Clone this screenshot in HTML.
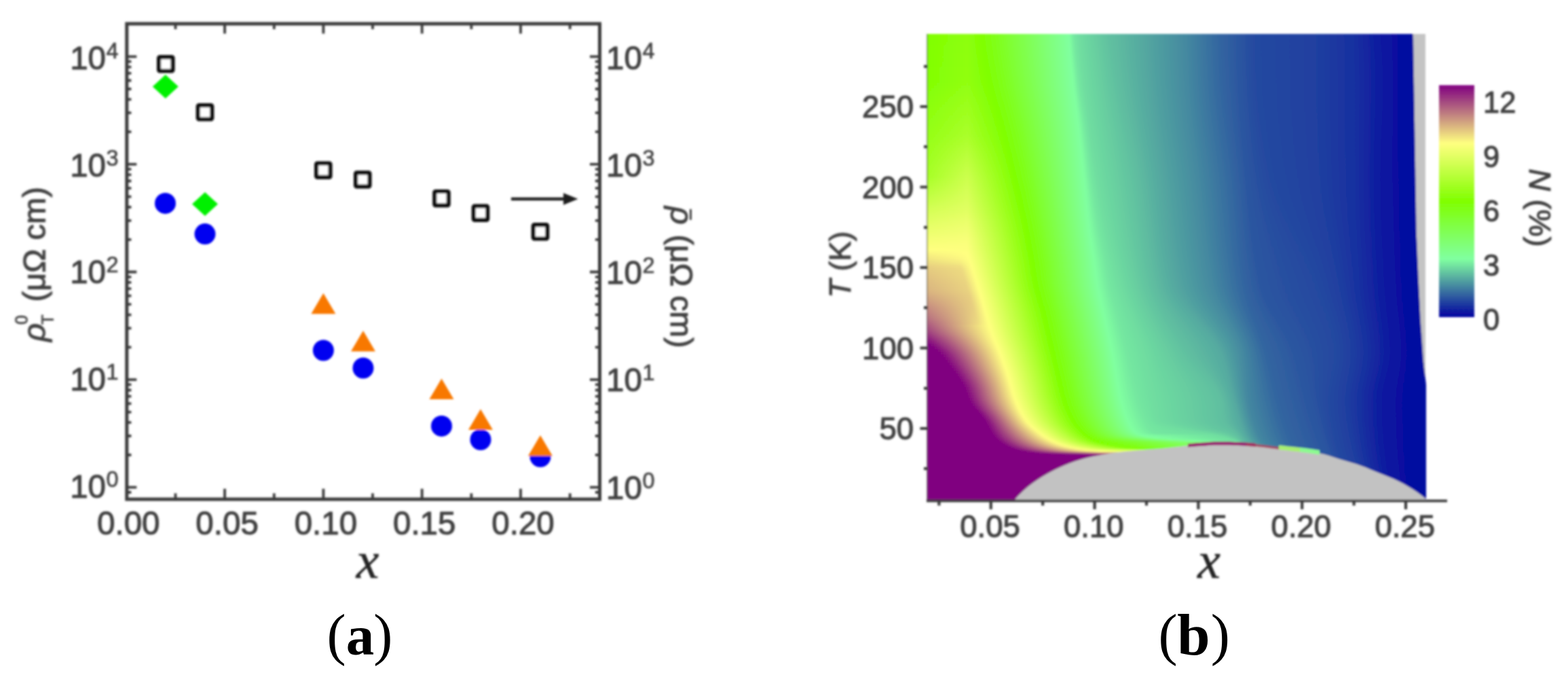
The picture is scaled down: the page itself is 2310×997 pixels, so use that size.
<!DOCTYPE html>
<html lang="en"><head><meta charset="utf-8"><title>Figure</title>
<style>html,body{margin:0;padding:0;background:#fff}svg{display:block}</style></head><body>
<svg width="2310" height="997" viewBox="0 0 2310 997">
<defs><filter id="soft" x="-2%" y="-2%" width="104%" height="104%"><feGaussianBlur stdDeviation="1.4"/></filter>
<linearGradient id="cb" x1="0" y1="1" x2="0" y2="0"><stop offset="0.000" stop-color="#0000a0"/><stop offset="0.250" stop-color="#80ffa0"/><stop offset="0.500" stop-color="#80ff00"/><stop offset="0.750" stop-color="#ffff80"/><stop offset="1.000" stop-color="#800080"/></linearGradient></defs>
<rect width="2310" height="997" fill="#fff"/>
<g id="plotA" filter="url(#soft)">
<rect x="186.8" y="35.0" width="696.7" height="700.2" fill="none" stroke="#3a3a3a" stroke-width="5.0"/>
<path d="M258.5 735.2v-8.8M258.5 35.0v8M331.1 735.2v-15.5M331.1 35.0v14.5M403.8 735.2v-8.8M403.8 35.0v8M476.4 735.2v-15.5M476.4 35.0v14.5M549.0 735.2v-8.8M549.0 35.0v8M621.7 735.2v-15.5M621.7 35.0v14.5M694.4 735.2v-8.8M694.4 35.0v8M767.0 735.2v-15.5M767.0 35.0v14.5M839.7 735.2v-8.8M839.7 35.0v8M186.8 717.7h14.5M883.5 717.7h-14.5M186.8 670.0h6.6M883.5 670.0h-6.6M186.8 642.0h6.6M883.5 642.0h-6.6M186.8 622.2h6.6M883.5 622.2h-6.6M186.8 606.8h6.6M883.5 606.8h-6.6M186.8 594.3h6.6M883.5 594.3h-6.6M186.8 583.7h6.6M883.5 583.7h-6.6M186.8 574.5h6.6M883.5 574.5h-6.6M186.8 566.4h6.6M883.5 566.4h-6.6M186.8 559.1h14.5M883.5 559.1h-14.5M186.8 511.4h6.6M883.5 511.4h-6.6M186.8 483.4h6.6M883.5 483.4h-6.6M186.8 463.6h6.6M883.5 463.6h-6.6M186.8 448.2h6.6M883.5 448.2h-6.6M186.8 435.7h6.6M883.5 435.7h-6.6M186.8 425.1h6.6M883.5 425.1h-6.6M186.8 415.9h6.6M883.5 415.9h-6.6M186.8 407.8h6.6M883.5 407.8h-6.6M186.8 400.5h14.5M883.5 400.5h-14.5M186.8 352.8h6.6M883.5 352.8h-6.6M186.8 324.8h6.6M883.5 324.8h-6.6M186.8 305.0h6.6M883.5 305.0h-6.6M186.8 289.6h6.6M883.5 289.6h-6.6M186.8 277.1h6.6M883.5 277.1h-6.6M186.8 266.5h6.6M883.5 266.5h-6.6M186.8 257.3h6.6M883.5 257.3h-6.6M186.8 249.2h6.6M883.5 249.2h-6.6M186.8 241.9h14.5M883.5 241.9h-14.5M186.8 194.2h6.6M883.5 194.2h-6.6M186.8 166.2h6.6M883.5 166.2h-6.6M186.8 146.4h6.6M883.5 146.4h-6.6M186.8 131.0h6.6M883.5 131.0h-6.6M186.8 118.5h6.6M883.5 118.5h-6.6M186.8 107.9h6.6M883.5 107.9h-6.6M186.8 98.7h6.6M883.5 98.7h-6.6M186.8 90.6h6.6M883.5 90.6h-6.6M186.8 83.3h14.5M883.5 83.3h-14.5M186.8 725.0h6.6M883.5 725.0h-6.6" stroke="#3a3a3a" stroke-width="3.8" fill="none"/>
<g font-family="'Liberation Sans', sans-serif" fill="#404040" stroke="#404040" stroke-width="1.1" stroke-linejoin="round" font-size="47.5">
<text x="156" y="732.6" text-anchor="end">10<tspan x="156.5" y="716.6" text-anchor="start" font-size="32.5" stroke-width="0.7" fill="#444" stroke="#444">0</tspan></text>
<text x="893" y="734.6">10<tspan x="946.5" y="718.6" font-size="32.5" stroke-width="0.7" fill="#444" stroke="#444">0</tspan></text>
<text x="156" y="574.9" text-anchor="end">10<tspan x="156.5" y="558.9" text-anchor="start" font-size="32.5" stroke-width="0.7" fill="#444" stroke="#444">1</tspan></text>
<text x="893" y="576.4">10<tspan x="946.5" y="560.4" font-size="32.5" stroke-width="0.7" fill="#444" stroke="#444">1</tspan></text>
<text x="156" y="417.2" text-anchor="end">10<tspan x="156.5" y="401.2" text-anchor="start" font-size="32.5" stroke-width="0.7" fill="#444" stroke="#444">2</tspan></text>
<text x="893" y="418.2">10<tspan x="946.5" y="402.2" font-size="32.5" stroke-width="0.7" fill="#444" stroke="#444">2</tspan></text>
<text x="156" y="259.5" text-anchor="end">10<tspan x="156.5" y="243.5" text-anchor="start" font-size="32.5" stroke-width="0.7" fill="#444" stroke="#444">3</tspan></text>
<text x="893" y="260.0">10<tspan x="946.5" y="244.0" font-size="32.5" stroke-width="0.7" fill="#444" stroke="#444">3</tspan></text>
<text x="156" y="101.8" text-anchor="end">10<tspan x="156.5" y="85.8" text-anchor="start" font-size="32.5" stroke-width="0.7" fill="#444" stroke="#444">4</tspan></text>
<text x="893" y="101.8">10<tspan x="946.5" y="85.8" font-size="32.5" stroke-width="0.7" fill="#444" stroke="#444">4</tspan></text>
<text x="189.3" y="787" text-anchor="middle" font-size="47.5">0.00</text>
<text x="334.6" y="787" text-anchor="middle" font-size="47.5">0.05</text>
<text x="479.9" y="787" text-anchor="middle" font-size="47.5">0.10</text>
<text x="625.2" y="787" text-anchor="middle" font-size="47.5">0.15</text>
<text x="770.5" y="787" text-anchor="middle" font-size="47.5">0.20</text>
</g>
<rect x="234.1" y="84.1" width="20.4" height="20.4" rx="1.5" fill="#fff" stroke="#111" stroke-width="6.2"/>
<rect x="291.8" y="155.1" width="20.4" height="20.4" rx="1.5" fill="#fff" stroke="#111" stroke-width="6.2"/>
<rect x="466.1" y="240.5" width="20.4" height="20.4" rx="1.5" fill="#fff" stroke="#111" stroke-width="6.2"/>
<rect x="524.1" y="254.3" width="20.4" height="20.4" rx="1.5" fill="#fff" stroke="#111" stroke-width="6.2"/>
<rect x="640.3" y="282.0" width="20.4" height="20.4" rx="1.5" fill="#fff" stroke="#111" stroke-width="6.2"/>
<rect x="697.8" y="303.5" width="20.4" height="20.4" rx="1.5" fill="#fff" stroke="#111" stroke-width="6.2"/>
<rect x="785.8" y="331.1" width="20.4" height="20.4" rx="1.5" fill="#fff" stroke="#111" stroke-width="6.2"/>
<path d="M224.8 127.5L243.8 110.0L262.8 127.5L243.8 145.0Z" fill="#00f000"/>
<path d="M283 300.6L302 283.1L321 300.6L302 318.1Z" fill="#00f000"/>
<circle cx="243.5" cy="299.4" r="15.5" fill="#0000f0"/>
<circle cx="302" cy="344.6" r="15.5" fill="#0000f0"/>
<circle cx="476.4" cy="516" r="15.5" fill="#0000f0"/>
<circle cx="535" cy="542" r="15.5" fill="#0000f0"/>
<circle cx="650.5" cy="627.4" r="15.5" fill="#0000f0"/>
<circle cx="708" cy="647.5" r="15.5" fill="#0000f0"/>
<circle cx="796" cy="672.5" r="15.5" fill="#0000f0"/>
<path d="M458.4 462.3L476.4 431.8L494.4 462.3Z" fill="#f87800"/>
<path d="M517 517.5L535 487L553 517.5Z" fill="#f87800"/>
<path d="M632.5 588.0L650.5 557.5L668.5 588.0Z" fill="#f87800"/>
<path d="M690 633.0L708 602.5L726 633.0Z" fill="#f87800"/>
<path d="M778 671.5L796 641L814 671.5Z" fill="#f87800"/>
<path d="M753 293H836" stroke="#1a1a1a" stroke-width="4.3"/><path d="M851.5 293L830 284.3V301.7Z" fill="#1a1a1a"/>
<text x="541.5" y="851" text-anchor="middle" font-family="'Liberation Serif', serif" font-style="italic" font-size="76" fill="#222" stroke="#222" stroke-width="0.5">x</text>
<g transform="translate(66.5 398) rotate(-90)" font-family="'Liberation Sans', sans-serif" fill="#404040" stroke="#404040" stroke-width="1.1" stroke-linejoin="round" font-size="47"><text x="-105" y="0"><tspan font-style="italic">ρ</tspan><tspan x="-80" y="-26" font-size="25" stroke-width="0.8">0</tspan><tspan x="-80" y="12" font-size="24" stroke-width="0.8">T</tspan><tspan x="-59.5" y="0"> (μΩ cm)</tspan></text></g>
<g transform="translate(988 400) rotate(90)" font-family="'Liberation Sans', sans-serif" fill="#404040" stroke="#404040" stroke-width="1.1" stroke-linejoin="round" font-size="46.4"><text x="-96" y="0"><tspan font-style="italic">ρ</tspan><tspan x="-91" y="-10.5" font-size="25" stroke-width="1.8">¯</tspan><tspan x="-67.5" y="0"> (μΩ cm)</tspan></text></g>
</g>
<text font-family="'Liberation Serif', serif" fill="#000" text-anchor="middle"><tspan x="495.50000000000006" y="963.4" font-size="84.5">(</tspan><tspan x="530.6" y="964" font-size="83" font-weight="bold">a</tspan><tspan x="564.3000000000001" y="963.4" font-size="84.5">)</tspan></text>
<text font-family="'Liberation Serif', serif" fill="#000" text-anchor="middle"><tspan x="1720.4999999999998" y="963.4" font-size="84.5">(</tspan><tspan x="1758.5" y="964" font-size="87" font-weight="bold">b</tspan><tspan x="1797.7" y="963.4" font-size="84.5">)</tspan></text>
<defs><linearGradient id="g0" gradientUnits="userSpaceOnUse" x1="1366.0" x2="2102.0" y1="0" y2="0"><stop offset="0.0000" stop-color="#80ff00"/><stop offset="0.0802" stop-color="#8dff0d"/><stop offset="0.1077" stop-color="#80ff00"/><stop offset="0.2841" stop-color="#80ffa0"/><stop offset="0.2937" stop-color="#74e7a0"/><stop offset="0.3046" stop-color="#6fdda0"/><stop offset="0.3658" stop-color="#60bfa0"/><stop offset="0.4268" stop-color="#55aaa0"/><stop offset="0.5190" stop-color="#4488a0"/><stop offset="0.5829" stop-color="#3366a0"/><stop offset="0.6250" stop-color="#2b55a0"/><stop offset="0.6576" stop-color="#2448a0"/><stop offset="0.7731" stop-color="#2040a0"/><stop offset="0.8561" stop-color="#172fa0"/><stop offset="0.9078" stop-color="#0d19a0"/><stop offset="0.9429" stop-color="#060da0"/><stop offset="0.9702" stop-color="#0307a0"/></linearGradient><linearGradient id="g1" gradientUnits="userSpaceOnUse" x1="1366.0" x2="2102.0" y1="0" y2="0"><stop offset="0.0000" stop-color="#80ff00"/><stop offset="0.0802" stop-color="#8dff0d"/><stop offset="0.1083" stop-color="#80ff00"/><stop offset="0.2845" stop-color="#80ffa0"/><stop offset="0.2941" stop-color="#74e7a0"/><stop offset="0.3051" stop-color="#6fdda0"/><stop offset="0.3665" stop-color="#60bfa0"/><stop offset="0.4270" stop-color="#55aaa0"/><stop offset="0.5191" stop-color="#4488a0"/><stop offset="0.5830" stop-color="#3366a0"/><stop offset="0.6251" stop-color="#2b55a0"/><stop offset="0.6576" stop-color="#2448a0"/><stop offset="0.7731" stop-color="#2040a0"/><stop offset="0.8563" stop-color="#172fa0"/><stop offset="0.9083" stop-color="#0d19a0"/><stop offset="0.9429" stop-color="#060da0"/><stop offset="0.9702" stop-color="#0307a0"/></linearGradient><linearGradient id="g2" gradientUnits="userSpaceOnUse" x1="1366.0" x2="2102.0" y1="0" y2="0"><stop offset="0.0000" stop-color="#80ff00"/><stop offset="0.0802" stop-color="#8dff0d"/><stop offset="0.1090" stop-color="#80ff00"/><stop offset="0.2849" stop-color="#80ffa0"/><stop offset="0.2946" stop-color="#74e7a0"/><stop offset="0.3056" stop-color="#6fdda0"/><stop offset="0.3672" stop-color="#60bfa0"/><stop offset="0.4273" stop-color="#55aaa0"/><stop offset="0.5191" stop-color="#4488a0"/><stop offset="0.5832" stop-color="#3366a0"/><stop offset="0.6252" stop-color="#2b55a0"/><stop offset="0.6577" stop-color="#2448a0"/><stop offset="0.7731" stop-color="#2040a0"/><stop offset="0.8565" stop-color="#172fa0"/><stop offset="0.9088" stop-color="#0d19a0"/><stop offset="0.9429" stop-color="#060da0"/><stop offset="0.9703" stop-color="#0307a0"/></linearGradient><linearGradient id="g3" gradientUnits="userSpaceOnUse" x1="1366.0" x2="2102.0" y1="0" y2="0"><stop offset="0.0000" stop-color="#80ff00"/><stop offset="0.0802" stop-color="#8eff0e"/><stop offset="0.1098" stop-color="#80ff00"/><stop offset="0.2853" stop-color="#80ffa0"/><stop offset="0.2951" stop-color="#74e7a0"/><stop offset="0.3061" stop-color="#6fdda0"/><stop offset="0.3679" stop-color="#60bfa0"/><stop offset="0.4276" stop-color="#55aaa0"/><stop offset="0.5192" stop-color="#4488a0"/><stop offset="0.5833" stop-color="#3366a0"/><stop offset="0.6253" stop-color="#2b55a0"/><stop offset="0.6578" stop-color="#2448a0"/><stop offset="0.7731" stop-color="#2040a0"/><stop offset="0.8567" stop-color="#172fa0"/><stop offset="0.9092" stop-color="#0d19a0"/><stop offset="0.9429" stop-color="#060da0"/><stop offset="0.9704" stop-color="#0307a0"/></linearGradient><linearGradient id="g4" gradientUnits="userSpaceOnUse" x1="1366.0" x2="2102.0" y1="0" y2="0"><stop offset="0.0000" stop-color="#81ff01"/><stop offset="0.0802" stop-color="#8eff0e"/><stop offset="0.1106" stop-color="#80ff00"/><stop offset="0.2857" stop-color="#80ffa0"/><stop offset="0.2956" stop-color="#74e7a0"/><stop offset="0.3066" stop-color="#6fdda0"/><stop offset="0.3687" stop-color="#60bfa0"/><stop offset="0.4280" stop-color="#55aaa0"/><stop offset="0.5193" stop-color="#4488a0"/><stop offset="0.5835" stop-color="#3366a0"/><stop offset="0.6255" stop-color="#2b55a0"/><stop offset="0.6578" stop-color="#2448a0"/><stop offset="0.7731" stop-color="#2040a0"/><stop offset="0.8569" stop-color="#172fa0"/><stop offset="0.9097" stop-color="#0d19a0"/><stop offset="0.9430" stop-color="#060da0"/><stop offset="0.9705" stop-color="#0307a0"/></linearGradient><linearGradient id="g5" gradientUnits="userSpaceOnUse" x1="1366.0" x2="2102.0" y1="0" y2="0"><stop offset="0.0000" stop-color="#81ff01"/><stop offset="0.0802" stop-color="#8eff0e"/><stop offset="0.1114" stop-color="#80ff00"/><stop offset="0.2861" stop-color="#80ffa0"/><stop offset="0.2961" stop-color="#74e7a0"/><stop offset="0.3071" stop-color="#6fdda0"/><stop offset="0.3694" stop-color="#60bfa0"/><stop offset="0.4283" stop-color="#55aaa0"/><stop offset="0.5194" stop-color="#4488a0"/><stop offset="0.5837" stop-color="#3366a0"/><stop offset="0.6256" stop-color="#2b55a0"/><stop offset="0.6580" stop-color="#2448a0"/><stop offset="0.7731" stop-color="#2040a0"/><stop offset="0.8572" stop-color="#172fa0"/><stop offset="0.9101" stop-color="#0d19a0"/><stop offset="0.9430" stop-color="#060da0"/><stop offset="0.9706" stop-color="#0307a0"/></linearGradient><linearGradient id="g6" gradientUnits="userSpaceOnUse" x1="1366.0" x2="2102.0" y1="0" y2="0"><stop offset="0.0000" stop-color="#81ff01"/><stop offset="0.0802" stop-color="#8eff0e"/><stop offset="0.1122" stop-color="#80ff00"/><stop offset="0.2866" stop-color="#80ffa0"/><stop offset="0.2966" stop-color="#74e7a0"/><stop offset="0.3076" stop-color="#6fdda0"/><stop offset="0.3701" stop-color="#60bfa0"/><stop offset="0.4287" stop-color="#55aaa0"/><stop offset="0.5195" stop-color="#4488a0"/><stop offset="0.5839" stop-color="#3366a0"/><stop offset="0.6257" stop-color="#2b55a0"/><stop offset="0.6581" stop-color="#2448a0"/><stop offset="0.7731" stop-color="#2040a0"/><stop offset="0.8574" stop-color="#172fa0"/><stop offset="0.9105" stop-color="#0d19a0"/><stop offset="0.9430" stop-color="#060da0"/><stop offset="0.9707" stop-color="#0307a0"/></linearGradient><linearGradient id="g7" gradientUnits="userSpaceOnUse" x1="1366.0" x2="2102.0" y1="0" y2="0"><stop offset="0.0000" stop-color="#81ff01"/><stop offset="0.0802" stop-color="#8fff0f"/><stop offset="0.1131" stop-color="#80ff00"/><stop offset="0.2870" stop-color="#80ffa0"/><stop offset="0.2971" stop-color="#74e7a0"/><stop offset="0.3081" stop-color="#6fdda0"/><stop offset="0.3709" stop-color="#60bfa0"/><stop offset="0.4290" stop-color="#55aaa0"/><stop offset="0.5197" stop-color="#4488a0"/><stop offset="0.5841" stop-color="#3366a0"/><stop offset="0.6259" stop-color="#2b55a0"/><stop offset="0.6582" stop-color="#2448a0"/><stop offset="0.7731" stop-color="#2040a0"/><stop offset="0.8576" stop-color="#172fa0"/><stop offset="0.9109" stop-color="#0d19a0"/><stop offset="0.9430" stop-color="#060da0"/><stop offset="0.9708" stop-color="#0307a0"/></linearGradient><linearGradient id="g8" gradientUnits="userSpaceOnUse" x1="1366.0" x2="2102.0" y1="0" y2="0"><stop offset="0.0000" stop-color="#81ff01"/><stop offset="0.0802" stop-color="#8fff0f"/><stop offset="0.1141" stop-color="#80ff00"/><stop offset="0.2875" stop-color="#80ffa0"/><stop offset="0.2977" stop-color="#74e7a0"/><stop offset="0.3087" stop-color="#6fdda0"/><stop offset="0.3717" stop-color="#60bfa0"/><stop offset="0.4294" stop-color="#55aaa0"/><stop offset="0.5198" stop-color="#4488a0"/><stop offset="0.5843" stop-color="#3366a0"/><stop offset="0.6260" stop-color="#2b55a0"/><stop offset="0.6584" stop-color="#2448a0"/><stop offset="0.7731" stop-color="#2040a0"/><stop offset="0.8577" stop-color="#172fa0"/><stop offset="0.9113" stop-color="#0d19a0"/><stop offset="0.9430" stop-color="#060da0"/><stop offset="0.9709" stop-color="#0307a0"/></linearGradient><linearGradient id="g9" gradientUnits="userSpaceOnUse" x1="1366.0" x2="2102.0" y1="0" y2="0"><stop offset="0.0000" stop-color="#81ff01"/><stop offset="0.0802" stop-color="#8fff0f"/><stop offset="0.1150" stop-color="#80ff00"/><stop offset="0.2880" stop-color="#80ffa0"/><stop offset="0.2982" stop-color="#74e7a0"/><stop offset="0.3092" stop-color="#6fdda0"/><stop offset="0.3724" stop-color="#60bfa0"/><stop offset="0.4298" stop-color="#55aaa0"/><stop offset="0.5200" stop-color="#4488a0"/><stop offset="0.5846" stop-color="#3366a0"/><stop offset="0.6262" stop-color="#2b55a0"/><stop offset="0.6586" stop-color="#2448a0"/><stop offset="0.7731" stop-color="#2040a0"/><stop offset="0.8579" stop-color="#172fa0"/><stop offset="0.9116" stop-color="#0d19a0"/><stop offset="0.9430" stop-color="#060da0"/><stop offset="0.9709" stop-color="#0307a0"/></linearGradient><linearGradient id="g10" gradientUnits="userSpaceOnUse" x1="1366.0" x2="2102.0" y1="0" y2="0"><stop offset="0.0000" stop-color="#81ff01"/><stop offset="0.0802" stop-color="#8fff0f"/><stop offset="0.1160" stop-color="#80ff00"/><stop offset="0.2884" stop-color="#80ffa0"/><stop offset="0.2988" stop-color="#74e7a0"/><stop offset="0.3098" stop-color="#6fdda0"/><stop offset="0.3732" stop-color="#60bfa0"/><stop offset="0.4302" stop-color="#55aaa0"/><stop offset="0.5202" stop-color="#4488a0"/><stop offset="0.5849" stop-color="#3366a0"/><stop offset="0.6264" stop-color="#2b55a0"/><stop offset="0.6588" stop-color="#2448a0"/><stop offset="0.7731" stop-color="#2040a0"/><stop offset="0.8581" stop-color="#172fa0"/><stop offset="0.9119" stop-color="#0d19a0"/><stop offset="0.9430" stop-color="#060da0"/><stop offset="0.9710" stop-color="#0307a0"/></linearGradient><linearGradient id="g11" gradientUnits="userSpaceOnUse" x1="1366.0" x2="2102.0" y1="0" y2="0"><stop offset="0.0000" stop-color="#81ff01"/><stop offset="0.0802" stop-color="#8fff10"/><stop offset="0.1170" stop-color="#80ff00"/><stop offset="0.2889" stop-color="#80ffa0"/><stop offset="0.2993" stop-color="#74e7a0"/><stop offset="0.3103" stop-color="#6fdda0"/><stop offset="0.3740" stop-color="#60bfa0"/><stop offset="0.4306" stop-color="#55aaa0"/><stop offset="0.5204" stop-color="#4488a0"/><stop offset="0.5851" stop-color="#3366a0"/><stop offset="0.6265" stop-color="#2b55a0"/><stop offset="0.6590" stop-color="#2448a0"/><stop offset="0.7731" stop-color="#2040a0"/><stop offset="0.8582" stop-color="#172fa0"/><stop offset="0.9122" stop-color="#0d19a0"/><stop offset="0.9431" stop-color="#060da0"/><stop offset="0.9711" stop-color="#0307a0"/></linearGradient><linearGradient id="g12" gradientUnits="userSpaceOnUse" x1="1366.0" x2="2102.0" y1="0" y2="0"><stop offset="0.0000" stop-color="#82ff02"/><stop offset="0.0802" stop-color="#90ff10"/><stop offset="0.1181" stop-color="#80ff00"/><stop offset="0.2895" stop-color="#80ffa0"/><stop offset="0.2999" stop-color="#74e7a0"/><stop offset="0.3109" stop-color="#6fdda0"/><stop offset="0.3748" stop-color="#60bfa0"/><stop offset="0.4311" stop-color="#55aaa0"/><stop offset="0.5206" stop-color="#4488a0"/><stop offset="0.5854" stop-color="#3366a0"/><stop offset="0.6267" stop-color="#2b55a0"/><stop offset="0.6592" stop-color="#2448a0"/><stop offset="0.7731" stop-color="#2040a0"/><stop offset="0.8584" stop-color="#172fa0"/><stop offset="0.9124" stop-color="#0d19a0"/><stop offset="0.9431" stop-color="#060da0"/><stop offset="0.9712" stop-color="#0307a0"/></linearGradient><linearGradient id="g13" gradientUnits="userSpaceOnUse" x1="1366.0" x2="2102.0" y1="0" y2="0"><stop offset="0.0000" stop-color="#82ff02"/><stop offset="0.0802" stop-color="#90ff10"/><stop offset="0.1191" stop-color="#80ff00"/><stop offset="0.2900" stop-color="#80ffa0"/><stop offset="0.3005" stop-color="#74e7a0"/><stop offset="0.3115" stop-color="#6fdda0"/><stop offset="0.3757" stop-color="#60bfa0"/><stop offset="0.4315" stop-color="#55aaa0"/><stop offset="0.5208" stop-color="#4488a0"/><stop offset="0.5857" stop-color="#3366a0"/><stop offset="0.6269" stop-color="#2b55a0"/><stop offset="0.6594" stop-color="#2448a0"/><stop offset="0.7731" stop-color="#2040a0"/><stop offset="0.8585" stop-color="#172fa0"/><stop offset="0.9127" stop-color="#0d19a0"/><stop offset="0.9431" stop-color="#060da0"/><stop offset="0.9713" stop-color="#0307a0"/></linearGradient><linearGradient id="g14" gradientUnits="userSpaceOnUse" x1="1366.0" x2="2102.0" y1="0" y2="0"><stop offset="0.0000" stop-color="#82ff02"/><stop offset="0.0802" stop-color="#90ff10"/><stop offset="0.1202" stop-color="#80ff00"/><stop offset="0.2905" stop-color="#80ffa0"/><stop offset="0.3011" stop-color="#74e7a0"/><stop offset="0.3121" stop-color="#6fdda0"/><stop offset="0.3765" stop-color="#60bfa0"/><stop offset="0.4320" stop-color="#55aaa0"/><stop offset="0.5210" stop-color="#4488a0"/><stop offset="0.5860" stop-color="#3366a0"/><stop offset="0.6271" stop-color="#2b55a0"/><stop offset="0.6596" stop-color="#2448a0"/><stop offset="0.7731" stop-color="#2040a0"/><stop offset="0.8586" stop-color="#172fa0"/><stop offset="0.9128" stop-color="#0d19a0"/><stop offset="0.9432" stop-color="#060da0"/><stop offset="0.9714" stop-color="#0307a0"/></linearGradient><linearGradient id="g15" gradientUnits="userSpaceOnUse" x1="1366.0" x2="2102.0" y1="0" y2="0"><stop offset="0.0000" stop-color="#82ff02"/><stop offset="0.0802" stop-color="#90ff11"/><stop offset="0.1214" stop-color="#80ff00"/><stop offset="0.2910" stop-color="#80ffa0"/><stop offset="0.3017" stop-color="#74e7a0"/><stop offset="0.3126" stop-color="#6fdda0"/><stop offset="0.3773" stop-color="#60bfa0"/><stop offset="0.4324" stop-color="#55aaa0"/><stop offset="0.5213" stop-color="#4488a0"/><stop offset="0.5863" stop-color="#3366a0"/><stop offset="0.6273" stop-color="#2b55a0"/><stop offset="0.6598" stop-color="#2448a0"/><stop offset="0.7731" stop-color="#2040a0"/><stop offset="0.8586" stop-color="#172fa0"/><stop offset="0.9129" stop-color="#0d19a0"/><stop offset="0.9432" stop-color="#060da0"/><stop offset="0.9715" stop-color="#0307a0"/></linearGradient><linearGradient id="g16" gradientUnits="userSpaceOnUse" x1="1366.0" x2="2102.0" y1="0" y2="0"><stop offset="0.0000" stop-color="#82ff02"/><stop offset="0.0802" stop-color="#91ff11"/><stop offset="0.1225" stop-color="#80ff00"/><stop offset="0.2916" stop-color="#80ffa0"/><stop offset="0.3024" stop-color="#74e7a0"/><stop offset="0.3132" stop-color="#6fdda0"/><stop offset="0.3782" stop-color="#60bfa0"/><stop offset="0.4329" stop-color="#55aaa0"/><stop offset="0.5215" stop-color="#4488a0"/><stop offset="0.5866" stop-color="#3366a0"/><stop offset="0.6275" stop-color="#2b55a0"/><stop offset="0.6601" stop-color="#2448a0"/><stop offset="0.7731" stop-color="#2040a0"/><stop offset="0.8587" stop-color="#172fa0"/><stop offset="0.9130" stop-color="#0d19a0"/><stop offset="0.9432" stop-color="#060da0"/><stop offset="0.9716" stop-color="#0307a0"/></linearGradient><linearGradient id="g17" gradientUnits="userSpaceOnUse" x1="1366.0" x2="2102.0" y1="0" y2="0"><stop offset="0.0000" stop-color="#82ff02"/><stop offset="0.0802" stop-color="#91ff11"/><stop offset="0.1236" stop-color="#80ff00"/><stop offset="0.2921" stop-color="#80ffa0"/><stop offset="0.3030" stop-color="#74e7a0"/><stop offset="0.3139" stop-color="#6fdda0"/><stop offset="0.3791" stop-color="#60bfa0"/><stop offset="0.4334" stop-color="#55aaa0"/><stop offset="0.5217" stop-color="#4488a0"/><stop offset="0.5870" stop-color="#3366a0"/><stop offset="0.6277" stop-color="#2b55a0"/><stop offset="0.6603" stop-color="#2448a0"/><stop offset="0.7731" stop-color="#2040a0"/><stop offset="0.8587" stop-color="#172fa0"/><stop offset="0.9130" stop-color="#0d19a0"/><stop offset="0.9432" stop-color="#060da0"/><stop offset="0.9717" stop-color="#0307a0"/></linearGradient><linearGradient id="g18" gradientUnits="userSpaceOnUse" x1="1366.0" x2="2102.0" y1="0" y2="0"><stop offset="0.0000" stop-color="#83ff03"/><stop offset="0.0802" stop-color="#92ff12"/><stop offset="0.1249" stop-color="#80ff00"/><stop offset="0.2927" stop-color="#80ffa0"/><stop offset="0.3036" stop-color="#74e7a0"/><stop offset="0.3145" stop-color="#6fdda0"/><stop offset="0.3800" stop-color="#60bfa0"/><stop offset="0.4339" stop-color="#55aaa0"/><stop offset="0.5220" stop-color="#4488a0"/><stop offset="0.5873" stop-color="#3366a0"/><stop offset="0.6279" stop-color="#2b55a0"/><stop offset="0.6606" stop-color="#2448a0"/><stop offset="0.7731" stop-color="#2040a0"/><stop offset="0.8587" stop-color="#172fa0"/><stop offset="0.9130" stop-color="#0d19a0"/><stop offset="0.9433" stop-color="#060da0"/><stop offset="0.9717" stop-color="#0307a0"/></linearGradient><linearGradient id="g19" gradientUnits="userSpaceOnUse" x1="1366.0" x2="2102.0" y1="0" y2="0"><stop offset="0.0000" stop-color="#84ff04"/><stop offset="0.0802" stop-color="#93ff14"/><stop offset="0.1262" stop-color="#80ff00"/><stop offset="0.2933" stop-color="#80ffa0"/><stop offset="0.3043" stop-color="#74e7a0"/><stop offset="0.3151" stop-color="#6fdda0"/><stop offset="0.3809" stop-color="#60bfa0"/><stop offset="0.4345" stop-color="#55aaa0"/><stop offset="0.5223" stop-color="#4488a0"/><stop offset="0.5877" stop-color="#3366a0"/><stop offset="0.6282" stop-color="#2b55a0"/><stop offset="0.6609" stop-color="#2448a0"/><stop offset="0.7731" stop-color="#2040a0"/><stop offset="0.8587" stop-color="#172fa0"/><stop offset="0.9130" stop-color="#0d19a0"/><stop offset="0.9433" stop-color="#060da0"/><stop offset="0.9718" stop-color="#0307a0"/></linearGradient><linearGradient id="g20" gradientUnits="userSpaceOnUse" x1="1366.0" x2="2102.0" y1="0" y2="0"><stop offset="0.0000" stop-color="#85ff05"/><stop offset="0.0802" stop-color="#95ff15"/><stop offset="0.1275" stop-color="#80ff00"/><stop offset="0.2939" stop-color="#80ffa0"/><stop offset="0.3050" stop-color="#74e7a0"/><stop offset="0.3157" stop-color="#6fdda0"/><stop offset="0.3818" stop-color="#60bfa0"/><stop offset="0.4351" stop-color="#55aaa0"/><stop offset="0.5226" stop-color="#4488a0"/><stop offset="0.5881" stop-color="#3366a0"/><stop offset="0.6284" stop-color="#2b55a0"/><stop offset="0.6612" stop-color="#2448a0"/><stop offset="0.7732" stop-color="#2040a0"/><stop offset="0.8587" stop-color="#172fa0"/><stop offset="0.9129" stop-color="#0d19a0"/><stop offset="0.9434" stop-color="#060da0"/><stop offset="0.9719" stop-color="#0307a0"/></linearGradient><linearGradient id="g21" gradientUnits="userSpaceOnUse" x1="1366.0" x2="2102.0" y1="0" y2="0"><stop offset="0.0000" stop-color="#86ff06"/><stop offset="0.0802" stop-color="#96ff16"/><stop offset="0.1290" stop-color="#80ff00"/><stop offset="0.2946" stop-color="#80ffa0"/><stop offset="0.3058" stop-color="#74e7a0"/><stop offset="0.3164" stop-color="#6fdda0"/><stop offset="0.3828" stop-color="#60bfa0"/><stop offset="0.4357" stop-color="#55aaa0"/><stop offset="0.5230" stop-color="#4488a0"/><stop offset="0.5886" stop-color="#3366a0"/><stop offset="0.6287" stop-color="#2b55a0"/><stop offset="0.6616" stop-color="#2448a0"/><stop offset="0.7732" stop-color="#2040a0"/><stop offset="0.8587" stop-color="#172fa0"/><stop offset="0.9128" stop-color="#0d19a0"/><stop offset="0.9434" stop-color="#060da0"/><stop offset="0.9720" stop-color="#0307a0"/></linearGradient><linearGradient id="g22" gradientUnits="userSpaceOnUse" x1="1366.0" x2="2102.0" y1="0" y2="0"><stop offset="0.0000" stop-color="#87ff07"/><stop offset="0.0802" stop-color="#97ff17"/><stop offset="0.1305" stop-color="#80ff00"/><stop offset="0.2953" stop-color="#80ffa0"/><stop offset="0.3065" stop-color="#74e7a0"/><stop offset="0.3170" stop-color="#6fdda0"/><stop offset="0.3838" stop-color="#60bfa0"/><stop offset="0.4363" stop-color="#55aaa0"/><stop offset="0.5234" stop-color="#4488a0"/><stop offset="0.5891" stop-color="#3366a0"/><stop offset="0.6289" stop-color="#2b55a0"/><stop offset="0.6620" stop-color="#2448a0"/><stop offset="0.7733" stop-color="#2040a0"/><stop offset="0.8587" stop-color="#172fa0"/><stop offset="0.9127" stop-color="#0d19a0"/><stop offset="0.9435" stop-color="#060da0"/><stop offset="0.9721" stop-color="#0307a0"/></linearGradient><linearGradient id="g23" gradientUnits="userSpaceOnUse" x1="1366.0" x2="2102.0" y1="0" y2="0"><stop offset="0.0000" stop-color="#88ff08"/><stop offset="0.0802" stop-color="#99ff19"/><stop offset="0.1321" stop-color="#80ff00"/><stop offset="0.2960" stop-color="#80ffa0"/><stop offset="0.3073" stop-color="#74e7a0"/><stop offset="0.3176" stop-color="#6fdda0"/><stop offset="0.3848" stop-color="#60bfa0"/><stop offset="0.4369" stop-color="#55aaa0"/><stop offset="0.5238" stop-color="#4488a0"/><stop offset="0.5896" stop-color="#3366a0"/><stop offset="0.6292" stop-color="#2b55a0"/><stop offset="0.6625" stop-color="#2448a0"/><stop offset="0.7734" stop-color="#2040a0"/><stop offset="0.8587" stop-color="#172fa0"/><stop offset="0.9126" stop-color="#0d19a0"/><stop offset="0.9435" stop-color="#060da0"/><stop offset="0.9722" stop-color="#0307a0"/></linearGradient><linearGradient id="g24" gradientUnits="userSpaceOnUse" x1="1366.0" x2="2102.0" y1="0" y2="0"><stop offset="0.0000" stop-color="#89ff09"/><stop offset="0.0802" stop-color="#9aff1a"/><stop offset="0.1337" stop-color="#80ff00"/><stop offset="0.2967" stop-color="#80ffa0"/><stop offset="0.3081" stop-color="#74e7a0"/><stop offset="0.3183" stop-color="#6fdda0"/><stop offset="0.3858" stop-color="#60bfa0"/><stop offset="0.4376" stop-color="#55aaa0"/><stop offset="0.5243" stop-color="#4488a0"/><stop offset="0.5902" stop-color="#3366a0"/><stop offset="0.6295" stop-color="#2b55a0"/><stop offset="0.6629" stop-color="#2448a0"/><stop offset="0.7734" stop-color="#2040a0"/><stop offset="0.8587" stop-color="#172fa0"/><stop offset="0.9125" stop-color="#0d19a0"/><stop offset="0.9435" stop-color="#060da0"/><stop offset="0.9723" stop-color="#0307a0"/></linearGradient><linearGradient id="g25" gradientUnits="userSpaceOnUse" x1="1366.0" x2="2102.0" y1="0" y2="0"><stop offset="0.0000" stop-color="#8aff0a"/><stop offset="0.0802" stop-color="#9bff1b"/><stop offset="0.1353" stop-color="#80ff00"/><stop offset="0.2974" stop-color="#80ffa0"/><stop offset="0.3089" stop-color="#74e7a0"/><stop offset="0.3190" stop-color="#6fdda0"/><stop offset="0.3868" stop-color="#60bfa0"/><stop offset="0.4383" stop-color="#55aaa0"/><stop offset="0.5248" stop-color="#4488a0"/><stop offset="0.5907" stop-color="#3366a0"/><stop offset="0.6298" stop-color="#2b55a0"/><stop offset="0.6635" stop-color="#2448a0"/><stop offset="0.7735" stop-color="#2040a0"/><stop offset="0.8587" stop-color="#172fa0"/><stop offset="0.9123" stop-color="#0d19a0"/><stop offset="0.9436" stop-color="#060da0"/><stop offset="0.9724" stop-color="#0307a0"/></linearGradient><linearGradient id="g26" gradientUnits="userSpaceOnUse" x1="1366.0" x2="2102.0" y1="0" y2="0"><stop offset="0.0000" stop-color="#8bff0b"/><stop offset="0.0802" stop-color="#9cff1d"/><stop offset="0.1370" stop-color="#80ff00"/><stop offset="0.2981" stop-color="#80ffa0"/><stop offset="0.3097" stop-color="#74e7a0"/><stop offset="0.3196" stop-color="#6fdda0"/><stop offset="0.3878" stop-color="#60bfa0"/><stop offset="0.4390" stop-color="#55aaa0"/><stop offset="0.5253" stop-color="#4488a0"/><stop offset="0.5913" stop-color="#3366a0"/><stop offset="0.6301" stop-color="#2b55a0"/><stop offset="0.6640" stop-color="#2448a0"/><stop offset="0.7737" stop-color="#2040a0"/><stop offset="0.8587" stop-color="#172fa0"/><stop offset="0.9122" stop-color="#0d19a0"/><stop offset="0.9436" stop-color="#060da0"/><stop offset="0.9724" stop-color="#0307a0"/></linearGradient><linearGradient id="g27" gradientUnits="userSpaceOnUse" x1="1366.0" x2="2102.0" y1="0" y2="0"><stop offset="0.0000" stop-color="#8cff0c"/><stop offset="0.0802" stop-color="#9eff1e"/><stop offset="0.1386" stop-color="#80ff00"/><stop offset="0.2989" stop-color="#80ffa0"/><stop offset="0.3105" stop-color="#74e7a0"/><stop offset="0.3203" stop-color="#6fdda0"/><stop offset="0.3889" stop-color="#60bfa0"/><stop offset="0.4398" stop-color="#55aaa0"/><stop offset="0.5259" stop-color="#4488a0"/><stop offset="0.5920" stop-color="#3366a0"/><stop offset="0.6305" stop-color="#2b55a0"/><stop offset="0.6646" stop-color="#2448a0"/><stop offset="0.7738" stop-color="#2040a0"/><stop offset="0.8587" stop-color="#172fa0"/><stop offset="0.9120" stop-color="#0d19a0"/><stop offset="0.9437" stop-color="#060da0"/><stop offset="0.9725" stop-color="#0307a0"/></linearGradient><linearGradient id="g28" gradientUnits="userSpaceOnUse" x1="1366.0" x2="2102.0" y1="0" y2="0"><stop offset="0.0000" stop-color="#8dff0d"/><stop offset="0.0802" stop-color="#9fff1f"/><stop offset="0.1403" stop-color="#80ff00"/><stop offset="0.2996" stop-color="#80ffa0"/><stop offset="0.3113" stop-color="#74e7a0"/><stop offset="0.3210" stop-color="#6fdda0"/><stop offset="0.3900" stop-color="#60bfa0"/><stop offset="0.4405" stop-color="#55aaa0"/><stop offset="0.5265" stop-color="#4488a0"/><stop offset="0.5926" stop-color="#3366a0"/><stop offset="0.6308" stop-color="#2b55a0"/><stop offset="0.6652" stop-color="#2448a0"/><stop offset="0.7739" stop-color="#2040a0"/><stop offset="0.8587" stop-color="#172fa0"/><stop offset="0.9118" stop-color="#0d19a0"/><stop offset="0.9438" stop-color="#060da0"/><stop offset="0.9726" stop-color="#0307a0"/></linearGradient><linearGradient id="g29" gradientUnits="userSpaceOnUse" x1="1366.0" x2="2102.0" y1="0" y2="0"><stop offset="0.0000" stop-color="#8eff0e"/><stop offset="0.0802" stop-color="#a0ff20"/><stop offset="0.1419" stop-color="#80ff00"/><stop offset="0.3003" stop-color="#80ffa0"/><stop offset="0.3121" stop-color="#74e7a0"/><stop offset="0.3216" stop-color="#6fdda0"/><stop offset="0.3911" stop-color="#60bfa0"/><stop offset="0.4413" stop-color="#55aaa0"/><stop offset="0.5271" stop-color="#4488a0"/><stop offset="0.5933" stop-color="#3366a0"/><stop offset="0.6311" stop-color="#2b55a0"/><stop offset="0.6659" stop-color="#2448a0"/><stop offset="0.7741" stop-color="#2040a0"/><stop offset="0.8587" stop-color="#172fa0"/><stop offset="0.9116" stop-color="#0d19a0"/><stop offset="0.9438" stop-color="#060da0"/><stop offset="0.9727" stop-color="#0307a0"/></linearGradient><linearGradient id="g30" gradientUnits="userSpaceOnUse" x1="1366.0" x2="2102.0" y1="0" y2="0"><stop offset="0.0000" stop-color="#8eff0f"/><stop offset="0.0802" stop-color="#a1ff22"/><stop offset="0.1435" stop-color="#80ff00"/><stop offset="0.3010" stop-color="#80ffa0"/><stop offset="0.3129" stop-color="#74e7a0"/><stop offset="0.3223" stop-color="#6fdda0"/><stop offset="0.3922" stop-color="#60bfa0"/><stop offset="0.4421" stop-color="#55aaa0"/><stop offset="0.5277" stop-color="#4488a0"/><stop offset="0.5940" stop-color="#3366a0"/><stop offset="0.6315" stop-color="#2b55a0"/><stop offset="0.6665" stop-color="#2448a0"/><stop offset="0.7742" stop-color="#2040a0"/><stop offset="0.8587" stop-color="#172fa0"/><stop offset="0.9114" stop-color="#0d19a0"/><stop offset="0.9439" stop-color="#060da0"/><stop offset="0.9728" stop-color="#0307a0"/></linearGradient><linearGradient id="g31" gradientUnits="userSpaceOnUse" x1="1366.0" x2="2102.0" y1="0" y2="0"><stop offset="0.0000" stop-color="#8fff10"/><stop offset="0.0802" stop-color="#a3ff23"/><stop offset="0.1451" stop-color="#80ff00"/><stop offset="0.3017" stop-color="#80ffa0"/><stop offset="0.3136" stop-color="#74e7a0"/><stop offset="0.3230" stop-color="#6fdda0"/><stop offset="0.3933" stop-color="#60bfa0"/><stop offset="0.4429" stop-color="#55aaa0"/><stop offset="0.5283" stop-color="#4488a0"/><stop offset="0.5947" stop-color="#3366a0"/><stop offset="0.6319" stop-color="#2b55a0"/><stop offset="0.6672" stop-color="#2448a0"/><stop offset="0.7744" stop-color="#2040a0"/><stop offset="0.8587" stop-color="#172fa0"/><stop offset="0.9111" stop-color="#0d19a0"/><stop offset="0.9439" stop-color="#060da0"/><stop offset="0.9729" stop-color="#0307a0"/></linearGradient><linearGradient id="g32" gradientUnits="userSpaceOnUse" x1="1366.0" x2="2102.0" y1="0" y2="0"><stop offset="0.0000" stop-color="#90ff11"/><stop offset="0.0802" stop-color="#a4ff24"/><stop offset="0.1466" stop-color="#80ff00"/><stop offset="0.3024" stop-color="#80ffa0"/><stop offset="0.3144" stop-color="#74e7a0"/><stop offset="0.3237" stop-color="#6fdda0"/><stop offset="0.3944" stop-color="#60bfa0"/><stop offset="0.4437" stop-color="#55aaa0"/><stop offset="0.5290" stop-color="#4488a0"/><stop offset="0.5955" stop-color="#3366a0"/><stop offset="0.6322" stop-color="#2b55a0"/><stop offset="0.6680" stop-color="#2448a0"/><stop offset="0.7746" stop-color="#2040a0"/><stop offset="0.8587" stop-color="#172fa0"/><stop offset="0.9109" stop-color="#0d19a0"/><stop offset="0.9440" stop-color="#060da0"/><stop offset="0.9730" stop-color="#0307a0"/></linearGradient><linearGradient id="g33" gradientUnits="userSpaceOnUse" x1="1366.0" x2="2102.0" y1="0" y2="0"><stop offset="0.0000" stop-color="#91ff11"/><stop offset="0.0802" stop-color="#a5ff26"/><stop offset="0.1481" stop-color="#80ff00"/><stop offset="0.3030" stop-color="#80ffa0"/><stop offset="0.3151" stop-color="#74e7a0"/><stop offset="0.3245" stop-color="#6fdda0"/><stop offset="0.3955" stop-color="#60bfa0"/><stop offset="0.4445" stop-color="#55aaa0"/><stop offset="0.5297" stop-color="#4488a0"/><stop offset="0.5962" stop-color="#3366a0"/><stop offset="0.6326" stop-color="#2b55a0"/><stop offset="0.6687" stop-color="#2448a0"/><stop offset="0.7748" stop-color="#2040a0"/><stop offset="0.8587" stop-color="#172fa0"/><stop offset="0.9107" stop-color="#0d19a0"/><stop offset="0.9441" stop-color="#060da0"/><stop offset="0.9731" stop-color="#0307a0"/></linearGradient><linearGradient id="g34" gradientUnits="userSpaceOnUse" x1="1366.0" x2="2102.0" y1="0" y2="0"><stop offset="0.0000" stop-color="#92ff12"/><stop offset="0.0802" stop-color="#a7ff27"/><stop offset="0.1495" stop-color="#80ff00"/><stop offset="0.3036" stop-color="#80ffa0"/><stop offset="0.3158" stop-color="#74e7a0"/><stop offset="0.3252" stop-color="#6fdda0"/><stop offset="0.3966" stop-color="#60bfa0"/><stop offset="0.4454" stop-color="#55aaa0"/><stop offset="0.5304" stop-color="#4488a0"/><stop offset="0.5969" stop-color="#3366a0"/><stop offset="0.6330" stop-color="#2b55a0"/><stop offset="0.6695" stop-color="#2448a0"/><stop offset="0.7750" stop-color="#2040a0"/><stop offset="0.8587" stop-color="#172fa0"/><stop offset="0.9104" stop-color="#0d19a0"/><stop offset="0.9441" stop-color="#060da0"/><stop offset="0.9731" stop-color="#0307a0"/></linearGradient><linearGradient id="g35" gradientUnits="userSpaceOnUse" x1="1366.0" x2="2102.0" y1="0" y2="0"><stop offset="0.0000" stop-color="#93ff13"/><stop offset="0.0802" stop-color="#a8ff28"/><stop offset="0.1510" stop-color="#80ff00"/><stop offset="0.3042" stop-color="#80ffa0"/><stop offset="0.3165" stop-color="#74e7a0"/><stop offset="0.3259" stop-color="#6fdda0"/><stop offset="0.3977" stop-color="#60bfa0"/><stop offset="0.4462" stop-color="#55aaa0"/><stop offset="0.5311" stop-color="#4488a0"/><stop offset="0.5977" stop-color="#3366a0"/><stop offset="0.6334" stop-color="#2b55a0"/><stop offset="0.6704" stop-color="#2448a0"/><stop offset="0.7752" stop-color="#2040a0"/><stop offset="0.8587" stop-color="#172fa0"/><stop offset="0.9102" stop-color="#0d19a0"/><stop offset="0.9442" stop-color="#060da0"/><stop offset="0.9732" stop-color="#0307a0"/></linearGradient><linearGradient id="g36" gradientUnits="userSpaceOnUse" x1="1366.0" x2="2102.0" y1="0" y2="0"><stop offset="0.0000" stop-color="#94ff14"/><stop offset="0.0802" stop-color="#a9ff29"/><stop offset="0.1524" stop-color="#80ff00"/><stop offset="0.3048" stop-color="#80ffa0"/><stop offset="0.3172" stop-color="#74e7a0"/><stop offset="0.3266" stop-color="#6fdda0"/><stop offset="0.3988" stop-color="#60bfa0"/><stop offset="0.4471" stop-color="#55aaa0"/><stop offset="0.5318" stop-color="#4488a0"/><stop offset="0.5985" stop-color="#3366a0"/><stop offset="0.6338" stop-color="#2b55a0"/><stop offset="0.6712" stop-color="#2448a0"/><stop offset="0.7754" stop-color="#2040a0"/><stop offset="0.8587" stop-color="#172fa0"/><stop offset="0.9100" stop-color="#0d19a0"/><stop offset="0.9443" stop-color="#060da0"/><stop offset="0.9733" stop-color="#0307a0"/></linearGradient><linearGradient id="g37" gradientUnits="userSpaceOnUse" x1="1366.0" x2="2102.0" y1="0" y2="0"><stop offset="0.0000" stop-color="#95ff15"/><stop offset="0.0802" stop-color="#aaff2b"/><stop offset="0.1538" stop-color="#80ff00"/><stop offset="0.3054" stop-color="#80ffa0"/><stop offset="0.3178" stop-color="#74e7a0"/><stop offset="0.3274" stop-color="#6fdda0"/><stop offset="0.3999" stop-color="#60bfa0"/><stop offset="0.4479" stop-color="#55aaa0"/><stop offset="0.5325" stop-color="#4488a0"/><stop offset="0.5992" stop-color="#3366a0"/><stop offset="0.6342" stop-color="#2b55a0"/><stop offset="0.6721" stop-color="#2448a0"/><stop offset="0.7756" stop-color="#2040a0"/><stop offset="0.8587" stop-color="#172fa0"/><stop offset="0.9097" stop-color="#0d19a0"/><stop offset="0.9444" stop-color="#060da0"/><stop offset="0.9734" stop-color="#0307a0"/></linearGradient><linearGradient id="g38" gradientUnits="userSpaceOnUse" x1="1366.0" x2="2102.0" y1="0" y2="0"><stop offset="0.0000" stop-color="#96ff16"/><stop offset="0.0802" stop-color="#adff2d"/><stop offset="0.1552" stop-color="#80ff00"/><stop offset="0.3060" stop-color="#80ffa0"/><stop offset="0.3185" stop-color="#74e7a0"/><stop offset="0.3281" stop-color="#6fdda0"/><stop offset="0.4011" stop-color="#60bfa0"/><stop offset="0.4488" stop-color="#55aaa0"/><stop offset="0.5333" stop-color="#4488a0"/><stop offset="0.6000" stop-color="#3366a0"/><stop offset="0.6347" stop-color="#2b55a0"/><stop offset="0.6730" stop-color="#2448a0"/><stop offset="0.7759" stop-color="#2040a0"/><stop offset="0.8587" stop-color="#172fa0"/><stop offset="0.9095" stop-color="#0d19a0"/><stop offset="0.9444" stop-color="#060da0"/><stop offset="0.9735" stop-color="#0307a0"/></linearGradient><linearGradient id="g39" gradientUnits="userSpaceOnUse" x1="1366.0" x2="2102.0" y1="0" y2="0"><stop offset="0.0000" stop-color="#97ff18"/><stop offset="0.0802" stop-color="#afff2f"/><stop offset="0.1565" stop-color="#80ff00"/><stop offset="0.3066" stop-color="#80ffa0"/><stop offset="0.3192" stop-color="#74e7a0"/><stop offset="0.3289" stop-color="#6fdda0"/><stop offset="0.4022" stop-color="#60bfa0"/><stop offset="0.4497" stop-color="#55aaa0"/><stop offset="0.5340" stop-color="#4488a0"/><stop offset="0.6008" stop-color="#3366a0"/><stop offset="0.6351" stop-color="#2b55a0"/><stop offset="0.6739" stop-color="#2448a0"/><stop offset="0.7761" stop-color="#2040a0"/><stop offset="0.8587" stop-color="#172fa0"/><stop offset="0.9093" stop-color="#0d19a0"/><stop offset="0.9445" stop-color="#060da0"/><stop offset="0.9736" stop-color="#0307a0"/></linearGradient><linearGradient id="g40" gradientUnits="userSpaceOnUse" x1="1366.0" x2="2102.0" y1="0" y2="0"><stop offset="0.0000" stop-color="#99ff19"/><stop offset="0.0802" stop-color="#b1ff31"/><stop offset="0.1579" stop-color="#80ff00"/><stop offset="0.3072" stop-color="#80ffa0"/><stop offset="0.3198" stop-color="#74e7a0"/><stop offset="0.3297" stop-color="#6fdda0"/><stop offset="0.4033" stop-color="#60bfa0"/><stop offset="0.4505" stop-color="#55aaa0"/><stop offset="0.5348" stop-color="#4488a0"/><stop offset="0.6016" stop-color="#3366a0"/><stop offset="0.6356" stop-color="#2b55a0"/><stop offset="0.6748" stop-color="#2448a0"/><stop offset="0.7764" stop-color="#2040a0"/><stop offset="0.8587" stop-color="#172fa0"/><stop offset="0.9091" stop-color="#0d19a0"/><stop offset="0.9446" stop-color="#060da0"/><stop offset="0.9737" stop-color="#0307a0"/></linearGradient><linearGradient id="g41" gradientUnits="userSpaceOnUse" x1="1366.0" x2="2102.0" y1="0" y2="0"><stop offset="0.0000" stop-color="#9aff1a"/><stop offset="0.0802" stop-color="#b3ff34"/><stop offset="0.1593" stop-color="#80ff00"/><stop offset="0.3077" stop-color="#80ffa0"/><stop offset="0.3205" stop-color="#74e7a0"/><stop offset="0.3305" stop-color="#6fdda0"/><stop offset="0.4044" stop-color="#60bfa0"/><stop offset="0.4514" stop-color="#55aaa0"/><stop offset="0.5355" stop-color="#4488a0"/><stop offset="0.6023" stop-color="#3366a0"/><stop offset="0.6360" stop-color="#2b55a0"/><stop offset="0.6758" stop-color="#2448a0"/><stop offset="0.7766" stop-color="#2040a0"/><stop offset="0.8587" stop-color="#172fa0"/><stop offset="0.9089" stop-color="#0d19a0"/><stop offset="0.9447" stop-color="#060da0"/><stop offset="0.9738" stop-color="#0307a0"/></linearGradient><linearGradient id="g42" gradientUnits="userSpaceOnUse" x1="1366.0" x2="2102.0" y1="0" y2="0"><stop offset="0.0000" stop-color="#9bff1b"/><stop offset="0.0802" stop-color="#b6ff36"/><stop offset="0.1606" stop-color="#80ff00"/><stop offset="0.3083" stop-color="#80ffa0"/><stop offset="0.3211" stop-color="#74e7a0"/><stop offset="0.3312" stop-color="#6fdda0"/><stop offset="0.4055" stop-color="#60bfa0"/><stop offset="0.4523" stop-color="#55aaa0"/><stop offset="0.5363" stop-color="#4488a0"/><stop offset="0.6031" stop-color="#3366a0"/><stop offset="0.6365" stop-color="#2b55a0"/><stop offset="0.6767" stop-color="#2448a0"/><stop offset="0.7769" stop-color="#2040a0"/><stop offset="0.8587" stop-color="#172fa0"/><stop offset="0.9087" stop-color="#0d19a0"/><stop offset="0.9447" stop-color="#060da0"/><stop offset="0.9739" stop-color="#0307a0"/></linearGradient><linearGradient id="g43" gradientUnits="userSpaceOnUse" x1="1366.0" x2="2102.0" y1="0" y2="0"><stop offset="0.0000" stop-color="#9cff1c"/><stop offset="0.0802" stop-color="#b8ff38"/><stop offset="0.1620" stop-color="#80ff00"/><stop offset="0.3089" stop-color="#80ffa0"/><stop offset="0.3217" stop-color="#74e7a0"/><stop offset="0.3320" stop-color="#6fdda0"/><stop offset="0.4066" stop-color="#60bfa0"/><stop offset="0.4531" stop-color="#55aaa0"/><stop offset="0.5370" stop-color="#4488a0"/><stop offset="0.6039" stop-color="#3366a0"/><stop offset="0.6369" stop-color="#2b55a0"/><stop offset="0.6777" stop-color="#2448a0"/><stop offset="0.7772" stop-color="#2040a0"/><stop offset="0.8587" stop-color="#172fa0"/><stop offset="0.9085" stop-color="#0d19a0"/><stop offset="0.9448" stop-color="#060da0"/><stop offset="0.9739" stop-color="#0307a0"/></linearGradient><linearGradient id="g44" gradientUnits="userSpaceOnUse" x1="1366.0" x2="2102.0" y1="0" y2="0"><stop offset="0.0000" stop-color="#9dff1d"/><stop offset="0.0802" stop-color="#baff3b"/><stop offset="0.1633" stop-color="#80ff00"/><stop offset="0.3094" stop-color="#80ffa0"/><stop offset="0.3224" stop-color="#74e7a0"/><stop offset="0.3328" stop-color="#6fdda0"/><stop offset="0.4076" stop-color="#60bfa0"/><stop offset="0.4540" stop-color="#55aaa0"/><stop offset="0.5378" stop-color="#4488a0"/><stop offset="0.6046" stop-color="#3366a0"/><stop offset="0.6374" stop-color="#2b55a0"/><stop offset="0.6788" stop-color="#2448a0"/><stop offset="0.7775" stop-color="#2040a0"/><stop offset="0.8587" stop-color="#172fa0"/><stop offset="0.9083" stop-color="#0d19a0"/><stop offset="0.9449" stop-color="#060da0"/><stop offset="0.9740" stop-color="#0307a0"/></linearGradient><linearGradient id="g45" gradientUnits="userSpaceOnUse" x1="1366.0" x2="2102.0" y1="0" y2="0"><stop offset="0.0000" stop-color="#9eff1e"/><stop offset="0.0802" stop-color="#bcff3d"/><stop offset="0.1647" stop-color="#80ff00"/><stop offset="0.3100" stop-color="#80ffa0"/><stop offset="0.3230" stop-color="#74e7a0"/><stop offset="0.3337" stop-color="#6fdda0"/><stop offset="0.4087" stop-color="#60bfa0"/><stop offset="0.4548" stop-color="#55aaa0"/><stop offset="0.5385" stop-color="#4488a0"/><stop offset="0.6053" stop-color="#3366a0"/><stop offset="0.6379" stop-color="#2b55a0"/><stop offset="0.6798" stop-color="#2448a0"/><stop offset="0.7777" stop-color="#2040a0"/><stop offset="0.8587" stop-color="#172fa0"/><stop offset="0.9082" stop-color="#0d19a0"/><stop offset="0.9450" stop-color="#060da0"/><stop offset="0.9741" stop-color="#0307a0"/></linearGradient><linearGradient id="g46" gradientUnits="userSpaceOnUse" x1="1366.0" x2="2102.0" y1="0" y2="0"><stop offset="0.0000" stop-color="#9fff20"/><stop offset="0.0802" stop-color="#bfff3f"/><stop offset="0.1660" stop-color="#80ff00"/><stop offset="0.3105" stop-color="#80ffa0"/><stop offset="0.3236" stop-color="#74e7a0"/><stop offset="0.3345" stop-color="#6fdda0"/><stop offset="0.4098" stop-color="#60bfa0"/><stop offset="0.4557" stop-color="#55aaa0"/><stop offset="0.5392" stop-color="#4488a0"/><stop offset="0.6061" stop-color="#3366a0"/><stop offset="0.6383" stop-color="#2b55a0"/><stop offset="0.6808" stop-color="#2448a0"/><stop offset="0.7780" stop-color="#2040a0"/><stop offset="0.8587" stop-color="#172fa0"/><stop offset="0.9080" stop-color="#0d19a0"/><stop offset="0.9451" stop-color="#060da0"/><stop offset="0.9742" stop-color="#0307a0"/></linearGradient><linearGradient id="g47" gradientUnits="userSpaceOnUse" x1="1366.0" x2="2102.0" y1="0" y2="0"><stop offset="0.0000" stop-color="#a0ff21"/><stop offset="0.0802" stop-color="#c1ff41"/><stop offset="0.1673" stop-color="#80ff00"/><stop offset="0.3111" stop-color="#80ffa0"/><stop offset="0.3243" stop-color="#74e7a0"/><stop offset="0.3353" stop-color="#6fdda0"/><stop offset="0.4108" stop-color="#60bfa0"/><stop offset="0.4565" stop-color="#55aaa0"/><stop offset="0.5400" stop-color="#4488a0"/><stop offset="0.6068" stop-color="#3366a0"/><stop offset="0.6388" stop-color="#2b55a0"/><stop offset="0.6819" stop-color="#2448a0"/><stop offset="0.7783" stop-color="#2040a0"/><stop offset="0.8587" stop-color="#172fa0"/><stop offset="0.9079" stop-color="#0d19a0"/><stop offset="0.9452" stop-color="#060da0"/><stop offset="0.9743" stop-color="#0307a0"/></linearGradient><linearGradient id="g48" gradientUnits="userSpaceOnUse" x1="1366.0" x2="2102.0" y1="0" y2="0"><stop offset="0.0000" stop-color="#a2ff22"/><stop offset="0.0802" stop-color="#c3ff44"/><stop offset="0.1687" stop-color="#80ff00"/><stop offset="0.3116" stop-color="#80ffa0"/><stop offset="0.3249" stop-color="#74e7a0"/><stop offset="0.3362" stop-color="#6fdda0"/><stop offset="0.4118" stop-color="#60bfa0"/><stop offset="0.4574" stop-color="#55aaa0"/><stop offset="0.5407" stop-color="#4488a0"/><stop offset="0.6075" stop-color="#3366a0"/><stop offset="0.6393" stop-color="#2b55a0"/><stop offset="0.6830" stop-color="#2448a0"/><stop offset="0.7786" stop-color="#2040a0"/><stop offset="0.8587" stop-color="#172fa0"/><stop offset="0.9078" stop-color="#0d19a0"/><stop offset="0.9453" stop-color="#060da0"/><stop offset="0.9744" stop-color="#0307a0"/></linearGradient><linearGradient id="g49" gradientUnits="userSpaceOnUse" x1="1366.0" x2="2102.0" y1="0" y2="0"><stop offset="0.0000" stop-color="#a3ff23"/><stop offset="0.0802" stop-color="#c5ff46"/><stop offset="0.1700" stop-color="#80ff00"/><stop offset="0.3122" stop-color="#80ffa0"/><stop offset="0.3255" stop-color="#74e7a0"/><stop offset="0.3370" stop-color="#6fdda0"/><stop offset="0.4128" stop-color="#60bfa0"/><stop offset="0.4582" stop-color="#55aaa0"/><stop offset="0.5414" stop-color="#4488a0"/><stop offset="0.6082" stop-color="#3366a0"/><stop offset="0.6398" stop-color="#2b55a0"/><stop offset="0.6841" stop-color="#2448a0"/><stop offset="0.7789" stop-color="#2040a0"/><stop offset="0.8587" stop-color="#172fa0"/><stop offset="0.9077" stop-color="#0d19a0"/><stop offset="0.9454" stop-color="#060da0"/><stop offset="0.9745" stop-color="#0307a0"/></linearGradient><linearGradient id="g50" gradientUnits="userSpaceOnUse" x1="1366.0" x2="2102.0" y1="0" y2="0"><stop offset="0.0000" stop-color="#a4ff24"/><stop offset="0.0802" stop-color="#c8ff48"/><stop offset="0.1713" stop-color="#80ff00"/><stop offset="0.3127" stop-color="#80ffa0"/><stop offset="0.3262" stop-color="#74e7a0"/><stop offset="0.3379" stop-color="#6fdda0"/><stop offset="0.4138" stop-color="#60bfa0"/><stop offset="0.4590" stop-color="#55aaa0"/><stop offset="0.5421" stop-color="#4488a0"/><stop offset="0.6088" stop-color="#3366a0"/><stop offset="0.6403" stop-color="#2b55a0"/><stop offset="0.6852" stop-color="#2448a0"/><stop offset="0.7793" stop-color="#2040a0"/><stop offset="0.8587" stop-color="#172fa0"/><stop offset="0.9077" stop-color="#0d19a0"/><stop offset="0.9455" stop-color="#060da0"/><stop offset="0.9746" stop-color="#0307a0"/></linearGradient><linearGradient id="g51" gradientUnits="userSpaceOnUse" x1="1366.0" x2="2102.0" y1="0" y2="0"><stop offset="0.0000" stop-color="#a5ff25"/><stop offset="0.0802" stop-color="#caff4b"/><stop offset="0.1726" stop-color="#80ff00"/><stop offset="0.3133" stop-color="#80ffa0"/><stop offset="0.3268" stop-color="#74e7a0"/><stop offset="0.3388" stop-color="#6fdda0"/><stop offset="0.4148" stop-color="#60bfa0"/><stop offset="0.4598" stop-color="#55aaa0"/><stop offset="0.5428" stop-color="#4488a0"/><stop offset="0.6094" stop-color="#3366a0"/><stop offset="0.6408" stop-color="#2b55a0"/><stop offset="0.6864" stop-color="#2448a0"/><stop offset="0.7796" stop-color="#2040a0"/><stop offset="0.8587" stop-color="#172fa0"/><stop offset="0.9076" stop-color="#0d19a0"/><stop offset="0.9456" stop-color="#060da0"/><stop offset="0.9746" stop-color="#0307a0"/></linearGradient><linearGradient id="g52" gradientUnits="userSpaceOnUse" x1="1366.0" x2="2102.0" y1="0" y2="0"><stop offset="0.0000" stop-color="#a6ff26"/><stop offset="0.0802" stop-color="#ccff4d"/><stop offset="0.1739" stop-color="#80ff00"/><stop offset="0.3139" stop-color="#80ffa0"/><stop offset="0.3274" stop-color="#74e7a0"/><stop offset="0.3397" stop-color="#6fdda0"/><stop offset="0.4158" stop-color="#60bfa0"/><stop offset="0.4606" stop-color="#55aaa0"/><stop offset="0.5435" stop-color="#4488a0"/><stop offset="0.6101" stop-color="#3366a0"/><stop offset="0.6413" stop-color="#2b55a0"/><stop offset="0.6875" stop-color="#2448a0"/><stop offset="0.7799" stop-color="#2040a0"/><stop offset="0.8587" stop-color="#172fa0"/><stop offset="0.9076" stop-color="#0d19a0"/><stop offset="0.9457" stop-color="#060da0"/><stop offset="0.9747" stop-color="#0307a0"/></linearGradient><linearGradient id="g53" gradientUnits="userSpaceOnUse" x1="1366.0" x2="2102.0" y1="0" y2="0"><stop offset="0.0000" stop-color="#aaff2a"/><stop offset="0.0802" stop-color="#ceff4f"/><stop offset="0.1752" stop-color="#80ff00"/><stop offset="0.3144" stop-color="#80ffa0"/><stop offset="0.3282" stop-color="#74e7a0"/><stop offset="0.3406" stop-color="#6fdda0"/><stop offset="0.4167" stop-color="#60bfa0"/><stop offset="0.4614" stop-color="#55aaa0"/><stop offset="0.5441" stop-color="#4488a0"/><stop offset="0.6106" stop-color="#3366a0"/><stop offset="0.6418" stop-color="#2b55a0"/><stop offset="0.6887" stop-color="#2448a0"/><stop offset="0.7802" stop-color="#2040a0"/><stop offset="0.8587" stop-color="#172fa0"/><stop offset="0.9076" stop-color="#0d19a0"/><stop offset="0.9458" stop-color="#060da0"/><stop offset="0.9748" stop-color="#0307a0"/></linearGradient><linearGradient id="g54" gradientUnits="userSpaceOnUse" x1="1366.0" x2="2102.0" y1="0" y2="0"><stop offset="0.0000" stop-color="#aeff2e"/><stop offset="0.0802" stop-color="#d0ff50"/><stop offset="0.1765" stop-color="#80ff00"/><stop offset="0.3150" stop-color="#80ffa0"/><stop offset="0.3290" stop-color="#74e7a0"/><stop offset="0.3415" stop-color="#6fdda0"/><stop offset="0.4176" stop-color="#60bfa0"/><stop offset="0.4621" stop-color="#55aaa0"/><stop offset="0.5448" stop-color="#4488a0"/><stop offset="0.6112" stop-color="#3366a0"/><stop offset="0.6423" stop-color="#2b55a0"/><stop offset="0.6901" stop-color="#2448a0"/><stop offset="0.7807" stop-color="#2040a0"/><stop offset="0.8587" stop-color="#172fa0"/><stop offset="0.9076" stop-color="#0d19a0"/><stop offset="0.9459" stop-color="#060da0"/><stop offset="0.9749" stop-color="#0307a0"/></linearGradient><linearGradient id="g55" gradientUnits="userSpaceOnUse" x1="1366.0" x2="2102.0" y1="0" y2="0"><stop offset="0.0000" stop-color="#b1ff32"/><stop offset="0.0802" stop-color="#d1ff52"/><stop offset="0.1779" stop-color="#80ff00"/><stop offset="0.3155" stop-color="#80ffa0"/><stop offset="0.3298" stop-color="#74e7a0"/><stop offset="0.3424" stop-color="#6fdda0"/><stop offset="0.4184" stop-color="#60bfa0"/><stop offset="0.4628" stop-color="#55aaa0"/><stop offset="0.5454" stop-color="#4488a0"/><stop offset="0.6118" stop-color="#3366a0"/><stop offset="0.6428" stop-color="#2b55a0"/><stop offset="0.6916" stop-color="#2448a0"/><stop offset="0.7812" stop-color="#2040a0"/><stop offset="0.8588" stop-color="#172fa0"/><stop offset="0.9077" stop-color="#0d19a0"/><stop offset="0.9460" stop-color="#060da0"/><stop offset="0.9750" stop-color="#0307a0"/></linearGradient><linearGradient id="g56" gradientUnits="userSpaceOnUse" x1="1366.0" x2="2102.0" y1="0" y2="0"><stop offset="0.0000" stop-color="#b5ff35"/><stop offset="0.0802" stop-color="#d3ff54"/><stop offset="0.1792" stop-color="#80ff00"/><stop offset="0.3160" stop-color="#80ffa0"/><stop offset="0.3305" stop-color="#74e7a0"/><stop offset="0.3433" stop-color="#6fdda0"/><stop offset="0.4193" stop-color="#60bfa0"/><stop offset="0.4635" stop-color="#55aaa0"/><stop offset="0.5460" stop-color="#4488a0"/><stop offset="0.6123" stop-color="#3366a0"/><stop offset="0.6433" stop-color="#2b55a0"/><stop offset="0.6932" stop-color="#2448a0"/><stop offset="0.7817" stop-color="#2040a0"/><stop offset="0.8588" stop-color="#172fa0"/><stop offset="0.9077" stop-color="#0d19a0"/><stop offset="0.9461" stop-color="#060da0"/><stop offset="0.9751" stop-color="#0307a0"/></linearGradient><linearGradient id="g57" gradientUnits="userSpaceOnUse" x1="1366.0" x2="2102.0" y1="0" y2="0"><stop offset="0.0000" stop-color="#b9ff39"/><stop offset="0.0802" stop-color="#d5ff55"/><stop offset="0.1805" stop-color="#80ff00"/><stop offset="0.3165" stop-color="#80ffa0"/><stop offset="0.3313" stop-color="#74e7a0"/><stop offset="0.3443" stop-color="#6fdda0"/><stop offset="0.4201" stop-color="#60bfa0"/><stop offset="0.4642" stop-color="#55aaa0"/><stop offset="0.5466" stop-color="#4488a0"/><stop offset="0.6128" stop-color="#3366a0"/><stop offset="0.6439" stop-color="#2b55a0"/><stop offset="0.6949" stop-color="#2448a0"/><stop offset="0.7823" stop-color="#2040a0"/><stop offset="0.8589" stop-color="#172fa0"/><stop offset="0.9078" stop-color="#0d19a0"/><stop offset="0.9462" stop-color="#060da0"/><stop offset="0.9752" stop-color="#0307a0"/></linearGradient><linearGradient id="g58" gradientUnits="userSpaceOnUse" x1="1366.0" x2="2102.0" y1="0" y2="0"><stop offset="0.0000" stop-color="#bcff3d"/><stop offset="0.0802" stop-color="#d6ff57"/><stop offset="0.1818" stop-color="#80ff00"/><stop offset="0.3170" stop-color="#80ffa0"/><stop offset="0.3321" stop-color="#74e7a0"/><stop offset="0.3452" stop-color="#6fdda0"/><stop offset="0.4209" stop-color="#60bfa0"/><stop offset="0.4648" stop-color="#55aaa0"/><stop offset="0.5472" stop-color="#4488a0"/><stop offset="0.6133" stop-color="#3366a0"/><stop offset="0.6444" stop-color="#2b55a0"/><stop offset="0.6967" stop-color="#2448a0"/><stop offset="0.7830" stop-color="#2040a0"/><stop offset="0.8589" stop-color="#172fa0"/><stop offset="0.9079" stop-color="#0d19a0"/><stop offset="0.9463" stop-color="#060da0"/><stop offset="0.9753" stop-color="#0307a0"/></linearGradient><linearGradient id="g59" gradientUnits="userSpaceOnUse" x1="1366.0" x2="2102.0" y1="0" y2="0"><stop offset="0.0000" stop-color="#c0ff41"/><stop offset="0.0802" stop-color="#d8ff59"/><stop offset="0.1831" stop-color="#80ff00"/><stop offset="0.3176" stop-color="#80ffa0"/><stop offset="0.3328" stop-color="#74e7a0"/><stop offset="0.3462" stop-color="#6fdda0"/><stop offset="0.4216" stop-color="#60bfa0"/><stop offset="0.4655" stop-color="#55aaa0"/><stop offset="0.5478" stop-color="#4488a0"/><stop offset="0.6138" stop-color="#3366a0"/><stop offset="0.6449" stop-color="#2b55a0"/><stop offset="0.6986" stop-color="#2448a0"/><stop offset="0.7837" stop-color="#2040a0"/><stop offset="0.8590" stop-color="#172fa0"/><stop offset="0.9080" stop-color="#0d19a0"/><stop offset="0.9464" stop-color="#060da0"/><stop offset="0.9753" stop-color="#0307a0"/></linearGradient><linearGradient id="g60" gradientUnits="userSpaceOnUse" x1="1366.0" x2="2102.0" y1="0" y2="0"><stop offset="0.0000" stop-color="#c4ff44"/><stop offset="0.0802" stop-color="#daff5a"/><stop offset="0.1844" stop-color="#80ff00"/><stop offset="0.3181" stop-color="#80ffa0"/><stop offset="0.3336" stop-color="#74e7a0"/><stop offset="0.3472" stop-color="#6fdda0"/><stop offset="0.4224" stop-color="#60bfa0"/><stop offset="0.4661" stop-color="#55aaa0"/><stop offset="0.5484" stop-color="#4488a0"/><stop offset="0.6143" stop-color="#3366a0"/><stop offset="0.6454" stop-color="#2b55a0"/><stop offset="0.7007" stop-color="#2448a0"/><stop offset="0.7845" stop-color="#2040a0"/><stop offset="0.8591" stop-color="#172fa0"/><stop offset="0.9081" stop-color="#0d19a0"/><stop offset="0.9465" stop-color="#060da0"/><stop offset="0.9754" stop-color="#0307a0"/></linearGradient><linearGradient id="g61" gradientUnits="userSpaceOnUse" x1="1366.0" x2="2102.0" y1="0" y2="0"><stop offset="0.0000" stop-color="#c8ff48"/><stop offset="0.0802" stop-color="#dbff5c"/><stop offset="0.1857" stop-color="#80ff00"/><stop offset="0.3186" stop-color="#80ffa0"/><stop offset="0.3343" stop-color="#74e7a0"/><stop offset="0.3482" stop-color="#6fdda0"/><stop offset="0.4231" stop-color="#60bfa0"/><stop offset="0.4667" stop-color="#55aaa0"/><stop offset="0.5489" stop-color="#4488a0"/><stop offset="0.6147" stop-color="#3366a0"/><stop offset="0.6460" stop-color="#2b55a0"/><stop offset="0.7028" stop-color="#2448a0"/><stop offset="0.7853" stop-color="#2040a0"/><stop offset="0.8592" stop-color="#172fa0"/><stop offset="0.9082" stop-color="#0d19a0"/><stop offset="0.9467" stop-color="#060da0"/><stop offset="0.9755" stop-color="#0307a0"/></linearGradient><linearGradient id="g62" gradientUnits="userSpaceOnUse" x1="1366.0" x2="2102.0" y1="0" y2="0"><stop offset="0.0000" stop-color="#cbff4c"/><stop offset="0.0802" stop-color="#ddff5e"/><stop offset="0.1870" stop-color="#80ff00"/><stop offset="0.3191" stop-color="#80ffa0"/><stop offset="0.3351" stop-color="#74e7a0"/><stop offset="0.3492" stop-color="#6fdda0"/><stop offset="0.4238" stop-color="#60bfa0"/><stop offset="0.4673" stop-color="#55aaa0"/><stop offset="0.5495" stop-color="#4488a0"/><stop offset="0.6152" stop-color="#3366a0"/><stop offset="0.6465" stop-color="#2b55a0"/><stop offset="0.7050" stop-color="#2448a0"/><stop offset="0.7862" stop-color="#2040a0"/><stop offset="0.8594" stop-color="#172fa0"/><stop offset="0.9083" stop-color="#0d19a0"/><stop offset="0.9468" stop-color="#060da0"/><stop offset="0.9756" stop-color="#0307a0"/></linearGradient><linearGradient id="g63" gradientUnits="userSpaceOnUse" x1="1366.0" x2="2102.0" y1="0" y2="0"><stop offset="0.0000" stop-color="#cfff50"/><stop offset="0.0802" stop-color="#dfff60"/><stop offset="0.1882" stop-color="#80ff00"/><stop offset="0.3197" stop-color="#80ffa0"/><stop offset="0.3359" stop-color="#74e7a0"/><stop offset="0.3502" stop-color="#6fdda0"/><stop offset="0.4245" stop-color="#60bfa0"/><stop offset="0.4679" stop-color="#55aaa0"/><stop offset="0.5501" stop-color="#4488a0"/><stop offset="0.6156" stop-color="#3366a0"/><stop offset="0.6471" stop-color="#2b55a0"/><stop offset="0.7073" stop-color="#2448a0"/><stop offset="0.7871" stop-color="#2040a0"/><stop offset="0.8595" stop-color="#172fa0"/><stop offset="0.9085" stop-color="#0d19a0"/><stop offset="0.9469" stop-color="#060da0"/><stop offset="0.9757" stop-color="#0307a0"/></linearGradient><linearGradient id="g64" gradientUnits="userSpaceOnUse" x1="1366.0" x2="2102.0" y1="0" y2="0"><stop offset="0.0000" stop-color="#d3ff53"/><stop offset="0.0802" stop-color="#e1ff61"/><stop offset="0.1895" stop-color="#80ff00"/><stop offset="0.3202" stop-color="#80ffa0"/><stop offset="0.3367" stop-color="#74e7a0"/><stop offset="0.3512" stop-color="#6fdda0"/><stop offset="0.4252" stop-color="#60bfa0"/><stop offset="0.4685" stop-color="#55aaa0"/><stop offset="0.5507" stop-color="#4488a0"/><stop offset="0.6161" stop-color="#3366a0"/><stop offset="0.6476" stop-color="#2b55a0"/><stop offset="0.7097" stop-color="#2448a0"/><stop offset="0.7881" stop-color="#2040a0"/><stop offset="0.8596" stop-color="#172fa0"/><stop offset="0.9087" stop-color="#0d19a0"/><stop offset="0.9470" stop-color="#060da0"/><stop offset="0.9758" stop-color="#0307a0"/></linearGradient><linearGradient id="g65" gradientUnits="userSpaceOnUse" x1="1366.0" x2="2102.0" y1="0" y2="0"><stop offset="0.0000" stop-color="#d6ff57"/><stop offset="0.0802" stop-color="#e2ff63"/><stop offset="0.1907" stop-color="#80ff00"/><stop offset="0.3208" stop-color="#80ffa0"/><stop offset="0.3375" stop-color="#74e7a0"/><stop offset="0.3523" stop-color="#6fdda0"/><stop offset="0.4259" stop-color="#60bfa0"/><stop offset="0.4691" stop-color="#55aaa0"/><stop offset="0.5512" stop-color="#4488a0"/><stop offset="0.6165" stop-color="#3366a0"/><stop offset="0.6482" stop-color="#2b55a0"/><stop offset="0.7121" stop-color="#2448a0"/><stop offset="0.7891" stop-color="#2040a0"/><stop offset="0.8598" stop-color="#172fa0"/><stop offset="0.9088" stop-color="#0d19a0"/><stop offset="0.9471" stop-color="#060da0"/><stop offset="0.9759" stop-color="#0307a0"/></linearGradient><linearGradient id="g66" gradientUnits="userSpaceOnUse" x1="1366.0" x2="2102.0" y1="0" y2="0"><stop offset="0.0000" stop-color="#d9ff5a"/><stop offset="0.0802" stop-color="#e5ff65"/><stop offset="0.1919" stop-color="#80ff00"/><stop offset="0.3214" stop-color="#80ffa0"/><stop offset="0.3383" stop-color="#74e7a0"/><stop offset="0.3533" stop-color="#6fdda0"/><stop offset="0.4265" stop-color="#60bfa0"/><stop offset="0.4697" stop-color="#55aaa0"/><stop offset="0.5518" stop-color="#4488a0"/><stop offset="0.6170" stop-color="#3366a0"/><stop offset="0.6488" stop-color="#2b55a0"/><stop offset="0.7146" stop-color="#2448a0"/><stop offset="0.7901" stop-color="#2040a0"/><stop offset="0.8600" stop-color="#172fa0"/><stop offset="0.9090" stop-color="#0d19a0"/><stop offset="0.9473" stop-color="#060da0"/><stop offset="0.9760" stop-color="#0307a0"/></linearGradient><linearGradient id="g67" gradientUnits="userSpaceOnUse" x1="1366.0" x2="2102.0" y1="0" y2="0"><stop offset="0.0000" stop-color="#dcff5d"/><stop offset="0.0802" stop-color="#e7ff67"/><stop offset="0.1931" stop-color="#80ff00"/><stop offset="0.3219" stop-color="#80ffa0"/><stop offset="0.3391" stop-color="#74e7a0"/><stop offset="0.3544" stop-color="#6fdda0"/><stop offset="0.4272" stop-color="#60bfa0"/><stop offset="0.4702" stop-color="#55aaa0"/><stop offset="0.5524" stop-color="#4488a0"/><stop offset="0.6174" stop-color="#3366a0"/><stop offset="0.6494" stop-color="#2b55a0"/><stop offset="0.7171" stop-color="#2448a0"/><stop offset="0.7912" stop-color="#2040a0"/><stop offset="0.8601" stop-color="#172fa0"/><stop offset="0.9092" stop-color="#0d19a0"/><stop offset="0.9474" stop-color="#060da0"/><stop offset="0.9761" stop-color="#0307a0"/></linearGradient><linearGradient id="g68" gradientUnits="userSpaceOnUse" x1="1366.0" x2="2102.0" y1="0" y2="0"><stop offset="0.0000" stop-color="#dfff60"/><stop offset="0.0802" stop-color="#e9ff6a"/><stop offset="0.1942" stop-color="#80ff00"/><stop offset="0.3226" stop-color="#80ffa0"/><stop offset="0.3400" stop-color="#74e7a0"/><stop offset="0.3555" stop-color="#6fdda0"/><stop offset="0.4279" stop-color="#60bfa0"/><stop offset="0.4708" stop-color="#55aaa0"/><stop offset="0.5529" stop-color="#4488a0"/><stop offset="0.6178" stop-color="#3366a0"/><stop offset="0.6500" stop-color="#2b55a0"/><stop offset="0.7197" stop-color="#2448a0"/><stop offset="0.7923" stop-color="#2040a0"/><stop offset="0.8603" stop-color="#172fa0"/><stop offset="0.9094" stop-color="#0d19a0"/><stop offset="0.9475" stop-color="#060da0"/><stop offset="0.9761" stop-color="#0307a0"/></linearGradient><linearGradient id="g69" gradientUnits="userSpaceOnUse" x1="1366.0" x2="2102.0" y1="0" y2="0"><stop offset="0.0000" stop-color="#e2ff63"/><stop offset="0.0802" stop-color="#ebff6c"/><stop offset="0.1954" stop-color="#80ff00"/><stop offset="0.3232" stop-color="#80ffa0"/><stop offset="0.3408" stop-color="#74e7a0"/><stop offset="0.3566" stop-color="#6fdda0"/><stop offset="0.4286" stop-color="#60bfa0"/><stop offset="0.4714" stop-color="#55aaa0"/><stop offset="0.5535" stop-color="#4488a0"/><stop offset="0.6183" stop-color="#3366a0"/><stop offset="0.6506" stop-color="#2b55a0"/><stop offset="0.7223" stop-color="#2448a0"/><stop offset="0.7934" stop-color="#2040a0"/><stop offset="0.8605" stop-color="#172fa0"/><stop offset="0.9096" stop-color="#0d19a0"/><stop offset="0.9476" stop-color="#060da0"/><stop offset="0.9762" stop-color="#0307a0"/></linearGradient><linearGradient id="g70" gradientUnits="userSpaceOnUse" x1="1366.0" x2="2102.0" y1="0" y2="0"><stop offset="0.0000" stop-color="#e5ff66"/><stop offset="0.0802" stop-color="#edff6e"/><stop offset="0.1965" stop-color="#80ff00"/><stop offset="0.3239" stop-color="#80ffa0"/><stop offset="0.3417" stop-color="#74e7a0"/><stop offset="0.3577" stop-color="#6fdda0"/><stop offset="0.4292" stop-color="#60bfa0"/><stop offset="0.4720" stop-color="#55aaa0"/><stop offset="0.5541" stop-color="#4488a0"/><stop offset="0.6187" stop-color="#3366a0"/><stop offset="0.6513" stop-color="#2b55a0"/><stop offset="0.7250" stop-color="#2448a0"/><stop offset="0.7945" stop-color="#2040a0"/><stop offset="0.8607" stop-color="#172fa0"/><stop offset="0.9098" stop-color="#0d19a0"/><stop offset="0.9478" stop-color="#060da0"/><stop offset="0.9763" stop-color="#0307a0"/></linearGradient><linearGradient id="g71" gradientUnits="userSpaceOnUse" x1="1366.0" x2="2102.0" y1="0" y2="0"><stop offset="0.0000" stop-color="#e8ff69"/><stop offset="0.0802" stop-color="#efff70"/><stop offset="0.1976" stop-color="#80ff00"/><stop offset="0.3246" stop-color="#80ffa0"/><stop offset="0.3427" stop-color="#74e7a0"/><stop offset="0.3588" stop-color="#6fdda0"/><stop offset="0.4299" stop-color="#60bfa0"/><stop offset="0.4727" stop-color="#55aaa0"/><stop offset="0.5547" stop-color="#4488a0"/><stop offset="0.6191" stop-color="#3366a0"/><stop offset="0.6519" stop-color="#2b55a0"/><stop offset="0.7277" stop-color="#2448a0"/><stop offset="0.7957" stop-color="#2040a0"/><stop offset="0.8609" stop-color="#172fa0"/><stop offset="0.9100" stop-color="#0d19a0"/><stop offset="0.9479" stop-color="#060da0"/><stop offset="0.9764" stop-color="#0307a0"/></linearGradient><linearGradient id="g72" gradientUnits="userSpaceOnUse" x1="1366.0" x2="2102.0" y1="0" y2="0"><stop offset="0.0000" stop-color="#ebff6c"/><stop offset="0.0802" stop-color="#f1ff72"/><stop offset="0.1986" stop-color="#80ff00"/><stop offset="0.3253" stop-color="#80ffa0"/><stop offset="0.3437" stop-color="#74e7a0"/><stop offset="0.3599" stop-color="#6fdda0"/><stop offset="0.4306" stop-color="#60bfa0"/><stop offset="0.4733" stop-color="#55aaa0"/><stop offset="0.5553" stop-color="#4488a0"/><stop offset="0.6196" stop-color="#3366a0"/><stop offset="0.6526" stop-color="#2b55a0"/><stop offset="0.7304" stop-color="#2448a0"/><stop offset="0.7969" stop-color="#2040a0"/><stop offset="0.8612" stop-color="#172fa0"/><stop offset="0.9103" stop-color="#0d19a0"/><stop offset="0.9480" stop-color="#060da0"/><stop offset="0.9765" stop-color="#0307a0"/></linearGradient><linearGradient id="g73" gradientUnits="userSpaceOnUse" x1="1366.0" x2="2102.0" y1="0" y2="0"><stop offset="0.0000" stop-color="#eeff6f"/><stop offset="0.0802" stop-color="#f3ff74"/><stop offset="0.1997" stop-color="#80ff00"/><stop offset="0.3261" stop-color="#80ffa0"/><stop offset="0.3447" stop-color="#74e7a0"/><stop offset="0.3611" stop-color="#6fdda0"/><stop offset="0.4313" stop-color="#60bfa0"/><stop offset="0.4739" stop-color="#55aaa0"/><stop offset="0.5560" stop-color="#4488a0"/><stop offset="0.6200" stop-color="#3366a0"/><stop offset="0.6533" stop-color="#2b55a0"/><stop offset="0.7331" stop-color="#2448a0"/><stop offset="0.7981" stop-color="#2040a0"/><stop offset="0.8614" stop-color="#172fa0"/><stop offset="0.9105" stop-color="#0d19a0"/><stop offset="0.9482" stop-color="#060da0"/><stop offset="0.9767" stop-color="#0307a0"/></linearGradient><linearGradient id="g74" gradientUnits="userSpaceOnUse" x1="1366.0" x2="2102.0" y1="0" y2="0"><stop offset="0.0000" stop-color="#f1ff72"/><stop offset="0.0802" stop-color="#f5ff76"/><stop offset="0.2007" stop-color="#80ff00"/><stop offset="0.3269" stop-color="#80ffa0"/><stop offset="0.3458" stop-color="#74e7a0"/><stop offset="0.3622" stop-color="#6fdda0"/><stop offset="0.4320" stop-color="#60bfa0"/><stop offset="0.4746" stop-color="#55aaa0"/><stop offset="0.5566" stop-color="#4488a0"/><stop offset="0.6205" stop-color="#3366a0"/><stop offset="0.6540" stop-color="#2b55a0"/><stop offset="0.7359" stop-color="#2448a0"/><stop offset="0.7993" stop-color="#2040a0"/><stop offset="0.8616" stop-color="#172fa0"/><stop offset="0.9107" stop-color="#0d19a0"/><stop offset="0.9483" stop-color="#060da0"/><stop offset="0.9770" stop-color="#0307a0"/></linearGradient><linearGradient id="g75" gradientUnits="userSpaceOnUse" x1="1366.0" x2="2102.0" y1="0" y2="0"><stop offset="0.0000" stop-color="#f4ff75"/><stop offset="0.0802" stop-color="#f7ff78"/><stop offset="0.2017" stop-color="#80ff00"/><stop offset="0.3278" stop-color="#80ffa0"/><stop offset="0.3468" stop-color="#74e7a0"/><stop offset="0.3634" stop-color="#6fdda0"/><stop offset="0.4327" stop-color="#60bfa0"/><stop offset="0.4753" stop-color="#55aaa0"/><stop offset="0.5572" stop-color="#4488a0"/><stop offset="0.6210" stop-color="#3366a0"/><stop offset="0.6547" stop-color="#2b55a0"/><stop offset="0.7386" stop-color="#2448a0"/><stop offset="0.8006" stop-color="#2040a0"/><stop offset="0.8619" stop-color="#172fa0"/><stop offset="0.9110" stop-color="#0d19a0"/><stop offset="0.9485" stop-color="#060da0"/><stop offset="0.9772" stop-color="#0307a0"/></linearGradient><linearGradient id="g76" gradientUnits="userSpaceOnUse" x1="1366.0" x2="2102.0" y1="0" y2="0"><stop offset="0.0000" stop-color="#f7ff77"/><stop offset="0.0802" stop-color="#f9ff7a"/><stop offset="0.2027" stop-color="#80ff00"/><stop offset="0.3286" stop-color="#80ffa0"/><stop offset="0.3479" stop-color="#74e7a0"/><stop offset="0.3646" stop-color="#6fdda0"/><stop offset="0.4335" stop-color="#60bfa0"/><stop offset="0.4760" stop-color="#55aaa0"/><stop offset="0.5579" stop-color="#4488a0"/><stop offset="0.6215" stop-color="#3366a0"/><stop offset="0.6555" stop-color="#2b55a0"/><stop offset="0.7414" stop-color="#2448a0"/><stop offset="0.8018" stop-color="#2040a0"/><stop offset="0.8621" stop-color="#172fa0"/><stop offset="0.9112" stop-color="#0d19a0"/><stop offset="0.9486" stop-color="#060da0"/><stop offset="0.9774" stop-color="#0307a0"/></linearGradient><linearGradient id="g77" gradientUnits="userSpaceOnUse" x1="1366.0" x2="2102.0" y1="0" y2="0"><stop offset="0.0000" stop-color="#f9ff7a"/><stop offset="0.0802" stop-color="#faff7b"/><stop offset="0.2037" stop-color="#80ff00"/><stop offset="0.3295" stop-color="#80ffa0"/><stop offset="0.3490" stop-color="#74e7a0"/><stop offset="0.3658" stop-color="#6fdda0"/><stop offset="0.4343" stop-color="#60bfa0"/><stop offset="0.4767" stop-color="#55aaa0"/><stop offset="0.5586" stop-color="#4488a0"/><stop offset="0.6220" stop-color="#3366a0"/><stop offset="0.6563" stop-color="#2b55a0"/><stop offset="0.7441" stop-color="#2448a0"/><stop offset="0.8030" stop-color="#2040a0"/><stop offset="0.8624" stop-color="#172fa0"/><stop offset="0.9115" stop-color="#0d19a0"/><stop offset="0.9487" stop-color="#060da0"/><stop offset="0.9777" stop-color="#0307a0"/></linearGradient><linearGradient id="g78" gradientUnits="userSpaceOnUse" x1="1366.0" x2="2102.0" y1="0" y2="0"><stop offset="0.0000" stop-color="#fcff7d"/><stop offset="0.0802" stop-color="#fcff7d"/><stop offset="0.2047" stop-color="#80ff00"/><stop offset="0.3303" stop-color="#80ffa0"/><stop offset="0.3501" stop-color="#74e7a0"/><stop offset="0.3670" stop-color="#6fdda0"/><stop offset="0.4351" stop-color="#60bfa0"/><stop offset="0.4774" stop-color="#55aaa0"/><stop offset="0.5593" stop-color="#4488a0"/><stop offset="0.6225" stop-color="#3366a0"/><stop offset="0.6571" stop-color="#2b55a0"/><stop offset="0.7468" stop-color="#2448a0"/><stop offset="0.8043" stop-color="#2040a0"/><stop offset="0.8626" stop-color="#172fa0"/><stop offset="0.9118" stop-color="#0d19a0"/><stop offset="0.9489" stop-color="#060da0"/><stop offset="0.9779" stop-color="#0307a0"/></linearGradient><linearGradient id="g79" gradientUnits="userSpaceOnUse" x1="1366.0" x2="2102.0" y1="0" y2="0"><stop offset="0.0000" stop-color="#ffff80"/><stop offset="0.0802" stop-color="#fdff7e"/><stop offset="0.2057" stop-color="#80ff00"/><stop offset="0.3312" stop-color="#80ffa0"/><stop offset="0.3512" stop-color="#74e7a0"/><stop offset="0.3683" stop-color="#6fdda0"/><stop offset="0.4359" stop-color="#60bfa0"/><stop offset="0.4782" stop-color="#55aaa0"/><stop offset="0.5600" stop-color="#4488a0"/><stop offset="0.6230" stop-color="#3366a0"/><stop offset="0.6579" stop-color="#2b55a0"/><stop offset="0.7495" stop-color="#2448a0"/><stop offset="0.8055" stop-color="#2040a0"/><stop offset="0.8629" stop-color="#172fa0"/><stop offset="0.9120" stop-color="#0d19a0"/><stop offset="0.9490" stop-color="#060da0"/><stop offset="0.9781" stop-color="#0307a0"/></linearGradient><linearGradient id="g80" gradientUnits="userSpaceOnUse" x1="1366.0" x2="2102.0" y1="0" y2="0"><stop offset="0.0000" stop-color="#fbf780"/><stop offset="0.0584" stop-color="#fefd80"/><stop offset="0.0802" stop-color="#ffff80"/><stop offset="0.2066" stop-color="#80ff00"/><stop offset="0.3320" stop-color="#80ffa0"/><stop offset="0.3523" stop-color="#74e7a0"/><stop offset="0.3695" stop-color="#6fdda0"/><stop offset="0.4367" stop-color="#60bfa0"/><stop offset="0.4790" stop-color="#55aaa0"/><stop offset="0.5608" stop-color="#4488a0"/><stop offset="0.6235" stop-color="#3366a0"/><stop offset="0.6587" stop-color="#2b55a0"/><stop offset="0.7522" stop-color="#2448a0"/><stop offset="0.8068" stop-color="#2040a0"/><stop offset="0.8632" stop-color="#172fa0"/><stop offset="0.9123" stop-color="#0d19a0"/><stop offset="0.9492" stop-color="#060da0"/><stop offset="0.9784" stop-color="#0307a0"/></linearGradient><linearGradient id="g81" gradientUnits="userSpaceOnUse" x1="1366.0" x2="2102.0" y1="0" y2="0"><stop offset="0.0000" stop-color="#f7ef80"/><stop offset="0.0601" stop-color="#fdfa80"/><stop offset="0.0819" stop-color="#ffff80"/><stop offset="0.2076" stop-color="#80ff00"/><stop offset="0.3329" stop-color="#80ffa0"/><stop offset="0.3533" stop-color="#74e7a0"/><stop offset="0.3708" stop-color="#6fdda0"/><stop offset="0.4376" stop-color="#60bfa0"/><stop offset="0.4799" stop-color="#55aaa0"/><stop offset="0.5615" stop-color="#4488a0"/><stop offset="0.6241" stop-color="#3366a0"/><stop offset="0.6596" stop-color="#2b55a0"/><stop offset="0.7549" stop-color="#2448a0"/><stop offset="0.8080" stop-color="#2040a0"/><stop offset="0.8635" stop-color="#172fa0"/><stop offset="0.9126" stop-color="#0d19a0"/><stop offset="0.9493" stop-color="#060da0"/><stop offset="0.9786" stop-color="#0307a0"/></linearGradient><linearGradient id="g82" gradientUnits="userSpaceOnUse" x1="1366.0" x2="2102.0" y1="0" y2="0"><stop offset="0.0000" stop-color="#f3e780"/><stop offset="0.0618" stop-color="#fbf680"/><stop offset="0.0836" stop-color="#ffff80"/><stop offset="0.2085" stop-color="#80ff00"/><stop offset="0.3337" stop-color="#80ffa0"/><stop offset="0.3544" stop-color="#74e7a0"/><stop offset="0.3721" stop-color="#6fdda0"/><stop offset="0.4385" stop-color="#60bfa0"/><stop offset="0.4807" stop-color="#55aaa0"/><stop offset="0.5623" stop-color="#4488a0"/><stop offset="0.6247" stop-color="#3366a0"/><stop offset="0.6605" stop-color="#2b55a0"/><stop offset="0.7575" stop-color="#2448a0"/><stop offset="0.8093" stop-color="#2040a0"/><stop offset="0.8638" stop-color="#172fa0"/><stop offset="0.9129" stop-color="#0d19a0"/><stop offset="0.9495" stop-color="#060da0"/><stop offset="0.9788" stop-color="#0307a0"/></linearGradient><linearGradient id="g83" gradientUnits="userSpaceOnUse" x1="1366.0" x2="2102.0" y1="0" y2="0"><stop offset="0.0000" stop-color="#efe080"/><stop offset="0.0635" stop-color="#f8f080"/><stop offset="0.0852" stop-color="#ffff80"/><stop offset="0.2095" stop-color="#80ff00"/><stop offset="0.3344" stop-color="#80ffa0"/><stop offset="0.3554" stop-color="#74e7a0"/><stop offset="0.3734" stop-color="#6fdda0"/><stop offset="0.4394" stop-color="#60bfa0"/><stop offset="0.4817" stop-color="#55aaa0"/><stop offset="0.5632" stop-color="#4488a0"/><stop offset="0.6253" stop-color="#3366a0"/><stop offset="0.6614" stop-color="#2b55a0"/><stop offset="0.7600" stop-color="#2448a0"/><stop offset="0.8105" stop-color="#2040a0"/><stop offset="0.8640" stop-color="#172fa0"/><stop offset="0.9132" stop-color="#0d19a0"/><stop offset="0.9496" stop-color="#060da0"/><stop offset="0.9791" stop-color="#0307a0"/></linearGradient><linearGradient id="g84" gradientUnits="userSpaceOnUse" x1="1366.0" x2="2102.0" y1="0" y2="0"><stop offset="0.0000" stop-color="#ebd880"/><stop offset="0.0652" stop-color="#f4e980"/><stop offset="0.0869" stop-color="#ffff80"/><stop offset="0.2104" stop-color="#80ff00"/><stop offset="0.3352" stop-color="#80ffa0"/><stop offset="0.3564" stop-color="#74e7a0"/><stop offset="0.3747" stop-color="#6fdda0"/><stop offset="0.4404" stop-color="#60bfa0"/><stop offset="0.4826" stop-color="#55aaa0"/><stop offset="0.5640" stop-color="#4488a0"/><stop offset="0.6259" stop-color="#3366a0"/><stop offset="0.6624" stop-color="#2b55a0"/><stop offset="0.7625" stop-color="#2448a0"/><stop offset="0.8117" stop-color="#2040a0"/><stop offset="0.8643" stop-color="#172fa0"/><stop offset="0.9135" stop-color="#0d19a0"/><stop offset="0.9498" stop-color="#060da0"/><stop offset="0.9793" stop-color="#0307a0"/></linearGradient><linearGradient id="g85" gradientUnits="userSpaceOnUse" x1="1366.0" x2="2102.0" y1="0" y2="0"><stop offset="0.0000" stop-color="#e8d080"/><stop offset="0.0669" stop-color="#f0e080"/><stop offset="0.0886" stop-color="#ffff80"/><stop offset="0.2112" stop-color="#80ff00"/><stop offset="0.3359" stop-color="#80ffa0"/><stop offset="0.3573" stop-color="#74e7a0"/><stop offset="0.3760" stop-color="#6fdda0"/><stop offset="0.4414" stop-color="#60bfa0"/><stop offset="0.4836" stop-color="#55aaa0"/><stop offset="0.5649" stop-color="#4488a0"/><stop offset="0.6265" stop-color="#3366a0"/><stop offset="0.6634" stop-color="#2b55a0"/><stop offset="0.7649" stop-color="#2448a0"/><stop offset="0.8129" stop-color="#2040a0"/><stop offset="0.8646" stop-color="#172fa0"/><stop offset="0.9137" stop-color="#0d19a0"/><stop offset="0.9500" stop-color="#060da0"/><stop offset="0.9795" stop-color="#0307a0"/></linearGradient><linearGradient id="g86" gradientUnits="userSpaceOnUse" x1="1366.0" x2="2102.0" y1="0" y2="0"><stop offset="0.0000" stop-color="#e5cb80"/><stop offset="0.0686" stop-color="#eddb80"/><stop offset="0.0903" stop-color="#ffff80"/><stop offset="0.2120" stop-color="#80ff00"/><stop offset="0.3365" stop-color="#80ffa0"/><stop offset="0.3582" stop-color="#74e7a0"/><stop offset="0.3774" stop-color="#6fdda0"/><stop offset="0.4424" stop-color="#60bfa0"/><stop offset="0.4846" stop-color="#55aaa0"/><stop offset="0.5658" stop-color="#4488a0"/><stop offset="0.6272" stop-color="#3366a0"/><stop offset="0.6644" stop-color="#2b55a0"/><stop offset="0.7673" stop-color="#2448a0"/><stop offset="0.8141" stop-color="#2040a0"/><stop offset="0.8649" stop-color="#172fa0"/><stop offset="0.9140" stop-color="#0d19a0"/><stop offset="0.9501" stop-color="#060da0"/><stop offset="0.9798" stop-color="#0307a0"/></linearGradient><linearGradient id="g87" gradientUnits="userSpaceOnUse" x1="1366.0" x2="2102.0" y1="0" y2="0"><stop offset="0.0000" stop-color="#e3c880"/><stop offset="0.0702" stop-color="#ecd980"/><stop offset="0.0920" stop-color="#ffff80"/><stop offset="0.2128" stop-color="#80ff00"/><stop offset="0.3372" stop-color="#80ffa0"/><stop offset="0.3591" stop-color="#74e7a0"/><stop offset="0.3788" stop-color="#6fdda0"/><stop offset="0.4435" stop-color="#60bfa0"/><stop offset="0.4857" stop-color="#55aaa0"/><stop offset="0.5668" stop-color="#4488a0"/><stop offset="0.6279" stop-color="#3366a0"/><stop offset="0.6655" stop-color="#2b55a0"/><stop offset="0.7696" stop-color="#2448a0"/><stop offset="0.8153" stop-color="#2040a0"/><stop offset="0.8653" stop-color="#172fa0"/><stop offset="0.9143" stop-color="#0d19a0"/><stop offset="0.9503" stop-color="#060da0"/><stop offset="0.9800" stop-color="#0307a0"/></linearGradient><linearGradient id="g88" gradientUnits="userSpaceOnUse" x1="1366.0" x2="2102.0" y1="0" y2="0"><stop offset="0.0000" stop-color="#e2c580"/><stop offset="0.0719" stop-color="#ecd880"/><stop offset="0.0937" stop-color="#ffff80"/><stop offset="0.2136" stop-color="#80ff00"/><stop offset="0.3379" stop-color="#80ffa0"/><stop offset="0.3600" stop-color="#74e7a0"/><stop offset="0.3802" stop-color="#6fdda0"/><stop offset="0.4447" stop-color="#60bfa0"/><stop offset="0.4868" stop-color="#55aaa0"/><stop offset="0.5677" stop-color="#4488a0"/><stop offset="0.6286" stop-color="#3366a0"/><stop offset="0.6665" stop-color="#2b55a0"/><stop offset="0.7719" stop-color="#2448a0"/><stop offset="0.8164" stop-color="#2040a0"/><stop offset="0.8656" stop-color="#172fa0"/><stop offset="0.9146" stop-color="#0d19a0"/><stop offset="0.9504" stop-color="#060da0"/><stop offset="0.9802" stop-color="#0307a0"/></linearGradient><linearGradient id="g89" gradientUnits="userSpaceOnUse" x1="1366.0" x2="2102.0" y1="0" y2="0"><stop offset="0.0000" stop-color="#e1c280"/><stop offset="0.0736" stop-color="#ebd780"/><stop offset="0.0953" stop-color="#ffff80"/><stop offset="0.2145" stop-color="#80ff00"/><stop offset="0.3386" stop-color="#80ffa0"/><stop offset="0.3610" stop-color="#74e7a0"/><stop offset="0.3816" stop-color="#6fdda0"/><stop offset="0.4459" stop-color="#60bfa0"/><stop offset="0.4880" stop-color="#55aaa0"/><stop offset="0.5687" stop-color="#4488a0"/><stop offset="0.6294" stop-color="#3366a0"/><stop offset="0.6676" stop-color="#2b55a0"/><stop offset="0.7740" stop-color="#2448a0"/><stop offset="0.8175" stop-color="#2040a0"/><stop offset="0.8659" stop-color="#172fa0"/><stop offset="0.9149" stop-color="#0d19a0"/><stop offset="0.9506" stop-color="#060da0"/><stop offset="0.9805" stop-color="#0307a0"/></linearGradient><linearGradient id="g90" gradientUnits="userSpaceOnUse" x1="1366.0" x2="2102.0" y1="0" y2="0"><stop offset="0.0000" stop-color="#dfbf80"/><stop offset="0.0752" stop-color="#ead680"/><stop offset="0.0970" stop-color="#ffff80"/><stop offset="0.2154" stop-color="#80ff00"/><stop offset="0.3394" stop-color="#80ffa0"/><stop offset="0.3620" stop-color="#74e7a0"/><stop offset="0.3830" stop-color="#6fdda0"/><stop offset="0.4471" stop-color="#60bfa0"/><stop offset="0.4892" stop-color="#55aaa0"/><stop offset="0.5698" stop-color="#4488a0"/><stop offset="0.6301" stop-color="#3366a0"/><stop offset="0.6688" stop-color="#2b55a0"/><stop offset="0.7761" stop-color="#2448a0"/><stop offset="0.8186" stop-color="#2040a0"/><stop offset="0.8662" stop-color="#172fa0"/><stop offset="0.9152" stop-color="#0d19a0"/><stop offset="0.9508" stop-color="#060da0"/><stop offset="0.9807" stop-color="#0307a0"/></linearGradient><linearGradient id="g91" gradientUnits="userSpaceOnUse" x1="1366.0" x2="2102.0" y1="0" y2="0"><stop offset="0.0000" stop-color="#debc80"/><stop offset="0.0769" stop-color="#ead480"/><stop offset="0.0987" stop-color="#ffff80"/><stop offset="0.2163" stop-color="#80ff00"/><stop offset="0.3402" stop-color="#80ffa0"/><stop offset="0.3630" stop-color="#74e7a0"/><stop offset="0.3844" stop-color="#6fdda0"/><stop offset="0.4484" stop-color="#60bfa0"/><stop offset="0.4905" stop-color="#55aaa0"/><stop offset="0.5709" stop-color="#4488a0"/><stop offset="0.6309" stop-color="#3366a0"/><stop offset="0.6700" stop-color="#2b55a0"/><stop offset="0.7780" stop-color="#2448a0"/><stop offset="0.8196" stop-color="#2040a0"/><stop offset="0.8665" stop-color="#172fa0"/><stop offset="0.9155" stop-color="#0d19a0"/><stop offset="0.9509" stop-color="#060da0"/><stop offset="0.9810" stop-color="#0307a0"/></linearGradient><linearGradient id="g92" gradientUnits="userSpaceOnUse" x1="1366.0" x2="2102.0" y1="0" y2="0"><stop offset="0.0000" stop-color="#dcba80"/><stop offset="0.0786" stop-color="#e9d380"/><stop offset="0.1003" stop-color="#ffff80"/><stop offset="0.2174" stop-color="#80ff00"/><stop offset="0.3410" stop-color="#80ffa0"/><stop offset="0.3641" stop-color="#74e7a0"/><stop offset="0.3859" stop-color="#6fdda0"/><stop offset="0.4497" stop-color="#60bfa0"/><stop offset="0.4918" stop-color="#55aaa0"/><stop offset="0.5720" stop-color="#4488a0"/><stop offset="0.6318" stop-color="#3366a0"/><stop offset="0.6712" stop-color="#2b55a0"/><stop offset="0.7799" stop-color="#2448a0"/><stop offset="0.8207" stop-color="#2040a0"/><stop offset="0.8668" stop-color="#172fa0"/><stop offset="0.9158" stop-color="#0d19a0"/><stop offset="0.9511" stop-color="#060da0"/><stop offset="0.9812" stop-color="#0307a0"/></linearGradient><linearGradient id="g93" gradientUnits="userSpaceOnUse" x1="1366.0" x2="2102.0" y1="0" y2="0"><stop offset="0.0000" stop-color="#dbb780"/><stop offset="0.0802" stop-color="#e9d280"/><stop offset="0.1020" stop-color="#ffff80"/><stop offset="0.2186" stop-color="#80ff00"/><stop offset="0.3420" stop-color="#80ffa0"/><stop offset="0.3653" stop-color="#74e7a0"/><stop offset="0.3874" stop-color="#6fdda0"/><stop offset="0.4512" stop-color="#60bfa0"/><stop offset="0.4935" stop-color="#55aaa0"/><stop offset="0.5733" stop-color="#4488a0"/><stop offset="0.6327" stop-color="#3366a0"/><stop offset="0.6726" stop-color="#2b55a0"/><stop offset="0.7817" stop-color="#2448a0"/><stop offset="0.8217" stop-color="#2040a0"/><stop offset="0.8672" stop-color="#172fa0"/><stop offset="0.9161" stop-color="#0d19a0"/><stop offset="0.9513" stop-color="#060da0"/><stop offset="0.9815" stop-color="#0307a0"/></linearGradient><linearGradient id="g94" gradientUnits="userSpaceOnUse" x1="1366.0" x2="2102.0" y1="0" y2="0"><stop offset="0.0000" stop-color="#dab480"/><stop offset="0.0819" stop-color="#e8d280"/><stop offset="0.1036" stop-color="#ffff80"/><stop offset="0.2200" stop-color="#80ff00"/><stop offset="0.3431" stop-color="#80ffa0"/><stop offset="0.3666" stop-color="#74e7a0"/><stop offset="0.3890" stop-color="#6fdda0"/><stop offset="0.4529" stop-color="#60bfa0"/><stop offset="0.4956" stop-color="#55aaa0"/><stop offset="0.5749" stop-color="#4488a0"/><stop offset="0.6338" stop-color="#3366a0"/><stop offset="0.6743" stop-color="#2b55a0"/><stop offset="0.7836" stop-color="#2448a0"/><stop offset="0.8228" stop-color="#2040a0"/><stop offset="0.8677" stop-color="#172fa0"/><stop offset="0.9164" stop-color="#0d19a0"/><stop offset="0.9516" stop-color="#060da0"/><stop offset="0.9818" stop-color="#0307a0"/></linearGradient><linearGradient id="g95" gradientUnits="userSpaceOnUse" x1="1366.0" x2="2102.0" y1="0" y2="0"><stop offset="0.0000" stop-color="#d7af80"/><stop offset="0.0835" stop-color="#e8d080"/><stop offset="0.1053" stop-color="#ffff80"/><stop offset="0.2215" stop-color="#80ff00"/><stop offset="0.3443" stop-color="#80ffa0"/><stop offset="0.3680" stop-color="#74e7a0"/><stop offset="0.3907" stop-color="#6fdda0"/><stop offset="0.4547" stop-color="#60bfa0"/><stop offset="0.4981" stop-color="#55aaa0"/><stop offset="0.5768" stop-color="#4488a0"/><stop offset="0.6351" stop-color="#3366a0"/><stop offset="0.6763" stop-color="#2b55a0"/><stop offset="0.7856" stop-color="#2448a0"/><stop offset="0.8239" stop-color="#2040a0"/><stop offset="0.8682" stop-color="#172fa0"/><stop offset="0.9169" stop-color="#0d19a0"/><stop offset="0.9519" stop-color="#060da0"/><stop offset="0.9821" stop-color="#0307a0"/></linearGradient><linearGradient id="g96" gradientUnits="userSpaceOnUse" x1="1366.0" x2="2102.0" y1="0" y2="0"><stop offset="0.0000" stop-color="#d4a880"/><stop offset="0.0852" stop-color="#e7cf80"/><stop offset="0.1069" stop-color="#ffff80"/><stop offset="0.2231" stop-color="#80ff00"/><stop offset="0.3455" stop-color="#80ffa0"/><stop offset="0.3695" stop-color="#74e7a0"/><stop offset="0.3925" stop-color="#6fdda0"/><stop offset="0.4568" stop-color="#60bfa0"/><stop offset="0.5011" stop-color="#55aaa0"/><stop offset="0.5789" stop-color="#4488a0"/><stop offset="0.6364" stop-color="#3366a0"/><stop offset="0.6785" stop-color="#2b55a0"/><stop offset="0.7876" stop-color="#2448a0"/><stop offset="0.8251" stop-color="#2040a0"/><stop offset="0.8689" stop-color="#172fa0"/><stop offset="0.9173" stop-color="#0d19a0"/><stop offset="0.9523" stop-color="#060da0"/><stop offset="0.9823" stop-color="#0307a0"/></linearGradient><linearGradient id="g97" gradientUnits="userSpaceOnUse" x1="1366.0" x2="2102.0" y1="0" y2="0"><stop offset="0.0000" stop-color="#d0a280"/><stop offset="0.0868" stop-color="#e7ce80"/><stop offset="0.1086" stop-color="#ffff80"/><stop offset="0.2247" stop-color="#80ff00"/><stop offset="0.3468" stop-color="#80ffa0"/><stop offset="0.3710" stop-color="#74e7a0"/><stop offset="0.3944" stop-color="#6fdda0"/><stop offset="0.4590" stop-color="#60bfa0"/><stop offset="0.5044" stop-color="#55aaa0"/><stop offset="0.5812" stop-color="#4488a0"/><stop offset="0.6379" stop-color="#3366a0"/><stop offset="0.6810" stop-color="#2b55a0"/><stop offset="0.7896" stop-color="#2448a0"/><stop offset="0.8264" stop-color="#2040a0"/><stop offset="0.8696" stop-color="#172fa0"/><stop offset="0.9178" stop-color="#0d19a0"/><stop offset="0.9528" stop-color="#060da0"/><stop offset="0.9826" stop-color="#0307a0"/></linearGradient><linearGradient id="g98" gradientUnits="userSpaceOnUse" x1="1366.0" x2="2102.0" y1="0" y2="0"><stop offset="0.0000" stop-color="#cd9b80"/><stop offset="0.0884" stop-color="#e7ce80"/><stop offset="0.1101" stop-color="#ffff80"/><stop offset="0.2263" stop-color="#80ff00"/><stop offset="0.3481" stop-color="#80ffa0"/><stop offset="0.3725" stop-color="#74e7a0"/><stop offset="0.3963" stop-color="#6fdda0"/><stop offset="0.4613" stop-color="#60bfa0"/><stop offset="0.5080" stop-color="#55aaa0"/><stop offset="0.5837" stop-color="#4488a0"/><stop offset="0.6395" stop-color="#3366a0"/><stop offset="0.6837" stop-color="#2b55a0"/><stop offset="0.7917" stop-color="#2448a0"/><stop offset="0.8277" stop-color="#2040a0"/><stop offset="0.8703" stop-color="#172fa0"/><stop offset="0.9183" stop-color="#0d19a0"/><stop offset="0.9532" stop-color="#060da0"/><stop offset="0.9829" stop-color="#0307a0"/></linearGradient><linearGradient id="g99" gradientUnits="userSpaceOnUse" x1="1366.0" x2="2102.0" y1="0" y2="0"><stop offset="0.0000" stop-color="#ca9480"/><stop offset="0.0900" stop-color="#e7ce80"/><stop offset="0.1117" stop-color="#ffff80"/><stop offset="0.2280" stop-color="#80ff00"/><stop offset="0.3494" stop-color="#80ffa0"/><stop offset="0.3740" stop-color="#74e7a0"/><stop offset="0.3983" stop-color="#6fdda0"/><stop offset="0.4639" stop-color="#60bfa0"/><stop offset="0.5120" stop-color="#55aaa0"/><stop offset="0.5864" stop-color="#4488a0"/><stop offset="0.6411" stop-color="#3366a0"/><stop offset="0.6866" stop-color="#2b55a0"/><stop offset="0.7937" stop-color="#2448a0"/><stop offset="0.8289" stop-color="#2040a0"/><stop offset="0.8711" stop-color="#172fa0"/><stop offset="0.9189" stop-color="#0d19a0"/><stop offset="0.9538" stop-color="#060da0"/><stop offset="0.9832" stop-color="#0307a0"/></linearGradient><linearGradient id="g100" gradientUnits="userSpaceOnUse" x1="1366.0" x2="2102.0" y1="0" y2="0"><stop offset="0.0000" stop-color="#c68d80"/><stop offset="0.0915" stop-color="#e7cf80"/><stop offset="0.1132" stop-color="#ffff80"/><stop offset="0.2295" stop-color="#80ff00"/><stop offset="0.3507" stop-color="#80ffa0"/><stop offset="0.3755" stop-color="#74e7a0"/><stop offset="0.4003" stop-color="#6fdda0"/><stop offset="0.4665" stop-color="#60bfa0"/><stop offset="0.5161" stop-color="#55aaa0"/><stop offset="0.5892" stop-color="#4488a0"/><stop offset="0.6429" stop-color="#3366a0"/><stop offset="0.6897" stop-color="#2b55a0"/><stop offset="0.7958" stop-color="#2448a0"/><stop offset="0.8302" stop-color="#2040a0"/><stop offset="0.8720" stop-color="#172fa0"/><stop offset="0.9194" stop-color="#0d19a0"/><stop offset="0.9543" stop-color="#060da0"/><stop offset="0.9834" stop-color="#0307a0"/></linearGradient><linearGradient id="g101" gradientUnits="userSpaceOnUse" x1="1366.0" x2="2102.0" y1="0" y2="0"><stop offset="0.0000" stop-color="#c38680"/><stop offset="0.0930" stop-color="#e7d080"/><stop offset="0.1147" stop-color="#ffff80"/><stop offset="0.2310" stop-color="#80ff00"/><stop offset="0.3519" stop-color="#80ffa0"/><stop offset="0.3770" stop-color="#74e7a0"/><stop offset="0.4024" stop-color="#6fdda0"/><stop offset="0.4693" stop-color="#60bfa0"/><stop offset="0.5205" stop-color="#55aaa0"/><stop offset="0.5921" stop-color="#4488a0"/><stop offset="0.6447" stop-color="#3366a0"/><stop offset="0.6928" stop-color="#2b55a0"/><stop offset="0.7978" stop-color="#2448a0"/><stop offset="0.8316" stop-color="#2040a0"/><stop offset="0.8729" stop-color="#172fa0"/><stop offset="0.9200" stop-color="#0d19a0"/><stop offset="0.9549" stop-color="#060da0"/><stop offset="0.9837" stop-color="#0307a0"/></linearGradient><linearGradient id="g102" gradientUnits="userSpaceOnUse" x1="1366.0" x2="2102.0" y1="0" y2="0"><stop offset="0.0000" stop-color="#c08080"/><stop offset="0.0945" stop-color="#e8d180"/><stop offset="0.1163" stop-color="#ffff80"/><stop offset="0.2324" stop-color="#80ff00"/><stop offset="0.3531" stop-color="#80ffa0"/><stop offset="0.3784" stop-color="#74e7a0"/><stop offset="0.4045" stop-color="#6fdda0"/><stop offset="0.4721" stop-color="#60bfa0"/><stop offset="0.5251" stop-color="#55aaa0"/><stop offset="0.5951" stop-color="#4488a0"/><stop offset="0.6466" stop-color="#3366a0"/><stop offset="0.6961" stop-color="#2b55a0"/><stop offset="0.7998" stop-color="#2448a0"/><stop offset="0.8328" stop-color="#2040a0"/><stop offset="0.8738" stop-color="#172fa0"/><stop offset="0.9206" stop-color="#0d19a0"/><stop offset="0.9555" stop-color="#060da0"/><stop offset="0.9840" stop-color="#0307a0"/></linearGradient><linearGradient id="g103" gradientUnits="userSpaceOnUse" x1="1366.0" x2="2102.0" y1="0" y2="0"><stop offset="0.0000" stop-color="#bc7980"/><stop offset="0.0960" stop-color="#e9d380"/><stop offset="0.1178" stop-color="#ffff80"/><stop offset="0.2337" stop-color="#80ff00"/><stop offset="0.3543" stop-color="#80ffa0"/><stop offset="0.3799" stop-color="#74e7a0"/><stop offset="0.4066" stop-color="#6fdda0"/><stop offset="0.4751" stop-color="#60bfa0"/><stop offset="0.5298" stop-color="#55aaa0"/><stop offset="0.5982" stop-color="#4488a0"/><stop offset="0.6486" stop-color="#3366a0"/><stop offset="0.6995" stop-color="#2b55a0"/><stop offset="0.8017" stop-color="#2448a0"/><stop offset="0.8341" stop-color="#2040a0"/><stop offset="0.8747" stop-color="#172fa0"/><stop offset="0.9212" stop-color="#0d19a0"/><stop offset="0.9561" stop-color="#060da0"/><stop offset="0.9842" stop-color="#0307a0"/></linearGradient><linearGradient id="g104" gradientUnits="userSpaceOnUse" x1="1366.0" x2="2102.0" y1="0" y2="0"><stop offset="0.0000" stop-color="#b97280"/><stop offset="0.0976" stop-color="#ead580"/><stop offset="0.1193" stop-color="#ffff80"/><stop offset="0.2350" stop-color="#80ff00"/><stop offset="0.3555" stop-color="#80ffa0"/><stop offset="0.3813" stop-color="#74e7a0"/><stop offset="0.4087" stop-color="#6fdda0"/><stop offset="0.4782" stop-color="#60bfa0"/><stop offset="0.5345" stop-color="#55aaa0"/><stop offset="0.6013" stop-color="#4488a0"/><stop offset="0.6506" stop-color="#3366a0"/><stop offset="0.7029" stop-color="#2b55a0"/><stop offset="0.8036" stop-color="#2448a0"/><stop offset="0.8354" stop-color="#2040a0"/><stop offset="0.8756" stop-color="#172fa0"/><stop offset="0.9218" stop-color="#0d19a0"/><stop offset="0.9567" stop-color="#060da0"/><stop offset="0.9845" stop-color="#0307a0"/></linearGradient><linearGradient id="g105" gradientUnits="userSpaceOnUse" x1="1366.0" x2="2102.0" y1="0" y2="0"><stop offset="0.0000" stop-color="#b46980"/><stop offset="0.0991" stop-color="#ebd880"/><stop offset="0.1209" stop-color="#ffff80"/><stop offset="0.2363" stop-color="#80ff00"/><stop offset="0.3568" stop-color="#80ffa0"/><stop offset="0.3827" stop-color="#74e7a0"/><stop offset="0.4108" stop-color="#6fdda0"/><stop offset="0.4814" stop-color="#60bfa0"/><stop offset="0.5394" stop-color="#55aaa0"/><stop offset="0.6044" stop-color="#4488a0"/><stop offset="0.6526" stop-color="#3366a0"/><stop offset="0.7064" stop-color="#2b55a0"/><stop offset="0.8055" stop-color="#2448a0"/><stop offset="0.8366" stop-color="#2040a0"/><stop offset="0.8765" stop-color="#172fa0"/><stop offset="0.9224" stop-color="#0d19a0"/><stop offset="0.9574" stop-color="#060da0"/><stop offset="0.9848" stop-color="#0307a0"/></linearGradient><linearGradient id="g106" gradientUnits="userSpaceOnUse" x1="1366.0" x2="2102.0" y1="0" y2="0"><stop offset="0.0000" stop-color="#af5f80"/><stop offset="0.1007" stop-color="#edda80"/><stop offset="0.1225" stop-color="#ffff80"/><stop offset="0.2376" stop-color="#80ff00"/><stop offset="0.3580" stop-color="#80ffa0"/><stop offset="0.3842" stop-color="#74e7a0"/><stop offset="0.4130" stop-color="#6fdda0"/><stop offset="0.4846" stop-color="#60bfa0"/><stop offset="0.5442" stop-color="#55aaa0"/><stop offset="0.6074" stop-color="#4488a0"/><stop offset="0.6546" stop-color="#3366a0"/><stop offset="0.7099" stop-color="#2b55a0"/><stop offset="0.8072" stop-color="#2448a0"/><stop offset="0.8378" stop-color="#2040a0"/><stop offset="0.8773" stop-color="#172fa0"/><stop offset="0.9229" stop-color="#0d19a0"/><stop offset="0.9580" stop-color="#060da0"/><stop offset="0.9852" stop-color="#0307a0"/></linearGradient><linearGradient id="g107" gradientUnits="userSpaceOnUse" x1="1366.0" x2="2102.0" y1="0" y2="0"><stop offset="0.0000" stop-color="#aa5580"/><stop offset="0.1241" stop-color="#ffff80"/><stop offset="0.2389" stop-color="#80ff00"/><stop offset="0.3592" stop-color="#80ffa0"/><stop offset="0.3856" stop-color="#74e7a0"/><stop offset="0.4151" stop-color="#6fdda0"/><stop offset="0.4879" stop-color="#60bfa0"/><stop offset="0.5490" stop-color="#55aaa0"/><stop offset="0.6104" stop-color="#4488a0"/><stop offset="0.6567" stop-color="#3366a0"/><stop offset="0.7133" stop-color="#2b55a0"/><stop offset="0.8089" stop-color="#2448a0"/><stop offset="0.8389" stop-color="#2040a0"/><stop offset="0.8782" stop-color="#172fa0"/><stop offset="0.9235" stop-color="#0d19a0"/><stop offset="0.9585" stop-color="#060da0"/><stop offset="0.9856" stop-color="#0307a0"/></linearGradient><linearGradient id="g108" gradientUnits="userSpaceOnUse" x1="1366.0" x2="2102.0" y1="0" y2="0"><stop offset="0.0000" stop-color="#a54b80"/><stop offset="0.1258" stop-color="#ffff80"/><stop offset="0.2402" stop-color="#80ff00"/><stop offset="0.3604" stop-color="#80ffa0"/><stop offset="0.3871" stop-color="#74e7a0"/><stop offset="0.4172" stop-color="#6fdda0"/><stop offset="0.4912" stop-color="#60bfa0"/><stop offset="0.5538" stop-color="#55aaa0"/><stop offset="0.6134" stop-color="#4488a0"/><stop offset="0.6587" stop-color="#3366a0"/><stop offset="0.7168" stop-color="#2b55a0"/><stop offset="0.8104" stop-color="#2448a0"/><stop offset="0.8399" stop-color="#2040a0"/><stop offset="0.8790" stop-color="#172fa0"/><stop offset="0.9240" stop-color="#0d19a0"/><stop offset="0.9591" stop-color="#060da0"/><stop offset="0.9860" stop-color="#0307a0"/></linearGradient><linearGradient id="g109" gradientUnits="userSpaceOnUse" x1="1366.0" x2="2102.0" y1="0" y2="0"><stop offset="0.0000" stop-color="#a04180"/><stop offset="0.1276" stop-color="#ffff80"/><stop offset="0.2414" stop-color="#80ff00"/><stop offset="0.3616" stop-color="#80ffa0"/><stop offset="0.3885" stop-color="#74e7a0"/><stop offset="0.4192" stop-color="#6fdda0"/><stop offset="0.4946" stop-color="#60bfa0"/><stop offset="0.5584" stop-color="#55aaa0"/><stop offset="0.6162" stop-color="#4488a0"/><stop offset="0.6608" stop-color="#3366a0"/><stop offset="0.7201" stop-color="#2b55a0"/><stop offset="0.8119" stop-color="#2448a0"/><stop offset="0.8409" stop-color="#2040a0"/><stop offset="0.8798" stop-color="#172fa0"/><stop offset="0.9245" stop-color="#0d19a0"/><stop offset="0.9596" stop-color="#060da0"/><stop offset="0.9864" stop-color="#0307a0"/></linearGradient><linearGradient id="g110" gradientUnits="userSpaceOnUse" x1="1366.0" x2="2102.0" y1="0" y2="0"><stop offset="0.0000" stop-color="#9a3480"/><stop offset="0.1295" stop-color="#ffff80"/><stop offset="0.2427" stop-color="#80ff00"/><stop offset="0.3628" stop-color="#80ffa0"/><stop offset="0.3899" stop-color="#74e7a0"/><stop offset="0.4212" stop-color="#6fdda0"/><stop offset="0.4980" stop-color="#60bfa0"/><stop offset="0.5629" stop-color="#55aaa0"/><stop offset="0.6189" stop-color="#4488a0"/><stop offset="0.6628" stop-color="#3366a0"/><stop offset="0.7234" stop-color="#2b55a0"/><stop offset="0.8132" stop-color="#2448a0"/><stop offset="0.8418" stop-color="#2040a0"/><stop offset="0.8805" stop-color="#172fa0"/><stop offset="0.9250" stop-color="#0d19a0"/><stop offset="0.9601" stop-color="#060da0"/><stop offset="0.9868" stop-color="#0307a0"/></linearGradient><linearGradient id="g111" gradientUnits="userSpaceOnUse" x1="1366.0" x2="2102.0" y1="0" y2="0"><stop offset="0.0000" stop-color="#932580"/><stop offset="0.1314" stop-color="#ffff80"/><stop offset="0.2439" stop-color="#80ff00"/><stop offset="0.3640" stop-color="#80ffa0"/><stop offset="0.3914" stop-color="#74e7a0"/><stop offset="0.4232" stop-color="#6fdda0"/><stop offset="0.5014" stop-color="#60bfa0"/><stop offset="0.5672" stop-color="#55aaa0"/><stop offset="0.6214" stop-color="#4488a0"/><stop offset="0.6647" stop-color="#3366a0"/><stop offset="0.7266" stop-color="#2b55a0"/><stop offset="0.8144" stop-color="#2448a0"/><stop offset="0.8426" stop-color="#2040a0"/><stop offset="0.8811" stop-color="#172fa0"/><stop offset="0.9254" stop-color="#0d19a0"/><stop offset="0.9606" stop-color="#060da0"/><stop offset="0.9871" stop-color="#0307a0"/></linearGradient><linearGradient id="g112" gradientUnits="userSpaceOnUse" x1="1366.0" x2="2102.0" y1="0" y2="0"><stop offset="0.0000" stop-color="#8b1680"/><stop offset="0.1336" stop-color="#ffff80"/><stop offset="0.2451" stop-color="#80ff00"/><stop offset="0.3652" stop-color="#80ffa0"/><stop offset="0.3928" stop-color="#74e7a0"/><stop offset="0.4251" stop-color="#6fdda0"/><stop offset="0.5049" stop-color="#60bfa0"/><stop offset="0.5713" stop-color="#55aaa0"/><stop offset="0.6238" stop-color="#4488a0"/><stop offset="0.6667" stop-color="#3366a0"/><stop offset="0.7296" stop-color="#2b55a0"/><stop offset="0.8154" stop-color="#2448a0"/><stop offset="0.8434" stop-color="#2040a0"/><stop offset="0.8817" stop-color="#172fa0"/><stop offset="0.9257" stop-color="#0d19a0"/><stop offset="0.9610" stop-color="#060da0"/><stop offset="0.9875" stop-color="#0307a0"/></linearGradient><linearGradient id="g113" gradientUnits="userSpaceOnUse" x1="1366.0" x2="2102.0" y1="0" y2="0"><stop offset="0.0000" stop-color="#840780"/><stop offset="0.1360" stop-color="#ffff80"/><stop offset="0.2464" stop-color="#80ff00"/><stop offset="0.3664" stop-color="#80ffa0"/><stop offset="0.3942" stop-color="#74e7a0"/><stop offset="0.4269" stop-color="#6fdda0"/><stop offset="0.5083" stop-color="#60bfa0"/><stop offset="0.5751" stop-color="#55aaa0"/><stop offset="0.6259" stop-color="#4488a0"/><stop offset="0.6686" stop-color="#3366a0"/><stop offset="0.7325" stop-color="#2b55a0"/><stop offset="0.8163" stop-color="#2448a0"/><stop offset="0.8440" stop-color="#2040a0"/><stop offset="0.8822" stop-color="#172fa0"/><stop offset="0.9260" stop-color="#0d19a0"/><stop offset="0.9613" stop-color="#060da0"/><stop offset="0.9879" stop-color="#0307a0"/></linearGradient><linearGradient id="g114" gradientUnits="userSpaceOnUse" x1="1366.0" x2="2102.0" y1="0" y2="0"><stop offset="0.0000" stop-color="#800080"/><stop offset="0.0040" stop-color="#800080"/><stop offset="0.1384" stop-color="#ffff80"/><stop offset="0.2476" stop-color="#80ff00"/><stop offset="0.3676" stop-color="#80ffa0"/><stop offset="0.3955" stop-color="#74e7a0"/><stop offset="0.4287" stop-color="#6fdda0"/><stop offset="0.5117" stop-color="#60bfa0"/><stop offset="0.5786" stop-color="#55aaa0"/><stop offset="0.6278" stop-color="#4488a0"/><stop offset="0.6704" stop-color="#3366a0"/><stop offset="0.7352" stop-color="#2b55a0"/><stop offset="0.8170" stop-color="#2448a0"/><stop offset="0.8445" stop-color="#2040a0"/><stop offset="0.8826" stop-color="#172fa0"/><stop offset="0.9263" stop-color="#0d19a0"/><stop offset="0.9616" stop-color="#060da0"/><stop offset="0.9883" stop-color="#0307a0"/></linearGradient><linearGradient id="g115" gradientUnits="userSpaceOnUse" x1="1366.0" x2="2102.0" y1="0" y2="0"><stop offset="0.0000" stop-color="#800080"/><stop offset="0.0116" stop-color="#800080"/><stop offset="0.1408" stop-color="#ffff80"/><stop offset="0.2488" stop-color="#80ff00"/><stop offset="0.3687" stop-color="#80ffa0"/><stop offset="0.3969" stop-color="#74e7a0"/><stop offset="0.4304" stop-color="#6fdda0"/><stop offset="0.5151" stop-color="#60bfa0"/><stop offset="0.5818" stop-color="#55aaa0"/><stop offset="0.6294" stop-color="#4488a0"/><stop offset="0.6721" stop-color="#3366a0"/><stop offset="0.7376" stop-color="#2b55a0"/><stop offset="0.8175" stop-color="#2448a0"/><stop offset="0.8448" stop-color="#2040a0"/><stop offset="0.8829" stop-color="#172fa0"/><stop offset="0.9265" stop-color="#0d19a0"/><stop offset="0.9618" stop-color="#060da0"/><stop offset="0.9887" stop-color="#0307a0"/></linearGradient><linearGradient id="g116" gradientUnits="userSpaceOnUse" x1="1366.0" x2="2102.0" y1="0" y2="0"><stop offset="0.0000" stop-color="#800080"/><stop offset="0.0185" stop-color="#800080"/><stop offset="0.1432" stop-color="#ffff80"/><stop offset="0.2501" stop-color="#80ff00"/><stop offset="0.3698" stop-color="#80ffa0"/><stop offset="0.3983" stop-color="#74e7a0"/><stop offset="0.4319" stop-color="#6fdda0"/><stop offset="0.5184" stop-color="#60bfa0"/><stop offset="0.5846" stop-color="#55aaa0"/><stop offset="0.6308" stop-color="#4488a0"/><stop offset="0.6737" stop-color="#3366a0"/><stop offset="0.7399" stop-color="#2b55a0"/><stop offset="0.8178" stop-color="#2448a0"/><stop offset="0.8450" stop-color="#2040a0"/><stop offset="0.8831" stop-color="#172fa0"/><stop offset="0.9266" stop-color="#0d19a0"/><stop offset="0.9619" stop-color="#060da0"/><stop offset="0.9891" stop-color="#0307a0"/></linearGradient><linearGradient id="g117" gradientUnits="userSpaceOnUse" x1="1366.0" x2="2102.0" y1="0" y2="0"><stop offset="0.0000" stop-color="#800080"/><stop offset="0.0245" stop-color="#800080"/><stop offset="0.1454" stop-color="#ffff80"/><stop offset="0.2514" stop-color="#80ff00"/><stop offset="0.3709" stop-color="#80ffa0"/><stop offset="0.3996" stop-color="#74e7a0"/><stop offset="0.4334" stop-color="#6fdda0"/><stop offset="0.5217" stop-color="#60bfa0"/><stop offset="0.5870" stop-color="#55aaa0"/><stop offset="0.6318" stop-color="#4488a0"/><stop offset="0.6753" stop-color="#3366a0"/><stop offset="0.7418" stop-color="#2b55a0"/><stop offset="0.8179" stop-color="#2448a0"/><stop offset="0.8451" stop-color="#2040a0"/><stop offset="0.8832" stop-color="#172fa0"/><stop offset="0.9266" stop-color="#0d19a0"/><stop offset="0.9620" stop-color="#060da0"/><stop offset="0.9894" stop-color="#0307a0"/></linearGradient><linearGradient id="g118" gradientUnits="userSpaceOnUse" x1="1366.0" x2="2102.0" y1="0" y2="0"><stop offset="0.0000" stop-color="#800080"/><stop offset="0.0295" stop-color="#800080"/><stop offset="0.1475" stop-color="#ffff80"/><stop offset="0.2526" stop-color="#80ff00"/><stop offset="0.3720" stop-color="#80ffa0"/><stop offset="0.4009" stop-color="#74e7a0"/><stop offset="0.4348" stop-color="#6fdda0"/><stop offset="0.5252" stop-color="#60bfa0"/><stop offset="0.5890" stop-color="#55aaa0"/><stop offset="0.6326" stop-color="#4488a0"/><stop offset="0.6767" stop-color="#3366a0"/><stop offset="0.7436" stop-color="#2b55a0"/><stop offset="0.8178" stop-color="#2448a0"/><stop offset="0.8450" stop-color="#2040a0"/><stop offset="0.8830" stop-color="#172fa0"/><stop offset="0.9265" stop-color="#0d19a0"/><stop offset="0.9619" stop-color="#060da0"/><stop offset="0.9898" stop-color="#0307a0"/></linearGradient><linearGradient id="g119" gradientUnits="userSpaceOnUse" x1="1366.0" x2="2102.0" y1="0" y2="0"><stop offset="0.0000" stop-color="#800080"/><stop offset="0.0340" stop-color="#800080"/><stop offset="0.1495" stop-color="#ffff80"/><stop offset="0.2539" stop-color="#80ff00"/><stop offset="0.3730" stop-color="#80ffa0"/><stop offset="0.4021" stop-color="#74e7a0"/><stop offset="0.4362" stop-color="#6fdda0"/><stop offset="0.5290" stop-color="#60bfa0"/><stop offset="0.5910" stop-color="#55aaa0"/><stop offset="0.6333" stop-color="#4488a0"/><stop offset="0.6781" stop-color="#3366a0"/><stop offset="0.7453" stop-color="#2b55a0"/><stop offset="0.8174" stop-color="#2448a0"/><stop offset="0.8447" stop-color="#2040a0"/><stop offset="0.8827" stop-color="#172fa0"/><stop offset="0.9260" stop-color="#0d19a0"/><stop offset="0.9617" stop-color="#060da0"/><stop offset="0.9902" stop-color="#0307a0"/></linearGradient><linearGradient id="g120" gradientUnits="userSpaceOnUse" x1="1366.0" x2="2102.0" y1="0" y2="0"><stop offset="0.0000" stop-color="#800080"/><stop offset="0.0381" stop-color="#800080"/><stop offset="0.1515" stop-color="#ffff80"/><stop offset="0.2551" stop-color="#80ff00"/><stop offset="0.3740" stop-color="#80ffa0"/><stop offset="0.4033" stop-color="#74e7a0"/><stop offset="0.4375" stop-color="#6fdda0"/><stop offset="0.5331" stop-color="#60bfa0"/><stop offset="0.5928" stop-color="#55aaa0"/><stop offset="0.6339" stop-color="#4488a0"/><stop offset="0.6795" stop-color="#3366a0"/><stop offset="0.7469" stop-color="#2b55a0"/><stop offset="0.8169" stop-color="#2448a0"/><stop offset="0.8443" stop-color="#2040a0"/><stop offset="0.8821" stop-color="#172fa0"/><stop offset="0.9254" stop-color="#0d19a0"/><stop offset="0.9613" stop-color="#060da0"/><stop offset="0.9906" stop-color="#0307a0"/></linearGradient><linearGradient id="g121" gradientUnits="userSpaceOnUse" x1="1366.0" x2="2102.0" y1="0" y2="0"><stop offset="0.0000" stop-color="#800080"/><stop offset="0.0421" stop-color="#800080"/><stop offset="0.1534" stop-color="#ffff80"/><stop offset="0.2564" stop-color="#80ff00"/><stop offset="0.3749" stop-color="#80ffa0"/><stop offset="0.4045" stop-color="#74e7a0"/><stop offset="0.4387" stop-color="#6fdda0"/><stop offset="0.5374" stop-color="#60bfa0"/><stop offset="0.5945" stop-color="#55aaa0"/><stop offset="0.6345" stop-color="#4488a0"/><stop offset="0.6808" stop-color="#3366a0"/><stop offset="0.7484" stop-color="#2b55a0"/><stop offset="0.8161" stop-color="#2448a0"/><stop offset="0.8437" stop-color="#2040a0"/><stop offset="0.8813" stop-color="#172fa0"/><stop offset="0.9245" stop-color="#0d19a0"/><stop offset="0.9609" stop-color="#060da0"/><stop offset="0.9912" stop-color="#0307a0"/></linearGradient><linearGradient id="g122" gradientUnits="userSpaceOnUse" x1="1366.0" x2="2102.0" y1="0" y2="0"><stop offset="0.0000" stop-color="#800080"/><stop offset="0.0462" stop-color="#800080"/><stop offset="0.1553" stop-color="#ffff80"/><stop offset="0.2577" stop-color="#80ff00"/><stop offset="0.3758" stop-color="#80ffa0"/><stop offset="0.4056" stop-color="#74e7a0"/><stop offset="0.4400" stop-color="#6fdda0"/><stop offset="0.5419" stop-color="#60bfa0"/><stop offset="0.5962" stop-color="#55aaa0"/><stop offset="0.6350" stop-color="#4488a0"/><stop offset="0.6822" stop-color="#3366a0"/><stop offset="0.7498" stop-color="#2b55a0"/><stop offset="0.8152" stop-color="#2448a0"/><stop offset="0.8430" stop-color="#2040a0"/><stop offset="0.8805" stop-color="#172fa0"/><stop offset="0.9234" stop-color="#0d19a0"/><stop offset="0.9603" stop-color="#060da0"/><stop offset="0.9918" stop-color="#0307a0"/></linearGradient><linearGradient id="g123" gradientUnits="userSpaceOnUse" x1="1366.0" x2="2102.0" y1="0" y2="0"><stop offset="0.0000" stop-color="#800080"/><stop offset="0.0503" stop-color="#800080"/><stop offset="0.1571" stop-color="#ffff80"/><stop offset="0.2589" stop-color="#80ff00"/><stop offset="0.3767" stop-color="#80ffa0"/><stop offset="0.4067" stop-color="#74e7a0"/><stop offset="0.4411" stop-color="#6fdda0"/><stop offset="0.5465" stop-color="#60bfa0"/><stop offset="0.5977" stop-color="#55aaa0"/><stop offset="0.6355" stop-color="#4488a0"/><stop offset="0.6834" stop-color="#3366a0"/><stop offset="0.7512" stop-color="#2b55a0"/><stop offset="0.8142" stop-color="#2448a0"/><stop offset="0.8422" stop-color="#2040a0"/><stop offset="0.8795" stop-color="#172fa0"/><stop offset="0.9222" stop-color="#0d19a0"/><stop offset="0.9597" stop-color="#060da0"/><stop offset="0.9925" stop-color="#0307a0"/></linearGradient><linearGradient id="g124" gradientUnits="userSpaceOnUse" x1="1366.0" x2="2102.0" y1="0" y2="0"><stop offset="0.0000" stop-color="#800080"/><stop offset="0.0543" stop-color="#800080"/><stop offset="0.1590" stop-color="#ffff80"/><stop offset="0.2602" stop-color="#80ff00"/><stop offset="0.3776" stop-color="#80ffa0"/><stop offset="0.4078" stop-color="#74e7a0"/><stop offset="0.4423" stop-color="#6fdda0"/><stop offset="0.5511" stop-color="#60bfa0"/><stop offset="0.5992" stop-color="#55aaa0"/><stop offset="0.6359" stop-color="#4488a0"/><stop offset="0.6847" stop-color="#3366a0"/><stop offset="0.7525" stop-color="#2b55a0"/><stop offset="0.8132" stop-color="#2448a0"/><stop offset="0.8413" stop-color="#2040a0"/><stop offset="0.8784" stop-color="#172fa0"/><stop offset="0.9209" stop-color="#0d19a0"/><stop offset="0.9591" stop-color="#060da0"/><stop offset="0.9931" stop-color="#0307a0"/></linearGradient><linearGradient id="g125" gradientUnits="userSpaceOnUse" x1="1366.0" x2="2102.0" y1="0" y2="0"><stop offset="0.0000" stop-color="#800080"/><stop offset="0.0583" stop-color="#800080"/><stop offset="0.1608" stop-color="#ffff80"/><stop offset="0.2615" stop-color="#80ff00"/><stop offset="0.3785" stop-color="#80ffa0"/><stop offset="0.4090" stop-color="#74e7a0"/><stop offset="0.4434" stop-color="#6fdda0"/><stop offset="0.5557" stop-color="#60bfa0"/><stop offset="0.6006" stop-color="#55aaa0"/><stop offset="0.6363" stop-color="#4488a0"/><stop offset="0.6859" stop-color="#3366a0"/><stop offset="0.7538" stop-color="#2b55a0"/><stop offset="0.8120" stop-color="#2448a0"/><stop offset="0.8404" stop-color="#2040a0"/><stop offset="0.8772" stop-color="#172fa0"/><stop offset="0.9195" stop-color="#0d19a0"/><stop offset="0.9584" stop-color="#060da0"/><stop offset="0.9937" stop-color="#0307a0"/></linearGradient><linearGradient id="g126" gradientUnits="userSpaceOnUse" x1="1366.0" x2="2102.0" y1="0" y2="0"><stop offset="0.0000" stop-color="#800080"/><stop offset="0.0620" stop-color="#800080"/><stop offset="0.1625" stop-color="#ffff80"/><stop offset="0.2628" stop-color="#80ff00"/><stop offset="0.3794" stop-color="#80ffa0"/><stop offset="0.4101" stop-color="#74e7a0"/><stop offset="0.4446" stop-color="#6fdda0"/><stop offset="0.5602" stop-color="#60bfa0"/><stop offset="0.6020" stop-color="#55aaa0"/><stop offset="0.6367" stop-color="#4488a0"/><stop offset="0.6872" stop-color="#3366a0"/><stop offset="0.7551" stop-color="#2b55a0"/><stop offset="0.8109" stop-color="#2448a0"/><stop offset="0.8394" stop-color="#2040a0"/><stop offset="0.8761" stop-color="#172fa0"/><stop offset="0.9181" stop-color="#0d19a0"/><stop offset="0.9577" stop-color="#060da0"/><stop offset="0.9943" stop-color="#0307a0"/></linearGradient><linearGradient id="g127" gradientUnits="userSpaceOnUse" x1="1366.0" x2="2102.0" y1="0" y2="0"><stop offset="0.0000" stop-color="#800080"/><stop offset="0.0656" stop-color="#800080"/><stop offset="0.1641" stop-color="#ffff80"/><stop offset="0.2640" stop-color="#80ff00"/><stop offset="0.3803" stop-color="#80ffa0"/><stop offset="0.4112" stop-color="#74e7a0"/><stop offset="0.4457" stop-color="#6fdda0"/><stop offset="0.5646" stop-color="#60bfa0"/><stop offset="0.6034" stop-color="#55aaa0"/><stop offset="0.6371" stop-color="#4488a0"/><stop offset="0.6884" stop-color="#3366a0"/><stop offset="0.7563" stop-color="#2b55a0"/><stop offset="0.8097" stop-color="#2448a0"/><stop offset="0.8385" stop-color="#2040a0"/><stop offset="0.8749" stop-color="#172fa0"/><stop offset="0.9167" stop-color="#0d19a0"/><stop offset="0.9570" stop-color="#060da0"/><stop offset="0.9949" stop-color="#0307a0"/></linearGradient><linearGradient id="g128" gradientUnits="userSpaceOnUse" x1="1366.0" x2="2102.0" y1="0" y2="0"><stop offset="0.0000" stop-color="#800080"/><stop offset="0.0690" stop-color="#800080"/><stop offset="0.1656" stop-color="#ffff80"/><stop offset="0.2652" stop-color="#80ff00"/><stop offset="0.3813" stop-color="#80ffa0"/><stop offset="0.4124" stop-color="#74e7a0"/><stop offset="0.4467" stop-color="#6fdda0"/><stop offset="0.5688" stop-color="#60bfa0"/><stop offset="0.6047" stop-color="#55aaa0"/><stop offset="0.6375" stop-color="#4488a0"/><stop offset="0.6897" stop-color="#3366a0"/><stop offset="0.7576" stop-color="#2b55a0"/><stop offset="0.8086" stop-color="#2448a0"/><stop offset="0.8376" stop-color="#2040a0"/><stop offset="0.8738" stop-color="#172fa0"/><stop offset="0.9154" stop-color="#0d19a0"/><stop offset="0.9563" stop-color="#060da0"/><stop offset="0.9955" stop-color="#0307a0"/></linearGradient><linearGradient id="g129" gradientUnits="userSpaceOnUse" x1="1366.0" x2="2102.0" y1="0" y2="0"><stop offset="0.0000" stop-color="#800080"/><stop offset="0.0720" stop-color="#800080"/><stop offset="0.1671" stop-color="#ffff80"/><stop offset="0.2665" stop-color="#80ff00"/><stop offset="0.3823" stop-color="#80ffa0"/><stop offset="0.4136" stop-color="#74e7a0"/><stop offset="0.4478" stop-color="#6fdda0"/><stop offset="0.5727" stop-color="#60bfa0"/><stop offset="0.6061" stop-color="#55aaa0"/><stop offset="0.6380" stop-color="#4488a0"/><stop offset="0.6909" stop-color="#3366a0"/><stop offset="0.7588" stop-color="#2b55a0"/><stop offset="0.8075" stop-color="#2448a0"/><stop offset="0.8368" stop-color="#2040a0"/><stop offset="0.8727" stop-color="#172fa0"/><stop offset="0.9141" stop-color="#0d19a0"/><stop offset="0.9557" stop-color="#060da0"/><stop offset="0.9959" stop-color="#0307a0"/></linearGradient><linearGradient id="g130" gradientUnits="userSpaceOnUse" x1="1366.0" x2="2102.0" y1="0" y2="0"><stop offset="0.0000" stop-color="#800080"/><stop offset="0.0746" stop-color="#800080"/><stop offset="0.1686" stop-color="#ffff80"/><stop offset="0.2678" stop-color="#80ff00"/><stop offset="0.3833" stop-color="#80ffa0"/><stop offset="0.4148" stop-color="#74e7a0"/><stop offset="0.4489" stop-color="#6fdda0"/><stop offset="0.5763" stop-color="#60bfa0"/><stop offset="0.6074" stop-color="#55aaa0"/><stop offset="0.6384" stop-color="#4488a0"/><stop offset="0.6922" stop-color="#3366a0"/><stop offset="0.7601" stop-color="#2b55a0"/><stop offset="0.8066" stop-color="#2448a0"/><stop offset="0.8360" stop-color="#2040a0"/><stop offset="0.8718" stop-color="#172fa0"/><stop offset="0.9130" stop-color="#0d19a0"/><stop offset="0.9551" stop-color="#060da0"/><stop offset="0.9959" stop-color="#0307a0"/></linearGradient><linearGradient id="g131" gradientUnits="userSpaceOnUse" x1="1366.0" x2="2102.0" y1="0" y2="0"><stop offset="0.0000" stop-color="#800080"/><stop offset="0.0768" stop-color="#800080"/><stop offset="0.1702" stop-color="#ffff80"/><stop offset="0.2691" stop-color="#80ff00"/><stop offset="0.3843" stop-color="#80ffa0"/><stop offset="0.4161" stop-color="#74e7a0"/><stop offset="0.4500" stop-color="#6fdda0"/><stop offset="0.5795" stop-color="#60bfa0"/><stop offset="0.6088" stop-color="#55aaa0"/><stop offset="0.6390" stop-color="#4488a0"/><stop offset="0.6935" stop-color="#3366a0"/><stop offset="0.7614" stop-color="#2b55a0"/><stop offset="0.8058" stop-color="#2448a0"/><stop offset="0.8354" stop-color="#2040a0"/><stop offset="0.8710" stop-color="#172fa0"/><stop offset="0.9120" stop-color="#0d19a0"/><stop offset="0.9547" stop-color="#060da0"/><stop offset="0.9959" stop-color="#0307a0"/></linearGradient><linearGradient id="g132" gradientUnits="userSpaceOnUse" x1="1366.0" x2="2102.0" y1="0" y2="0"><stop offset="0.0000" stop-color="#800080"/><stop offset="0.0787" stop-color="#800080"/><stop offset="0.1719" stop-color="#ffff80"/><stop offset="0.2705" stop-color="#80ff00"/><stop offset="0.3855" stop-color="#80ffa0"/><stop offset="0.4175" stop-color="#74e7a0"/><stop offset="0.4511" stop-color="#6fdda0"/><stop offset="0.5823" stop-color="#60bfa0"/><stop offset="0.6103" stop-color="#55aaa0"/><stop offset="0.6395" stop-color="#4488a0"/><stop offset="0.6949" stop-color="#3366a0"/><stop offset="0.7627" stop-color="#2b55a0"/><stop offset="0.8051" stop-color="#2448a0"/><stop offset="0.8348" stop-color="#2040a0"/><stop offset="0.8703" stop-color="#172fa0"/><stop offset="0.9112" stop-color="#0d19a0"/><stop offset="0.9543" stop-color="#060da0"/><stop offset="0.9959" stop-color="#0307a0"/></linearGradient><linearGradient id="g133" gradientUnits="userSpaceOnUse" x1="1366.0" x2="2102.0" y1="0" y2="0"><stop offset="0.0000" stop-color="#800080"/><stop offset="0.0807" stop-color="#800080"/><stop offset="0.1736" stop-color="#ffff80"/><stop offset="0.2720" stop-color="#80ff00"/><stop offset="0.3867" stop-color="#80ffa0"/><stop offset="0.4189" stop-color="#74e7a0"/><stop offset="0.4521" stop-color="#6fdda0"/><stop offset="0.5846" stop-color="#60bfa0"/><stop offset="0.6118" stop-color="#55aaa0"/><stop offset="0.6402" stop-color="#4488a0"/><stop offset="0.6962" stop-color="#3366a0"/><stop offset="0.7641" stop-color="#2b55a0"/><stop offset="0.8046" stop-color="#2448a0"/><stop offset="0.8345" stop-color="#2040a0"/><stop offset="0.8698" stop-color="#172fa0"/><stop offset="0.9107" stop-color="#0d19a0"/><stop offset="0.9540" stop-color="#060da0"/><stop offset="0.9959" stop-color="#0307a0"/></linearGradient><linearGradient id="g134" gradientUnits="userSpaceOnUse" x1="1366.0" x2="2102.0" y1="0" y2="0"><stop offset="0.0000" stop-color="#800080"/><stop offset="0.0829" stop-color="#800080"/><stop offset="0.1756" stop-color="#ffff80"/><stop offset="0.2736" stop-color="#80ff00"/><stop offset="0.3879" stop-color="#80ffa0"/><stop offset="0.4204" stop-color="#74e7a0"/><stop offset="0.4532" stop-color="#6fdda0"/><stop offset="0.5863" stop-color="#60bfa0"/><stop offset="0.6133" stop-color="#55aaa0"/><stop offset="0.6409" stop-color="#4488a0"/><stop offset="0.6976" stop-color="#3366a0"/><stop offset="0.7656" stop-color="#2b55a0"/><stop offset="0.8044" stop-color="#2448a0"/><stop offset="0.8343" stop-color="#2040a0"/><stop offset="0.8696" stop-color="#172fa0"/><stop offset="0.9104" stop-color="#0d19a0"/><stop offset="0.9538" stop-color="#060da0"/><stop offset="0.9959" stop-color="#0307a0"/></linearGradient><linearGradient id="g135" gradientUnits="userSpaceOnUse" x1="1366.0" x2="2102.0" y1="0" y2="0"><stop offset="0.0000" stop-color="#800080"/><stop offset="0.0857" stop-color="#800080"/><stop offset="0.1777" stop-color="#ffff80"/><stop offset="0.2753" stop-color="#80ff00"/><stop offset="0.3893" stop-color="#80ffa0"/><stop offset="0.4219" stop-color="#74e7a0"/><stop offset="0.4543" stop-color="#6fdda0"/><stop offset="0.5875" stop-color="#60bfa0"/><stop offset="0.6149" stop-color="#55aaa0"/><stop offset="0.6417" stop-color="#4488a0"/><stop offset="0.6991" stop-color="#3366a0"/><stop offset="0.7671" stop-color="#2b55a0"/><stop offset="0.8044" stop-color="#2448a0"/><stop offset="0.8343" stop-color="#2040a0"/><stop offset="0.8696" stop-color="#172fa0"/><stop offset="0.9103" stop-color="#0d19a0"/><stop offset="0.9538" stop-color="#060da0"/><stop offset="0.9959" stop-color="#0307a0"/></linearGradient><linearGradient id="g136" gradientUnits="userSpaceOnUse" x1="1366.0" x2="2102.0" y1="0" y2="0"><stop offset="0.0000" stop-color="#800080"/><stop offset="0.0893" stop-color="#800080"/><stop offset="0.1800" stop-color="#ffff80"/><stop offset="0.2772" stop-color="#80ff00"/><stop offset="0.3907" stop-color="#80ffa0"/><stop offset="0.4236" stop-color="#74e7a0"/><stop offset="0.4552" stop-color="#6fdda0"/><stop offset="0.5883" stop-color="#60bfa0"/><stop offset="0.6165" stop-color="#55aaa0"/><stop offset="0.6427" stop-color="#4488a0"/><stop offset="0.7006" stop-color="#3366a0"/><stop offset="0.7686" stop-color="#2b55a0"/><stop offset="0.8046" stop-color="#2448a0"/><stop offset="0.8344" stop-color="#2040a0"/><stop offset="0.8696" stop-color="#172fa0"/><stop offset="0.9104" stop-color="#0d19a0"/><stop offset="0.9538" stop-color="#060da0"/><stop offset="0.9959" stop-color="#0307a0"/></linearGradient><linearGradient id="g137" gradientUnits="userSpaceOnUse" x1="1366.0" x2="2102.0" y1="0" y2="0"><stop offset="0.0000" stop-color="#800080"/><stop offset="0.0935" stop-color="#800080"/><stop offset="0.1824" stop-color="#ffff80"/><stop offset="0.2792" stop-color="#80ff00"/><stop offset="0.3923" stop-color="#80ffa0"/><stop offset="0.4254" stop-color="#74e7a0"/><stop offset="0.4559" stop-color="#6fdda0"/><stop offset="0.5889" stop-color="#60bfa0"/><stop offset="0.6180" stop-color="#55aaa0"/><stop offset="0.6437" stop-color="#4488a0"/><stop offset="0.7020" stop-color="#3366a0"/><stop offset="0.7701" stop-color="#2b55a0"/><stop offset="0.8049" stop-color="#2448a0"/><stop offset="0.8346" stop-color="#2040a0"/><stop offset="0.8697" stop-color="#172fa0"/><stop offset="0.9104" stop-color="#0d19a0"/><stop offset="0.9538" stop-color="#060da0"/><stop offset="0.9959" stop-color="#0307a0"/></linearGradient><linearGradient id="g138" gradientUnits="userSpaceOnUse" x1="1366.0" x2="2102.0" y1="0" y2="0"><stop offset="0.0000" stop-color="#800080"/><stop offset="0.0969" stop-color="#800080"/><stop offset="0.1844" stop-color="#ffff80"/><stop offset="0.2808" stop-color="#80ff00"/><stop offset="0.3935" stop-color="#80ffa0"/><stop offset="0.4268" stop-color="#74e7a0"/><stop offset="0.4564" stop-color="#6fdda0"/><stop offset="0.5892" stop-color="#60bfa0"/><stop offset="0.6190" stop-color="#55aaa0"/><stop offset="0.6445" stop-color="#4488a0"/><stop offset="0.7031" stop-color="#3366a0"/><stop offset="0.7713" stop-color="#2b55a0"/><stop offset="0.8053" stop-color="#2448a0"/><stop offset="0.8349" stop-color="#2040a0"/><stop offset="0.8699" stop-color="#172fa0"/><stop offset="0.9105" stop-color="#0d19a0"/><stop offset="0.9539" stop-color="#060da0"/><stop offset="0.9959" stop-color="#0307a0"/></linearGradient><linearGradient id="g139" gradientUnits="userSpaceOnUse" x1="1366.0" x2="2102.0" y1="0" y2="0"><stop offset="0.0000" stop-color="#800080"/><stop offset="0.0993" stop-color="#800080"/><stop offset="0.1858" stop-color="#ffff80"/><stop offset="0.2820" stop-color="#80ff00"/><stop offset="0.3944" stop-color="#80ffa0"/><stop offset="0.4277" stop-color="#74e7a0"/><stop offset="0.4568" stop-color="#6fdda0"/><stop offset="0.5895" stop-color="#60bfa0"/><stop offset="0.6198" stop-color="#55aaa0"/><stop offset="0.6451" stop-color="#4488a0"/><stop offset="0.7038" stop-color="#3366a0"/><stop offset="0.7721" stop-color="#2b55a0"/><stop offset="0.8056" stop-color="#2448a0"/><stop offset="0.8351" stop-color="#2040a0"/><stop offset="0.8700" stop-color="#172fa0"/><stop offset="0.9106" stop-color="#0d19a0"/><stop offset="0.9539" stop-color="#060da0"/><stop offset="0.9959" stop-color="#0307a0"/></linearGradient><linearGradient id="g140" gradientUnits="userSpaceOnUse" x1="1366.0" x2="2102.0" y1="0" y2="0"><stop offset="0.0000" stop-color="#800080"/><stop offset="0.1016" stop-color="#800080"/><stop offset="0.1872" stop-color="#ffff80"/><stop offset="0.2831" stop-color="#80ff00"/><stop offset="0.3953" stop-color="#80ffa0"/><stop offset="0.4288" stop-color="#74e7a0"/><stop offset="0.4572" stop-color="#6fdda0"/><stop offset="0.5897" stop-color="#60bfa0"/><stop offset="0.6205" stop-color="#55aaa0"/><stop offset="0.6458" stop-color="#4488a0"/><stop offset="0.7046" stop-color="#3366a0"/><stop offset="0.7728" stop-color="#2b55a0"/><stop offset="0.8060" stop-color="#2448a0"/><stop offset="0.8353" stop-color="#2040a0"/><stop offset="0.8701" stop-color="#172fa0"/><stop offset="0.9106" stop-color="#0d19a0"/><stop offset="0.9539" stop-color="#060da0"/><stop offset="0.9959" stop-color="#0307a0"/></linearGradient><linearGradient id="g141" gradientUnits="userSpaceOnUse" x1="1366.0" x2="2102.0" y1="0" y2="0"><stop offset="0.0000" stop-color="#800080"/><stop offset="0.1040" stop-color="#800080"/><stop offset="0.1887" stop-color="#ffff80"/><stop offset="0.2844" stop-color="#80ff00"/><stop offset="0.3962" stop-color="#80ffa0"/><stop offset="0.4298" stop-color="#74e7a0"/><stop offset="0.4576" stop-color="#6fdda0"/><stop offset="0.5900" stop-color="#60bfa0"/><stop offset="0.6212" stop-color="#55aaa0"/><stop offset="0.6464" stop-color="#4488a0"/><stop offset="0.7053" stop-color="#3366a0"/><stop offset="0.7736" stop-color="#2b55a0"/><stop offset="0.8063" stop-color="#2448a0"/><stop offset="0.8356" stop-color="#2040a0"/><stop offset="0.8702" stop-color="#172fa0"/><stop offset="0.9107" stop-color="#0d19a0"/><stop offset="0.9540" stop-color="#060da0"/><stop offset="0.9959" stop-color="#0307a0"/></linearGradient><linearGradient id="g142" gradientUnits="userSpaceOnUse" x1="1366.0" x2="2102.0" y1="0" y2="0"><stop offset="0.0000" stop-color="#800080"/><stop offset="0.1063" stop-color="#800080"/><stop offset="0.1903" stop-color="#ffff80"/><stop offset="0.2856" stop-color="#80ff00"/><stop offset="0.3972" stop-color="#80ffa0"/><stop offset="0.4309" stop-color="#74e7a0"/><stop offset="0.4582" stop-color="#6fdda0"/><stop offset="0.5903" stop-color="#60bfa0"/><stop offset="0.6219" stop-color="#55aaa0"/><stop offset="0.6471" stop-color="#4488a0"/><stop offset="0.7061" stop-color="#3366a0"/><stop offset="0.7744" stop-color="#2b55a0"/><stop offset="0.8067" stop-color="#2448a0"/><stop offset="0.8359" stop-color="#2040a0"/><stop offset="0.8703" stop-color="#172fa0"/><stop offset="0.9108" stop-color="#0d19a0"/><stop offset="0.9540" stop-color="#060da0"/><stop offset="0.9959" stop-color="#0307a0"/></linearGradient><linearGradient id="g143" gradientUnits="userSpaceOnUse" x1="1366.0" x2="2102.0" y1="0" y2="0"><stop offset="0.0000" stop-color="#800080"/><stop offset="0.1085" stop-color="#800080"/><stop offset="0.1919" stop-color="#ffff80"/><stop offset="0.2870" stop-color="#80ff00"/><stop offset="0.3982" stop-color="#80ffa0"/><stop offset="0.4320" stop-color="#74e7a0"/><stop offset="0.4588" stop-color="#6fdda0"/><stop offset="0.5906" stop-color="#60bfa0"/><stop offset="0.6227" stop-color="#55aaa0"/><stop offset="0.6478" stop-color="#4488a0"/><stop offset="0.7069" stop-color="#3366a0"/><stop offset="0.7752" stop-color="#2b55a0"/><stop offset="0.8071" stop-color="#2448a0"/><stop offset="0.8362" stop-color="#2040a0"/><stop offset="0.8705" stop-color="#172fa0"/><stop offset="0.9109" stop-color="#0d19a0"/><stop offset="0.9540" stop-color="#060da0"/><stop offset="0.9959" stop-color="#0307a0"/></linearGradient><linearGradient id="g144" gradientUnits="userSpaceOnUse" x1="1366.0" x2="2102.0" y1="0" y2="0"><stop offset="0.0000" stop-color="#800080"/><stop offset="0.1107" stop-color="#800080"/><stop offset="0.1937" stop-color="#ffff80"/><stop offset="0.2884" stop-color="#80ff00"/><stop offset="0.3993" stop-color="#80ffa0"/><stop offset="0.4332" stop-color="#74e7a0"/><stop offset="0.4595" stop-color="#6fdda0"/><stop offset="0.5910" stop-color="#60bfa0"/><stop offset="0.6234" stop-color="#55aaa0"/><stop offset="0.6486" stop-color="#4488a0"/><stop offset="0.7076" stop-color="#3366a0"/><stop offset="0.7760" stop-color="#2b55a0"/><stop offset="0.8076" stop-color="#2448a0"/><stop offset="0.8365" stop-color="#2040a0"/><stop offset="0.8706" stop-color="#172fa0"/><stop offset="0.9110" stop-color="#0d19a0"/><stop offset="0.9541" stop-color="#060da0"/><stop offset="0.9959" stop-color="#0307a0"/></linearGradient><linearGradient id="g145" gradientUnits="userSpaceOnUse" x1="1366.0" x2="2102.0" y1="0" y2="0"><stop offset="0.0000" stop-color="#800080"/><stop offset="0.1127" stop-color="#800080"/><stop offset="0.1955" stop-color="#ffff80"/><stop offset="0.2898" stop-color="#80ff00"/><stop offset="0.4004" stop-color="#80ffa0"/><stop offset="0.4345" stop-color="#74e7a0"/><stop offset="0.4604" stop-color="#6fdda0"/><stop offset="0.5915" stop-color="#60bfa0"/><stop offset="0.6242" stop-color="#55aaa0"/><stop offset="0.6493" stop-color="#4488a0"/><stop offset="0.7084" stop-color="#3366a0"/><stop offset="0.7768" stop-color="#2b55a0"/><stop offset="0.8080" stop-color="#2448a0"/><stop offset="0.8369" stop-color="#2040a0"/><stop offset="0.8708" stop-color="#172fa0"/><stop offset="0.9111" stop-color="#0d19a0"/><stop offset="0.9541" stop-color="#060da0"/><stop offset="0.9959" stop-color="#0307a0"/></linearGradient><linearGradient id="g146" gradientUnits="userSpaceOnUse" x1="1366.0" x2="2102.0" y1="0" y2="0"><stop offset="0.0000" stop-color="#800080"/><stop offset="0.1146" stop-color="#800080"/><stop offset="0.1974" stop-color="#ffff80"/><stop offset="0.2913" stop-color="#80ff00"/><stop offset="0.4016" stop-color="#80ffa0"/><stop offset="0.4357" stop-color="#74e7a0"/><stop offset="0.4614" stop-color="#6fdda0"/><stop offset="0.5921" stop-color="#60bfa0"/><stop offset="0.6250" stop-color="#55aaa0"/><stop offset="0.6501" stop-color="#4488a0"/><stop offset="0.7092" stop-color="#3366a0"/><stop offset="0.7776" stop-color="#2b55a0"/><stop offset="0.8085" stop-color="#2448a0"/><stop offset="0.8372" stop-color="#2040a0"/><stop offset="0.8710" stop-color="#172fa0"/><stop offset="0.9112" stop-color="#0d19a0"/><stop offset="0.9542" stop-color="#060da0"/><stop offset="0.9959" stop-color="#0307a0"/></linearGradient><linearGradient id="g147" gradientUnits="userSpaceOnUse" x1="1366.0" x2="2102.0" y1="0" y2="0"><stop offset="0.0000" stop-color="#800080"/><stop offset="0.1163" stop-color="#800080"/><stop offset="0.1994" stop-color="#ffff80"/><stop offset="0.2929" stop-color="#80ff00"/><stop offset="0.4028" stop-color="#80ffa0"/><stop offset="0.4370" stop-color="#74e7a0"/><stop offset="0.4629" stop-color="#6fdda0"/><stop offset="0.5928" stop-color="#60bfa0"/><stop offset="0.6258" stop-color="#55aaa0"/><stop offset="0.6510" stop-color="#4488a0"/><stop offset="0.7100" stop-color="#3366a0"/><stop offset="0.7785" stop-color="#2b55a0"/><stop offset="0.8090" stop-color="#2448a0"/><stop offset="0.8376" stop-color="#2040a0"/><stop offset="0.8712" stop-color="#172fa0"/><stop offset="0.9113" stop-color="#0d19a0"/><stop offset="0.9542" stop-color="#060da0"/><stop offset="0.9959" stop-color="#0307a0"/></linearGradient><linearGradient id="g148" gradientUnits="userSpaceOnUse" x1="1366.0" x2="2102.0" y1="0" y2="0"><stop offset="0.0000" stop-color="#800080"/><stop offset="0.1179" stop-color="#800080"/><stop offset="0.2017" stop-color="#ffff80"/><stop offset="0.2947" stop-color="#80ff00"/><stop offset="0.4040" stop-color="#80ffa0"/><stop offset="0.4384" stop-color="#74e7a0"/><stop offset="0.4671" stop-color="#6fdda0"/><stop offset="0.5943" stop-color="#60bfa0"/><stop offset="0.6267" stop-color="#55aaa0"/><stop offset="0.6518" stop-color="#4488a0"/><stop offset="0.7109" stop-color="#3366a0"/><stop offset="0.7793" stop-color="#2b55a0"/><stop offset="0.8095" stop-color="#2448a0"/><stop offset="0.8380" stop-color="#2040a0"/><stop offset="0.8714" stop-color="#172fa0"/><stop offset="0.9114" stop-color="#0d19a0"/><stop offset="0.9543" stop-color="#060da0"/><stop offset="0.9959" stop-color="#0307a0"/></linearGradient><linearGradient id="g149" gradientUnits="userSpaceOnUse" x1="1366.0" x2="2102.0" y1="0" y2="0"><stop offset="0.0000" stop-color="#800080"/><stop offset="0.1193" stop-color="#800080"/><stop offset="0.2042" stop-color="#ffff80"/><stop offset="0.2965" stop-color="#80ff00"/><stop offset="0.4052" stop-color="#80ffa0"/><stop offset="0.4397" stop-color="#74e7a0"/><stop offset="0.4737" stop-color="#6fdda0"/><stop offset="0.5965" stop-color="#60bfa0"/><stop offset="0.6276" stop-color="#55aaa0"/><stop offset="0.6527" stop-color="#4488a0"/><stop offset="0.7117" stop-color="#3366a0"/><stop offset="0.7801" stop-color="#2b55a0"/><stop offset="0.8100" stop-color="#2448a0"/><stop offset="0.8385" stop-color="#2040a0"/><stop offset="0.8716" stop-color="#172fa0"/><stop offset="0.9116" stop-color="#0d19a0"/><stop offset="0.9543" stop-color="#060da0"/><stop offset="0.9959" stop-color="#0307a0"/></linearGradient><linearGradient id="g150" gradientUnits="userSpaceOnUse" x1="1366.0" x2="2102.0" y1="0" y2="0"><stop offset="0.0000" stop-color="#800080"/><stop offset="0.1207" stop-color="#800080"/><stop offset="0.2070" stop-color="#ffff80"/><stop offset="0.2986" stop-color="#80ff00"/><stop offset="0.4066" stop-color="#80ffa0"/><stop offset="0.4412" stop-color="#74e7a0"/><stop offset="0.4822" stop-color="#6fdda0"/><stop offset="0.5991" stop-color="#60bfa0"/><stop offset="0.6285" stop-color="#55aaa0"/><stop offset="0.6536" stop-color="#4488a0"/><stop offset="0.7126" stop-color="#3366a0"/><stop offset="0.7810" stop-color="#2b55a0"/><stop offset="0.8105" stop-color="#2448a0"/><stop offset="0.8389" stop-color="#2040a0"/><stop offset="0.8718" stop-color="#172fa0"/><stop offset="0.9117" stop-color="#0d19a0"/><stop offset="0.9544" stop-color="#060da0"/><stop offset="0.9959" stop-color="#0307a0"/></linearGradient><linearGradient id="g151" gradientUnits="userSpaceOnUse" x1="1366.0" x2="2102.0" y1="0" y2="0"><stop offset="0.0000" stop-color="#800080"/><stop offset="0.1220" stop-color="#800080"/><stop offset="0.2099" stop-color="#ffff80"/><stop offset="0.3008" stop-color="#80ff00"/><stop offset="0.4081" stop-color="#80ffa0"/><stop offset="0.4428" stop-color="#74e7a0"/><stop offset="0.4921" stop-color="#6fdda0"/><stop offset="0.6022" stop-color="#60bfa0"/><stop offset="0.6295" stop-color="#55aaa0"/><stop offset="0.6546" stop-color="#4488a0"/><stop offset="0.7135" stop-color="#3366a0"/><stop offset="0.7818" stop-color="#2b55a0"/><stop offset="0.8110" stop-color="#2448a0"/><stop offset="0.8394" stop-color="#2040a0"/><stop offset="0.8721" stop-color="#172fa0"/><stop offset="0.9119" stop-color="#0d19a0"/><stop offset="0.9545" stop-color="#060da0"/><stop offset="0.9959" stop-color="#0307a0"/></linearGradient><linearGradient id="g152" gradientUnits="userSpaceOnUse" x1="1366.0" x2="2102.0" y1="0" y2="0"><stop offset="0.0000" stop-color="#800080"/><stop offset="0.1233" stop-color="#800080"/><stop offset="0.2131" stop-color="#ffff80"/><stop offset="0.3032" stop-color="#80ff00"/><stop offset="0.4099" stop-color="#80ffa0"/><stop offset="0.4447" stop-color="#74e7a0"/><stop offset="0.5027" stop-color="#6fdda0"/><stop offset="0.6055" stop-color="#60bfa0"/><stop offset="0.6306" stop-color="#55aaa0"/><stop offset="0.6556" stop-color="#4488a0"/><stop offset="0.7144" stop-color="#3366a0"/><stop offset="0.7827" stop-color="#2b55a0"/><stop offset="0.8116" stop-color="#2448a0"/><stop offset="0.8398" stop-color="#2040a0"/><stop offset="0.8723" stop-color="#172fa0"/><stop offset="0.9120" stop-color="#0d19a0"/><stop offset="0.9545" stop-color="#060da0"/><stop offset="0.9959" stop-color="#0307a0"/></linearGradient><linearGradient id="g153" gradientUnits="userSpaceOnUse" x1="1366.0" x2="2102.0" y1="0" y2="0"><stop offset="0.0000" stop-color="#800080"/><stop offset="0.1247" stop-color="#800080"/><stop offset="0.2163" stop-color="#ffff80"/><stop offset="0.3057" stop-color="#80ff00"/><stop offset="0.4119" stop-color="#80ffa0"/><stop offset="0.4469" stop-color="#74e7a0"/><stop offset="0.5146" stop-color="#6fdda0"/><stop offset="0.6089" stop-color="#60bfa0"/><stop offset="0.6316" stop-color="#55aaa0"/><stop offset="0.6566" stop-color="#4488a0"/><stop offset="0.7153" stop-color="#3366a0"/><stop offset="0.7836" stop-color="#2b55a0"/><stop offset="0.8121" stop-color="#2448a0"/><stop offset="0.8403" stop-color="#2040a0"/><stop offset="0.8726" stop-color="#172fa0"/><stop offset="0.9122" stop-color="#0d19a0"/><stop offset="0.9546" stop-color="#060da0"/><stop offset="0.9959" stop-color="#0307a0"/></linearGradient><linearGradient id="g154" gradientUnits="userSpaceOnUse" x1="1366.0" x2="2102.0" y1="0" y2="0"><stop offset="0.0000" stop-color="#800080"/><stop offset="0.1261" stop-color="#800080"/><stop offset="0.2197" stop-color="#ffff80"/><stop offset="0.3084" stop-color="#80ff00"/><stop offset="0.4144" stop-color="#80ffa0"/><stop offset="0.4494" stop-color="#74e7a0"/><stop offset="0.5317" stop-color="#6fdda0"/><stop offset="0.6123" stop-color="#60bfa0"/><stop offset="0.6328" stop-color="#55aaa0"/><stop offset="0.6576" stop-color="#4488a0"/><stop offset="0.7163" stop-color="#3366a0"/><stop offset="0.7844" stop-color="#2b55a0"/><stop offset="0.8126" stop-color="#2448a0"/><stop offset="0.8408" stop-color="#2040a0"/><stop offset="0.8729" stop-color="#172fa0"/><stop offset="0.9124" stop-color="#0d19a0"/><stop offset="0.9547" stop-color="#060da0"/><stop offset="0.9959" stop-color="#0307a0"/></linearGradient><linearGradient id="g155" gradientUnits="userSpaceOnUse" x1="1366.0" x2="2102.0" y1="0" y2="0"><stop offset="0.0000" stop-color="#800080"/><stop offset="0.1277" stop-color="#800080"/><stop offset="0.2232" stop-color="#ffff80"/><stop offset="0.3112" stop-color="#80ff00"/><stop offset="0.4174" stop-color="#80ffa0"/><stop offset="0.4526" stop-color="#74e7a0"/><stop offset="0.5513" stop-color="#6fdda0"/><stop offset="0.6155" stop-color="#60bfa0"/><stop offset="0.6340" stop-color="#55aaa0"/><stop offset="0.6587" stop-color="#4488a0"/><stop offset="0.7172" stop-color="#3366a0"/><stop offset="0.7853" stop-color="#2b55a0"/><stop offset="0.8131" stop-color="#2448a0"/><stop offset="0.8414" stop-color="#2040a0"/><stop offset="0.8732" stop-color="#172fa0"/><stop offset="0.9126" stop-color="#0d19a0"/><stop offset="0.9548" stop-color="#060da0"/><stop offset="0.9959" stop-color="#0307a0"/></linearGradient><linearGradient id="g156" gradientUnits="userSpaceOnUse" x1="1366.0" x2="2102.0" y1="0" y2="0"><stop offset="0.0000" stop-color="#800080"/><stop offset="0.1295" stop-color="#800080"/><stop offset="0.2267" stop-color="#ffff80"/><stop offset="0.3142" stop-color="#80ff00"/><stop offset="0.4222" stop-color="#80ffa0"/><stop offset="0.4575" stop-color="#74e7a0"/><stop offset="0.5691" stop-color="#6fdda0"/><stop offset="0.6183" stop-color="#60bfa0"/><stop offset="0.6352" stop-color="#55aaa0"/><stop offset="0.6598" stop-color="#4488a0"/><stop offset="0.7182" stop-color="#3366a0"/><stop offset="0.7862" stop-color="#2b55a0"/><stop offset="0.8136" stop-color="#2448a0"/><stop offset="0.8419" stop-color="#2040a0"/><stop offset="0.8735" stop-color="#172fa0"/><stop offset="0.9128" stop-color="#0d19a0"/><stop offset="0.9548" stop-color="#060da0"/><stop offset="0.9959" stop-color="#0307a0"/></linearGradient><linearGradient id="g157" gradientUnits="userSpaceOnUse" x1="1366.0" x2="2102.0" y1="0" y2="0"><stop offset="0.0000" stop-color="#800080"/><stop offset="0.1314" stop-color="#800080"/><stop offset="0.2304" stop-color="#ffff80"/><stop offset="0.3174" stop-color="#80ff00"/><stop offset="0.4291" stop-color="#80ffa0"/><stop offset="0.5820" stop-color="#6fdda0"/><stop offset="0.6207" stop-color="#60bfa0"/><stop offset="0.6366" stop-color="#55aaa0"/><stop offset="0.6609" stop-color="#4488a0"/><stop offset="0.7193" stop-color="#3366a0"/><stop offset="0.7871" stop-color="#2b55a0"/><stop offset="0.8141" stop-color="#2448a0"/><stop offset="0.8424" stop-color="#2040a0"/><stop offset="0.8738" stop-color="#172fa0"/><stop offset="0.9130" stop-color="#0d19a0"/><stop offset="0.9549" stop-color="#060da0"/><stop offset="0.9959" stop-color="#0307a0"/></linearGradient><linearGradient id="g158" gradientUnits="userSpaceOnUse" x1="1366.0" x2="2102.0" y1="0" y2="0"><stop offset="0.0000" stop-color="#800080"/><stop offset="0.1336" stop-color="#800080"/><stop offset="0.2343" stop-color="#ffff80"/><stop offset="0.3210" stop-color="#80ff00"/><stop offset="0.4393" stop-color="#80ffa0"/><stop offset="0.5928" stop-color="#6fdda0"/><stop offset="0.6229" stop-color="#60bfa0"/><stop offset="0.6381" stop-color="#55aaa0"/><stop offset="0.6622" stop-color="#4488a0"/><stop offset="0.7203" stop-color="#3366a0"/><stop offset="0.7881" stop-color="#2b55a0"/><stop offset="0.8146" stop-color="#2448a0"/><stop offset="0.8430" stop-color="#2040a0"/><stop offset="0.8741" stop-color="#172fa0"/><stop offset="0.9132" stop-color="#0d19a0"/><stop offset="0.9550" stop-color="#060da0"/><stop offset="0.9959" stop-color="#0307a0"/></linearGradient><linearGradient id="g159" gradientUnits="userSpaceOnUse" x1="1366.0" x2="2102.0" y1="0" y2="0"><stop offset="0.0000" stop-color="#800080"/><stop offset="0.1360" stop-color="#800080"/><stop offset="0.2385" stop-color="#ffff80"/><stop offset="0.3251" stop-color="#80ff00"/><stop offset="0.4578" stop-color="#80ffa0"/><stop offset="0.6023" stop-color="#6fdda0"/><stop offset="0.6250" stop-color="#60bfa0"/><stop offset="0.6399" stop-color="#55aaa0"/><stop offset="0.6637" stop-color="#4488a0"/><stop offset="0.7214" stop-color="#3366a0"/><stop offset="0.7890" stop-color="#2b55a0"/><stop offset="0.8152" stop-color="#2448a0"/><stop offset="0.8435" stop-color="#2040a0"/><stop offset="0.8744" stop-color="#172fa0"/><stop offset="0.9134" stop-color="#0d19a0"/><stop offset="0.9551" stop-color="#060da0"/><stop offset="0.9959" stop-color="#0307a0"/></linearGradient><linearGradient id="g160" gradientUnits="userSpaceOnUse" x1="1366.0" x2="2102.0" y1="0" y2="0"><stop offset="0.0000" stop-color="#800080"/><stop offset="0.1387" stop-color="#800080"/><stop offset="0.2431" stop-color="#ffff80"/><stop offset="0.3299" stop-color="#80ff00"/><stop offset="0.4877" stop-color="#80ffa0"/><stop offset="0.6105" stop-color="#6fdda0"/><stop offset="0.6271" stop-color="#60bfa0"/><stop offset="0.6419" stop-color="#55aaa0"/><stop offset="0.6653" stop-color="#4488a0"/><stop offset="0.7226" stop-color="#3366a0"/><stop offset="0.7899" stop-color="#2b55a0"/><stop offset="0.8157" stop-color="#2448a0"/><stop offset="0.8441" stop-color="#2040a0"/><stop offset="0.8748" stop-color="#172fa0"/><stop offset="0.9136" stop-color="#0d19a0"/><stop offset="0.9552" stop-color="#060da0"/><stop offset="0.9959" stop-color="#0307a0"/></linearGradient><linearGradient id="g161" gradientUnits="userSpaceOnUse" x1="1366.0" x2="2102.0" y1="0" y2="0"><stop offset="0.0000" stop-color="#800080"/><stop offset="0.1416" stop-color="#800080"/><stop offset="0.2481" stop-color="#ffff80"/><stop offset="0.3356" stop-color="#80ff00"/><stop offset="0.5353" stop-color="#80ffa0"/><stop offset="0.6175" stop-color="#6fdda0"/><stop offset="0.6293" stop-color="#60bfa0"/><stop offset="0.6441" stop-color="#55aaa0"/><stop offset="0.6671" stop-color="#4488a0"/><stop offset="0.7238" stop-color="#3366a0"/><stop offset="0.7909" stop-color="#2b55a0"/><stop offset="0.8163" stop-color="#2448a0"/><stop offset="0.8446" stop-color="#2040a0"/><stop offset="0.8751" stop-color="#172fa0"/><stop offset="0.9139" stop-color="#0d19a0"/><stop offset="0.9553" stop-color="#060da0"/><stop offset="0.9959" stop-color="#0307a0"/></linearGradient><linearGradient id="g162" gradientUnits="userSpaceOnUse" x1="1366.0" x2="2102.0" y1="0" y2="0"><stop offset="0.0000" stop-color="#800080"/><stop offset="0.1449" stop-color="#800080"/><stop offset="0.2537" stop-color="#ffff80"/><stop offset="0.3428" stop-color="#80ff00"/><stop offset="0.5920" stop-color="#80ffa0"/><stop offset="0.6239" stop-color="#6fdda0"/><stop offset="0.6317" stop-color="#60bfa0"/><stop offset="0.6464" stop-color="#55aaa0"/><stop offset="0.6689" stop-color="#4488a0"/><stop offset="0.7250" stop-color="#3366a0"/><stop offset="0.7919" stop-color="#2b55a0"/><stop offset="0.8169" stop-color="#2448a0"/><stop offset="0.8452" stop-color="#2040a0"/><stop offset="0.8755" stop-color="#172fa0"/><stop offset="0.9141" stop-color="#0d19a0"/><stop offset="0.9554" stop-color="#060da0"/><stop offset="0.9959" stop-color="#0307a0"/></linearGradient><linearGradient id="g163" gradientUnits="userSpaceOnUse" x1="1366.0" x2="2102.0" y1="0" y2="0"><stop offset="0.0000" stop-color="#800080"/><stop offset="0.1487" stop-color="#800080"/><stop offset="0.2600" stop-color="#ffff80"/><stop offset="0.3524" stop-color="#80ff00"/><stop offset="0.6182" stop-color="#80ffa0"/><stop offset="0.6294" stop-color="#6fdda0"/><stop offset="0.6342" stop-color="#60bfa0"/><stop offset="0.6488" stop-color="#55aaa0"/><stop offset="0.6709" stop-color="#4488a0"/><stop offset="0.7263" stop-color="#3366a0"/><stop offset="0.7929" stop-color="#2b55a0"/><stop offset="0.8175" stop-color="#2448a0"/><stop offset="0.8458" stop-color="#2040a0"/><stop offset="0.8759" stop-color="#172fa0"/><stop offset="0.9144" stop-color="#0d19a0"/><stop offset="0.9555" stop-color="#060da0"/><stop offset="0.9959" stop-color="#0307a0"/></linearGradient><linearGradient id="g164" gradientUnits="userSpaceOnUse" x1="1366.0" x2="2102.0" y1="0" y2="0"><stop offset="0.0000" stop-color="#800080"/><stop offset="0.1532" stop-color="#800080"/><stop offset="0.2672" stop-color="#ffff80"/><stop offset="0.3646" stop-color="#80ff00"/><stop offset="0.6289" stop-color="#80ffa0"/><stop offset="0.6340" stop-color="#6fdda0"/><stop offset="0.6369" stop-color="#60bfa0"/><stop offset="0.6513" stop-color="#55aaa0"/><stop offset="0.6729" stop-color="#4488a0"/><stop offset="0.7275" stop-color="#3366a0"/><stop offset="0.7938" stop-color="#2b55a0"/><stop offset="0.8182" stop-color="#2448a0"/><stop offset="0.8464" stop-color="#2040a0"/><stop offset="0.8763" stop-color="#172fa0"/><stop offset="0.9146" stop-color="#0d19a0"/><stop offset="0.9557" stop-color="#060da0"/><stop offset="0.9959" stop-color="#0307a0"/></linearGradient><linearGradient id="g165" gradientUnits="userSpaceOnUse" x1="1366.0" x2="2102.0" y1="0" y2="0"><stop offset="0.0000" stop-color="#800080"/><stop offset="0.1585" stop-color="#800080"/><stop offset="0.2759" stop-color="#ffff80"/><stop offset="0.3798" stop-color="#80ff00"/><stop offset="0.6304" stop-color="#80ffa0"/><stop offset="0.6359" stop-color="#6fdda0"/><stop offset="0.6397" stop-color="#60bfa0"/><stop offset="0.6538" stop-color="#55aaa0"/><stop offset="0.6749" stop-color="#4488a0"/><stop offset="0.7289" stop-color="#3366a0"/><stop offset="0.7949" stop-color="#2b55a0"/><stop offset="0.8188" stop-color="#2448a0"/><stop offset="0.8469" stop-color="#2040a0"/><stop offset="0.8766" stop-color="#172fa0"/><stop offset="0.9149" stop-color="#0d19a0"/><stop offset="0.9558" stop-color="#060da0"/><stop offset="0.9959" stop-color="#0307a0"/></linearGradient><linearGradient id="g166" gradientUnits="userSpaceOnUse" x1="1366.0" x2="2102.0" y1="0" y2="0"><stop offset="0.0000" stop-color="#800080"/><stop offset="0.1649" stop-color="#800080"/><stop offset="0.2867" stop-color="#ffff80"/><stop offset="0.3975" stop-color="#80ff00"/><stop offset="0.6304" stop-color="#80ffa0"/><stop offset="0.6359" stop-color="#6fdda0"/><stop offset="0.6425" stop-color="#60bfa0"/><stop offset="0.6563" stop-color="#55aaa0"/><stop offset="0.6770" stop-color="#4488a0"/><stop offset="0.7302" stop-color="#3366a0"/><stop offset="0.7959" stop-color="#2b55a0"/><stop offset="0.8195" stop-color="#2448a0"/><stop offset="0.8475" stop-color="#2040a0"/><stop offset="0.8771" stop-color="#172fa0"/><stop offset="0.9152" stop-color="#0d19a0"/><stop offset="0.9559" stop-color="#060da0"/><stop offset="0.9959" stop-color="#0307a0"/></linearGradient><linearGradient id="g167" gradientUnits="userSpaceOnUse" x1="1366.0" x2="2102.0" y1="0" y2="0"><stop offset="0.0000" stop-color="#800080"/><stop offset="0.1723" stop-color="#800080"/><stop offset="0.3003" stop-color="#ffff80"/><stop offset="0.4259" stop-color="#80ff00"/><stop offset="0.6304" stop-color="#80ffa0"/><stop offset="0.6359" stop-color="#6fdda0"/><stop offset="0.6440" stop-color="#60bfa0"/><stop offset="0.6576" stop-color="#55aaa0"/><stop offset="0.6780" stop-color="#4488a0"/><stop offset="0.7316" stop-color="#3366a0"/><stop offset="0.7969" stop-color="#2b55a0"/><stop offset="0.8202" stop-color="#2448a0"/><stop offset="0.8481" stop-color="#2040a0"/><stop offset="0.8775" stop-color="#172fa0"/><stop offset="0.9154" stop-color="#0d19a0"/><stop offset="0.9560" stop-color="#060da0"/><stop offset="0.9959" stop-color="#0307a0"/></linearGradient><linearGradient id="g168" gradientUnits="userSpaceOnUse" x1="1366.0" x2="2102.0" y1="0" y2="0"><stop offset="0.0000" stop-color="#800080"/><stop offset="0.1817" stop-color="#800080"/><stop offset="0.3172" stop-color="#ffff80"/><stop offset="0.5897" stop-color="#80ff00"/><stop offset="0.6304" stop-color="#80ffa0"/><stop offset="0.6359" stop-color="#6fdda0"/><stop offset="0.6440" stop-color="#60bfa0"/><stop offset="0.6576" stop-color="#55aaa0"/><stop offset="0.6780" stop-color="#4488a0"/><stop offset="0.7330" stop-color="#3366a0"/><stop offset="0.7979" stop-color="#2b55a0"/><stop offset="0.8209" stop-color="#2448a0"/><stop offset="0.8488" stop-color="#2040a0"/><stop offset="0.8779" stop-color="#172fa0"/><stop offset="0.9157" stop-color="#0d19a0"/><stop offset="0.9562" stop-color="#060da0"/><stop offset="0.9959" stop-color="#0307a0"/></linearGradient><linearGradient id="g169" gradientUnits="userSpaceOnUse" x1="1366.0" x2="2102.0" y1="0" y2="0"><stop offset="0.0000" stop-color="#800080"/><stop offset="0.1957" stop-color="#800080"/><stop offset="0.3475" stop-color="#ffff80"/><stop offset="0.5897" stop-color="#80ff00"/><stop offset="0.6304" stop-color="#80ffa0"/><stop offset="0.6359" stop-color="#6fdda0"/><stop offset="0.6440" stop-color="#60bfa0"/><stop offset="0.6576" stop-color="#55aaa0"/><stop offset="0.6780" stop-color="#4488a0"/><stop offset="0.7344" stop-color="#3366a0"/><stop offset="0.7990" stop-color="#2b55a0"/><stop offset="0.8216" stop-color="#2448a0"/><stop offset="0.8495" stop-color="#2040a0"/><stop offset="0.8783" stop-color="#172fa0"/><stop offset="0.9160" stop-color="#0d19a0"/><stop offset="0.9563" stop-color="#060da0"/><stop offset="0.9959" stop-color="#0307a0"/></linearGradient><linearGradient id="g170" gradientUnits="userSpaceOnUse" x1="1366.0" x2="2102.0" y1="0" y2="0"><stop offset="0.0000" stop-color="#800080"/><stop offset="0.2183" stop-color="#800080"/><stop offset="0.4538" stop-color="#ffff80"/><stop offset="0.5897" stop-color="#80ff00"/><stop offset="0.6304" stop-color="#80ffa0"/><stop offset="0.6359" stop-color="#6fdda0"/><stop offset="0.6440" stop-color="#60bfa0"/><stop offset="0.6576" stop-color="#55aaa0"/><stop offset="0.6780" stop-color="#4488a0"/><stop offset="0.7359" stop-color="#3366a0"/><stop offset="0.8000" stop-color="#2b55a0"/><stop offset="0.8224" stop-color="#2448a0"/><stop offset="0.8502" stop-color="#2040a0"/><stop offset="0.8787" stop-color="#172fa0"/><stop offset="0.9163" stop-color="#0d19a0"/><stop offset="0.9564" stop-color="#060da0"/><stop offset="0.9959" stop-color="#0307a0"/></linearGradient><linearGradient id="g171" gradientUnits="userSpaceOnUse" x1="1366.0" x2="2102.0" y1="0" y2="0"><stop offset="0.0000" stop-color="#800080"/><stop offset="0.3066" stop-color="#800080"/><stop offset="0.4538" stop-color="#ffff80"/><stop offset="0.5897" stop-color="#80ff00"/><stop offset="0.6304" stop-color="#80ffa0"/><stop offset="0.6359" stop-color="#6fdda0"/><stop offset="0.6440" stop-color="#60bfa0"/><stop offset="0.6576" stop-color="#55aaa0"/><stop offset="0.6780" stop-color="#4488a0"/><stop offset="0.7374" stop-color="#3366a0"/><stop offset="0.8011" stop-color="#2b55a0"/><stop offset="0.8231" stop-color="#2448a0"/><stop offset="0.8511" stop-color="#2040a0"/><stop offset="0.8792" stop-color="#172fa0"/><stop offset="0.9166" stop-color="#0d19a0"/><stop offset="0.9566" stop-color="#060da0"/><stop offset="0.9959" stop-color="#0307a0"/></linearGradient><linearGradient id="g172" gradientUnits="userSpaceOnUse" x1="1366.0" x2="2102.0" y1="0" y2="0"><stop offset="0.0000" stop-color="#800080"/><stop offset="0.3859" stop-color="#800080"/><stop offset="0.4538" stop-color="#ffff80"/><stop offset="0.5897" stop-color="#80ff00"/><stop offset="0.6304" stop-color="#80ffa0"/><stop offset="0.6359" stop-color="#6fdda0"/><stop offset="0.6440" stop-color="#60bfa0"/><stop offset="0.6576" stop-color="#55aaa0"/><stop offset="0.6780" stop-color="#4488a0"/><stop offset="0.7389" stop-color="#3366a0"/><stop offset="0.8021" stop-color="#2b55a0"/><stop offset="0.8239" stop-color="#2448a0"/><stop offset="0.8519" stop-color="#2040a0"/><stop offset="0.8796" stop-color="#172fa0"/><stop offset="0.9170" stop-color="#0d19a0"/><stop offset="0.9567" stop-color="#060da0"/><stop offset="0.9959" stop-color="#0307a0"/></linearGradient><linearGradient id="g173" gradientUnits="userSpaceOnUse" x1="1366.0" x2="2102.0" y1="0" y2="0"><stop offset="0.0000" stop-color="#800080"/><stop offset="0.3859" stop-color="#800080"/><stop offset="0.4538" stop-color="#ffff80"/><stop offset="0.5897" stop-color="#80ff00"/><stop offset="0.6304" stop-color="#80ffa0"/><stop offset="0.6359" stop-color="#6fdda0"/><stop offset="0.6440" stop-color="#60bfa0"/><stop offset="0.6576" stop-color="#55aaa0"/><stop offset="0.6780" stop-color="#4488a0"/><stop offset="0.7404" stop-color="#3366a0"/><stop offset="0.8032" stop-color="#2b55a0"/><stop offset="0.8247" stop-color="#2448a0"/><stop offset="0.8528" stop-color="#2040a0"/><stop offset="0.8801" stop-color="#172fa0"/><stop offset="0.9173" stop-color="#0d19a0"/><stop offset="0.9569" stop-color="#060da0"/><stop offset="0.9959" stop-color="#0307a0"/></linearGradient><linearGradient id="g174" gradientUnits="userSpaceOnUse" x1="1366.0" x2="2102.0" y1="0" y2="0"><stop offset="0.0000" stop-color="#800080"/><stop offset="0.3859" stop-color="#800080"/><stop offset="0.4538" stop-color="#ffff80"/><stop offset="0.5897" stop-color="#80ff00"/><stop offset="0.6304" stop-color="#80ffa0"/><stop offset="0.6359" stop-color="#6fdda0"/><stop offset="0.6440" stop-color="#60bfa0"/><stop offset="0.6576" stop-color="#55aaa0"/><stop offset="0.6780" stop-color="#4488a0"/><stop offset="0.7420" stop-color="#3366a0"/><stop offset="0.8043" stop-color="#2b55a0"/><stop offset="0.8254" stop-color="#2448a0"/><stop offset="0.8538" stop-color="#2040a0"/><stop offset="0.8806" stop-color="#172fa0"/><stop offset="0.9176" stop-color="#0d19a0"/><stop offset="0.9570" stop-color="#060da0"/><stop offset="0.9959" stop-color="#0307a0"/></linearGradient><linearGradient id="g175" gradientUnits="userSpaceOnUse" x1="1366.0" x2="2102.0" y1="0" y2="0"><stop offset="0.0000" stop-color="#800080"/><stop offset="0.3859" stop-color="#800080"/><stop offset="0.4538" stop-color="#ffff80"/><stop offset="0.5897" stop-color="#80ff00"/><stop offset="0.6304" stop-color="#80ffa0"/><stop offset="0.6359" stop-color="#6fdda0"/><stop offset="0.6440" stop-color="#60bfa0"/><stop offset="0.6576" stop-color="#55aaa0"/><stop offset="0.6780" stop-color="#4488a0"/><stop offset="0.7435" stop-color="#3366a0"/><stop offset="0.8054" stop-color="#2b55a0"/><stop offset="0.8262" stop-color="#2448a0"/><stop offset="0.8548" stop-color="#2040a0"/><stop offset="0.8811" stop-color="#172fa0"/><stop offset="0.9180" stop-color="#0d19a0"/><stop offset="0.9572" stop-color="#060da0"/><stop offset="0.9959" stop-color="#0307a0"/></linearGradient><linearGradient id="g176" gradientUnits="userSpaceOnUse" x1="1366.0" x2="2102.0" y1="0" y2="0"><stop offset="0.0000" stop-color="#800080"/><stop offset="0.3859" stop-color="#800080"/><stop offset="0.4538" stop-color="#ffff80"/><stop offset="0.5897" stop-color="#80ff00"/><stop offset="0.6304" stop-color="#80ffa0"/><stop offset="0.6359" stop-color="#6fdda0"/><stop offset="0.6440" stop-color="#60bfa0"/><stop offset="0.6576" stop-color="#55aaa0"/><stop offset="0.6780" stop-color="#4488a0"/><stop offset="0.7451" stop-color="#3366a0"/><stop offset="0.8065" stop-color="#2b55a0"/><stop offset="0.8270" stop-color="#2448a0"/><stop offset="0.8558" stop-color="#2040a0"/><stop offset="0.8815" stop-color="#172fa0"/><stop offset="0.9183" stop-color="#0d19a0"/><stop offset="0.9573" stop-color="#060da0"/><stop offset="0.9959" stop-color="#0307a0"/></linearGradient><linearGradient id="g177" gradientUnits="userSpaceOnUse" x1="1366.0" x2="2102.0" y1="0" y2="0"><stop offset="0.0000" stop-color="#800080"/><stop offset="0.3859" stop-color="#800080"/><stop offset="0.4538" stop-color="#ffff80"/><stop offset="0.5897" stop-color="#80ff00"/><stop offset="0.6304" stop-color="#80ffa0"/><stop offset="0.6359" stop-color="#6fdda0"/><stop offset="0.6440" stop-color="#60bfa0"/><stop offset="0.6576" stop-color="#55aaa0"/><stop offset="0.6780" stop-color="#4488a0"/><stop offset="0.7459" stop-color="#3366a0"/><stop offset="0.8071" stop-color="#2b55a0"/><stop offset="0.8274" stop-color="#2448a0"/><stop offset="0.8569" stop-color="#2040a0"/><stop offset="0.8821" stop-color="#172fa0"/><stop offset="0.9187" stop-color="#0d19a0"/><stop offset="0.9575" stop-color="#060da0"/><stop offset="0.9959" stop-color="#0307a0"/></linearGradient><linearGradient id="g178" gradientUnits="userSpaceOnUse" x1="1366.0" x2="2102.0" y1="0" y2="0"><stop offset="0.0000" stop-color="#800080"/><stop offset="0.3859" stop-color="#800080"/><stop offset="0.4538" stop-color="#ffff80"/><stop offset="0.5897" stop-color="#80ff00"/><stop offset="0.6304" stop-color="#80ffa0"/><stop offset="0.6359" stop-color="#6fdda0"/><stop offset="0.6440" stop-color="#60bfa0"/><stop offset="0.6576" stop-color="#55aaa0"/><stop offset="0.6780" stop-color="#4488a0"/><stop offset="0.7459" stop-color="#3366a0"/><stop offset="0.8071" stop-color="#2b55a0"/><stop offset="0.8274" stop-color="#2448a0"/><stop offset="0.8580" stop-color="#2040a0"/><stop offset="0.8827" stop-color="#172fa0"/><stop offset="0.9191" stop-color="#0d19a0"/><stop offset="0.9577" stop-color="#060da0"/><stop offset="0.9959" stop-color="#0307a0"/></linearGradient><linearGradient id="g179" gradientUnits="userSpaceOnUse" x1="1366.0" x2="2102.0" y1="0" y2="0"><stop offset="0.0000" stop-color="#800080"/><stop offset="0.3859" stop-color="#800080"/><stop offset="0.4538" stop-color="#ffff80"/><stop offset="0.5897" stop-color="#80ff00"/><stop offset="0.6304" stop-color="#80ffa0"/><stop offset="0.6359" stop-color="#6fdda0"/><stop offset="0.6440" stop-color="#60bfa0"/><stop offset="0.6576" stop-color="#55aaa0"/><stop offset="0.6780" stop-color="#4488a0"/><stop offset="0.7459" stop-color="#3366a0"/><stop offset="0.8071" stop-color="#2b55a0"/><stop offset="0.8274" stop-color="#2448a0"/><stop offset="0.8591" stop-color="#2040a0"/><stop offset="0.8834" stop-color="#172fa0"/><stop offset="0.9195" stop-color="#0d19a0"/><stop offset="0.9578" stop-color="#060da0"/><stop offset="0.9959" stop-color="#0307a0"/></linearGradient><linearGradient id="g180" gradientUnits="userSpaceOnUse" x1="1366.0" x2="2102.0" y1="0" y2="0"><stop offset="0.0000" stop-color="#800080"/><stop offset="0.3859" stop-color="#800080"/><stop offset="0.4538" stop-color="#ffff80"/><stop offset="0.5897" stop-color="#80ff00"/><stop offset="0.6304" stop-color="#80ffa0"/><stop offset="0.6359" stop-color="#6fdda0"/><stop offset="0.6440" stop-color="#60bfa0"/><stop offset="0.6576" stop-color="#55aaa0"/><stop offset="0.6780" stop-color="#4488a0"/><stop offset="0.7459" stop-color="#3366a0"/><stop offset="0.8071" stop-color="#2b55a0"/><stop offset="0.8274" stop-color="#2448a0"/><stop offset="0.8603" stop-color="#2040a0"/><stop offset="0.8843" stop-color="#172fa0"/><stop offset="0.9198" stop-color="#0d19a0"/><stop offset="0.9580" stop-color="#060da0"/><stop offset="0.9959" stop-color="#0307a0"/></linearGradient><linearGradient id="g181" gradientUnits="userSpaceOnUse" x1="1366.0" x2="2102.0" y1="0" y2="0"><stop offset="0.0000" stop-color="#800080"/><stop offset="0.3859" stop-color="#800080"/><stop offset="0.4538" stop-color="#ffff80"/><stop offset="0.5897" stop-color="#80ff00"/><stop offset="0.6304" stop-color="#80ffa0"/><stop offset="0.6359" stop-color="#6fdda0"/><stop offset="0.6440" stop-color="#60bfa0"/><stop offset="0.6576" stop-color="#55aaa0"/><stop offset="0.6780" stop-color="#4488a0"/><stop offset="0.7459" stop-color="#3366a0"/><stop offset="0.8071" stop-color="#2b55a0"/><stop offset="0.8274" stop-color="#2448a0"/><stop offset="0.8615" stop-color="#2040a0"/><stop offset="0.8853" stop-color="#172fa0"/><stop offset="0.9202" stop-color="#0d19a0"/><stop offset="0.9582" stop-color="#060da0"/><stop offset="0.9959" stop-color="#0307a0"/></linearGradient><linearGradient id="g182" gradientUnits="userSpaceOnUse" x1="1366.0" x2="2102.0" y1="0" y2="0"><stop offset="0.0000" stop-color="#800080"/><stop offset="0.3859" stop-color="#800080"/><stop offset="0.4538" stop-color="#ffff80"/><stop offset="0.5897" stop-color="#80ff00"/><stop offset="0.6304" stop-color="#80ffa0"/><stop offset="0.6359" stop-color="#6fdda0"/><stop offset="0.6440" stop-color="#60bfa0"/><stop offset="0.6576" stop-color="#55aaa0"/><stop offset="0.6780" stop-color="#4488a0"/><stop offset="0.7459" stop-color="#3366a0"/><stop offset="0.8071" stop-color="#2b55a0"/><stop offset="0.8274" stop-color="#2448a0"/><stop offset="0.8627" stop-color="#2040a0"/><stop offset="0.8864" stop-color="#172fa0"/><stop offset="0.9206" stop-color="#0d19a0"/><stop offset="0.9584" stop-color="#060da0"/><stop offset="0.9959" stop-color="#0307a0"/></linearGradient><linearGradient id="g183" gradientUnits="userSpaceOnUse" x1="1366.0" x2="2102.0" y1="0" y2="0"><stop offset="0.0000" stop-color="#800080"/><stop offset="0.3859" stop-color="#800080"/><stop offset="0.4538" stop-color="#ffff80"/><stop offset="0.5897" stop-color="#80ff00"/><stop offset="0.6304" stop-color="#80ffa0"/><stop offset="0.6359" stop-color="#6fdda0"/><stop offset="0.6440" stop-color="#60bfa0"/><stop offset="0.6576" stop-color="#55aaa0"/><stop offset="0.6780" stop-color="#4488a0"/><stop offset="0.7459" stop-color="#3366a0"/><stop offset="0.8071" stop-color="#2b55a0"/><stop offset="0.8274" stop-color="#2448a0"/><stop offset="0.8639" stop-color="#2040a0"/><stop offset="0.8876" stop-color="#172fa0"/><stop offset="0.9211" stop-color="#0d19a0"/><stop offset="0.9586" stop-color="#060da0"/><stop offset="0.9959" stop-color="#0307a0"/></linearGradient><linearGradient id="g184" gradientUnits="userSpaceOnUse" x1="1366.0" x2="2102.0" y1="0" y2="0"><stop offset="0.0000" stop-color="#800080"/><stop offset="0.3859" stop-color="#800080"/><stop offset="0.4538" stop-color="#ffff80"/><stop offset="0.5897" stop-color="#80ff00"/><stop offset="0.6304" stop-color="#80ffa0"/><stop offset="0.6359" stop-color="#6fdda0"/><stop offset="0.6440" stop-color="#60bfa0"/><stop offset="0.6576" stop-color="#55aaa0"/><stop offset="0.6780" stop-color="#4488a0"/><stop offset="0.7459" stop-color="#3366a0"/><stop offset="0.8071" stop-color="#2b55a0"/><stop offset="0.8274" stop-color="#2448a0"/><stop offset="0.8651" stop-color="#2040a0"/><stop offset="0.8889" stop-color="#172fa0"/><stop offset="0.9215" stop-color="#0d19a0"/><stop offset="0.9587" stop-color="#060da0"/><stop offset="0.9959" stop-color="#0307a0"/></linearGradient><linearGradient id="g185" gradientUnits="userSpaceOnUse" x1="1366.0" x2="2102.0" y1="0" y2="0"><stop offset="0.0000" stop-color="#800080"/><stop offset="0.3859" stop-color="#800080"/><stop offset="0.4538" stop-color="#ffff80"/><stop offset="0.5897" stop-color="#80ff00"/><stop offset="0.6304" stop-color="#80ffa0"/><stop offset="0.6359" stop-color="#6fdda0"/><stop offset="0.6440" stop-color="#60bfa0"/><stop offset="0.6576" stop-color="#55aaa0"/><stop offset="0.6780" stop-color="#4488a0"/><stop offset="0.7459" stop-color="#3366a0"/><stop offset="0.8071" stop-color="#2b55a0"/><stop offset="0.8274" stop-color="#2448a0"/><stop offset="0.8663" stop-color="#2040a0"/><stop offset="0.8902" stop-color="#172fa0"/><stop offset="0.9219" stop-color="#0d19a0"/><stop offset="0.9589" stop-color="#060da0"/><stop offset="0.9959" stop-color="#0307a0"/></linearGradient><linearGradient id="g186" gradientUnits="userSpaceOnUse" x1="1366.0" x2="2102.0" y1="0" y2="0"><stop offset="0.0000" stop-color="#800080"/><stop offset="0.3859" stop-color="#800080"/><stop offset="0.4538" stop-color="#ffff80"/><stop offset="0.5897" stop-color="#80ff00"/><stop offset="0.6304" stop-color="#80ffa0"/><stop offset="0.6359" stop-color="#6fdda0"/><stop offset="0.6440" stop-color="#60bfa0"/><stop offset="0.6576" stop-color="#55aaa0"/><stop offset="0.6780" stop-color="#4488a0"/><stop offset="0.7459" stop-color="#3366a0"/><stop offset="0.8071" stop-color="#2b55a0"/><stop offset="0.8274" stop-color="#2448a0"/><stop offset="0.8676" stop-color="#2040a0"/><stop offset="0.8916" stop-color="#172fa0"/><stop offset="0.9223" stop-color="#0d19a0"/><stop offset="0.9591" stop-color="#060da0"/><stop offset="0.9959" stop-color="#0307a0"/></linearGradient><linearGradient id="g187" gradientUnits="userSpaceOnUse" x1="1366.0" x2="2102.0" y1="0" y2="0"><stop offset="0.0000" stop-color="#800080"/><stop offset="0.3859" stop-color="#800080"/><stop offset="0.4538" stop-color="#ffff80"/><stop offset="0.5897" stop-color="#80ff00"/><stop offset="0.6304" stop-color="#80ffa0"/><stop offset="0.6359" stop-color="#6fdda0"/><stop offset="0.6440" stop-color="#60bfa0"/><stop offset="0.6576" stop-color="#55aaa0"/><stop offset="0.6780" stop-color="#4488a0"/><stop offset="0.7459" stop-color="#3366a0"/><stop offset="0.8071" stop-color="#2b55a0"/><stop offset="0.8274" stop-color="#2448a0"/><stop offset="0.8682" stop-color="#2040a0"/><stop offset="0.8931" stop-color="#172fa0"/><stop offset="0.9228" stop-color="#0d19a0"/><stop offset="0.9594" stop-color="#060da0"/><stop offset="0.9959" stop-color="#0307a0"/></linearGradient><linearGradient id="g188" gradientUnits="userSpaceOnUse" x1="1366.0" x2="2102.0" y1="0" y2="0"><stop offset="0.0000" stop-color="#800080"/><stop offset="0.3859" stop-color="#800080"/><stop offset="0.4538" stop-color="#ffff80"/><stop offset="0.5897" stop-color="#80ff00"/><stop offset="0.6304" stop-color="#80ffa0"/><stop offset="0.6359" stop-color="#6fdda0"/><stop offset="0.6440" stop-color="#60bfa0"/><stop offset="0.6576" stop-color="#55aaa0"/><stop offset="0.6780" stop-color="#4488a0"/><stop offset="0.7459" stop-color="#3366a0"/><stop offset="0.8071" stop-color="#2b55a0"/><stop offset="0.8274" stop-color="#2448a0"/><stop offset="0.8682" stop-color="#2040a0"/><stop offset="0.8947" stop-color="#172fa0"/><stop offset="0.9234" stop-color="#0d19a0"/><stop offset="0.9597" stop-color="#060da0"/><stop offset="0.9959" stop-color="#0307a0"/></linearGradient><linearGradient id="g189" gradientUnits="userSpaceOnUse" x1="1366.0" x2="2102.0" y1="0" y2="0"><stop offset="0.0000" stop-color="#800080"/><stop offset="0.3859" stop-color="#800080"/><stop offset="0.4538" stop-color="#ffff80"/><stop offset="0.5897" stop-color="#80ff00"/><stop offset="0.6304" stop-color="#80ffa0"/><stop offset="0.6359" stop-color="#6fdda0"/><stop offset="0.6440" stop-color="#60bfa0"/><stop offset="0.6576" stop-color="#55aaa0"/><stop offset="0.6780" stop-color="#4488a0"/><stop offset="0.7459" stop-color="#3366a0"/><stop offset="0.8071" stop-color="#2b55a0"/><stop offset="0.8274" stop-color="#2448a0"/><stop offset="0.8682" stop-color="#2040a0"/><stop offset="0.8963" stop-color="#172fa0"/><stop offset="0.9243" stop-color="#0d19a0"/><stop offset="0.9601" stop-color="#060da0"/><stop offset="0.9959" stop-color="#0307a0"/></linearGradient><linearGradient id="g190" gradientUnits="userSpaceOnUse" x1="1366.0" x2="2102.0" y1="0" y2="0"><stop offset="0.0000" stop-color="#800080"/><stop offset="0.3859" stop-color="#800080"/><stop offset="0.4538" stop-color="#ffff80"/><stop offset="0.5897" stop-color="#80ff00"/><stop offset="0.6304" stop-color="#80ffa0"/><stop offset="0.6359" stop-color="#6fdda0"/><stop offset="0.6440" stop-color="#60bfa0"/><stop offset="0.6576" stop-color="#55aaa0"/><stop offset="0.6780" stop-color="#4488a0"/><stop offset="0.7459" stop-color="#3366a0"/><stop offset="0.8071" stop-color="#2b55a0"/><stop offset="0.8274" stop-color="#2448a0"/><stop offset="0.8682" stop-color="#2040a0"/><stop offset="0.8979" stop-color="#172fa0"/><stop offset="0.9253" stop-color="#0d19a0"/><stop offset="0.9606" stop-color="#060da0"/><stop offset="0.9959" stop-color="#0307a0"/></linearGradient><linearGradient id="g191" gradientUnits="userSpaceOnUse" x1="1366.0" x2="2102.0" y1="0" y2="0"><stop offset="0.0000" stop-color="#800080"/><stop offset="0.3859" stop-color="#800080"/><stop offset="0.4538" stop-color="#ffff80"/><stop offset="0.5897" stop-color="#80ff00"/><stop offset="0.6304" stop-color="#80ffa0"/><stop offset="0.6359" stop-color="#6fdda0"/><stop offset="0.6440" stop-color="#60bfa0"/><stop offset="0.6576" stop-color="#55aaa0"/><stop offset="0.6780" stop-color="#4488a0"/><stop offset="0.7459" stop-color="#3366a0"/><stop offset="0.8071" stop-color="#2b55a0"/><stop offset="0.8274" stop-color="#2448a0"/><stop offset="0.8682" stop-color="#2040a0"/><stop offset="0.8996" stop-color="#172fa0"/><stop offset="0.9264" stop-color="#0d19a0"/><stop offset="0.9612" stop-color="#060da0"/><stop offset="0.9959" stop-color="#0307a0"/></linearGradient><linearGradient id="g192" gradientUnits="userSpaceOnUse" x1="1366.0" x2="2102.0" y1="0" y2="0"><stop offset="0.0000" stop-color="#800080"/><stop offset="0.3859" stop-color="#800080"/><stop offset="0.4538" stop-color="#ffff80"/><stop offset="0.5897" stop-color="#80ff00"/><stop offset="0.6304" stop-color="#80ffa0"/><stop offset="0.6359" stop-color="#6fdda0"/><stop offset="0.6440" stop-color="#60bfa0"/><stop offset="0.6576" stop-color="#55aaa0"/><stop offset="0.6780" stop-color="#4488a0"/><stop offset="0.7459" stop-color="#3366a0"/><stop offset="0.8071" stop-color="#2b55a0"/><stop offset="0.8274" stop-color="#2448a0"/><stop offset="0.8682" stop-color="#2040a0"/><stop offset="0.9013" stop-color="#172fa0"/><stop offset="0.9277" stop-color="#0d19a0"/><stop offset="0.9619" stop-color="#060da0"/><stop offset="0.9959" stop-color="#0307a0"/></linearGradient><linearGradient id="g193" gradientUnits="userSpaceOnUse" x1="1366.0" x2="2102.0" y1="0" y2="0"><stop offset="0.0000" stop-color="#800080"/><stop offset="0.3859" stop-color="#800080"/><stop offset="0.4538" stop-color="#ffff80"/><stop offset="0.5897" stop-color="#80ff00"/><stop offset="0.6304" stop-color="#80ffa0"/><stop offset="0.6359" stop-color="#6fdda0"/><stop offset="0.6440" stop-color="#60bfa0"/><stop offset="0.6576" stop-color="#55aaa0"/><stop offset="0.6780" stop-color="#4488a0"/><stop offset="0.7459" stop-color="#3366a0"/><stop offset="0.8071" stop-color="#2b55a0"/><stop offset="0.8274" stop-color="#2448a0"/><stop offset="0.8682" stop-color="#2040a0"/><stop offset="0.9030" stop-color="#172fa0"/><stop offset="0.9291" stop-color="#0d19a0"/><stop offset="0.9626" stop-color="#060da0"/><stop offset="0.9959" stop-color="#0307a0"/></linearGradient><linearGradient id="g194" gradientUnits="userSpaceOnUse" x1="1366.0" x2="2102.0" y1="0" y2="0"><stop offset="0.0000" stop-color="#800080"/><stop offset="0.3859" stop-color="#800080"/><stop offset="0.4538" stop-color="#ffff80"/><stop offset="0.5897" stop-color="#80ff00"/><stop offset="0.6304" stop-color="#80ffa0"/><stop offset="0.6359" stop-color="#6fdda0"/><stop offset="0.6440" stop-color="#60bfa0"/><stop offset="0.6576" stop-color="#55aaa0"/><stop offset="0.6780" stop-color="#4488a0"/><stop offset="0.7459" stop-color="#3366a0"/><stop offset="0.8071" stop-color="#2b55a0"/><stop offset="0.8274" stop-color="#2448a0"/><stop offset="0.8682" stop-color="#2040a0"/><stop offset="0.9047" stop-color="#172fa0"/><stop offset="0.9306" stop-color="#0d19a0"/><stop offset="0.9634" stop-color="#060da0"/><stop offset="0.9959" stop-color="#0307a0"/></linearGradient><linearGradient id="g195" gradientUnits="userSpaceOnUse" x1="1366.0" x2="2102.0" y1="0" y2="0"><stop offset="0.0000" stop-color="#800080"/><stop offset="0.3859" stop-color="#800080"/><stop offset="0.4538" stop-color="#ffff80"/><stop offset="0.5897" stop-color="#80ff00"/><stop offset="0.6304" stop-color="#80ffa0"/><stop offset="0.6359" stop-color="#6fdda0"/><stop offset="0.6440" stop-color="#60bfa0"/><stop offset="0.6576" stop-color="#55aaa0"/><stop offset="0.6780" stop-color="#4488a0"/><stop offset="0.7459" stop-color="#3366a0"/><stop offset="0.8071" stop-color="#2b55a0"/><stop offset="0.8274" stop-color="#2448a0"/><stop offset="0.8682" stop-color="#2040a0"/><stop offset="0.9064" stop-color="#172fa0"/><stop offset="0.9321" stop-color="#0d19a0"/><stop offset="0.9643" stop-color="#060da0"/><stop offset="0.9959" stop-color="#0307a0"/></linearGradient><linearGradient id="g196" gradientUnits="userSpaceOnUse" x1="1366.0" x2="2102.0" y1="0" y2="0"><stop offset="0.0000" stop-color="#800080"/><stop offset="0.3859" stop-color="#800080"/><stop offset="0.4538" stop-color="#ffff80"/><stop offset="0.5897" stop-color="#80ff00"/><stop offset="0.6304" stop-color="#80ffa0"/><stop offset="0.6359" stop-color="#6fdda0"/><stop offset="0.6440" stop-color="#60bfa0"/><stop offset="0.6576" stop-color="#55aaa0"/><stop offset="0.6780" stop-color="#4488a0"/><stop offset="0.7459" stop-color="#3366a0"/><stop offset="0.8071" stop-color="#2b55a0"/><stop offset="0.8274" stop-color="#2448a0"/><stop offset="0.8682" stop-color="#2040a0"/><stop offset="0.9081" stop-color="#172fa0"/><stop offset="0.9338" stop-color="#0d19a0"/><stop offset="0.9652" stop-color="#060da0"/><stop offset="0.9959" stop-color="#0307a0"/></linearGradient><linearGradient id="g197" gradientUnits="userSpaceOnUse" x1="1366.0" x2="2102.0" y1="0" y2="0"><stop offset="0.0000" stop-color="#800080"/><stop offset="0.3859" stop-color="#800080"/><stop offset="0.4538" stop-color="#ffff80"/><stop offset="0.5897" stop-color="#80ff00"/><stop offset="0.6304" stop-color="#80ffa0"/><stop offset="0.6359" stop-color="#6fdda0"/><stop offset="0.6440" stop-color="#60bfa0"/><stop offset="0.6576" stop-color="#55aaa0"/><stop offset="0.6780" stop-color="#4488a0"/><stop offset="0.7459" stop-color="#3366a0"/><stop offset="0.8071" stop-color="#2b55a0"/><stop offset="0.8274" stop-color="#2448a0"/><stop offset="0.8682" stop-color="#2040a0"/><stop offset="0.9090" stop-color="#172fa0"/><stop offset="0.9354" stop-color="#0d19a0"/><stop offset="0.9661" stop-color="#060da0"/><stop offset="0.9959" stop-color="#0307a0"/></linearGradient><linearGradient id="g198" gradientUnits="userSpaceOnUse" x1="1366.0" x2="2102.0" y1="0" y2="0"><stop offset="0.0000" stop-color="#800080"/><stop offset="0.3859" stop-color="#800080"/><stop offset="0.4538" stop-color="#ffff80"/><stop offset="0.5897" stop-color="#80ff00"/><stop offset="0.6304" stop-color="#80ffa0"/><stop offset="0.6359" stop-color="#6fdda0"/><stop offset="0.6440" stop-color="#60bfa0"/><stop offset="0.6576" stop-color="#55aaa0"/><stop offset="0.6780" stop-color="#4488a0"/><stop offset="0.7459" stop-color="#3366a0"/><stop offset="0.8071" stop-color="#2b55a0"/><stop offset="0.8274" stop-color="#2448a0"/><stop offset="0.8682" stop-color="#2040a0"/><stop offset="0.9090" stop-color="#172fa0"/><stop offset="0.9371" stop-color="#0d19a0"/><stop offset="0.9670" stop-color="#060da0"/><stop offset="0.9959" stop-color="#0307a0"/></linearGradient><linearGradient id="g199" gradientUnits="userSpaceOnUse" x1="1366.0" x2="2102.0" y1="0" y2="0"><stop offset="0.0000" stop-color="#800080"/><stop offset="0.3859" stop-color="#800080"/><stop offset="0.4538" stop-color="#ffff80"/><stop offset="0.5897" stop-color="#80ff00"/><stop offset="0.6304" stop-color="#80ffa0"/><stop offset="0.6359" stop-color="#6fdda0"/><stop offset="0.6440" stop-color="#60bfa0"/><stop offset="0.6576" stop-color="#55aaa0"/><stop offset="0.6780" stop-color="#4488a0"/><stop offset="0.7459" stop-color="#3366a0"/><stop offset="0.8071" stop-color="#2b55a0"/><stop offset="0.8274" stop-color="#2448a0"/><stop offset="0.8682" stop-color="#2040a0"/><stop offset="0.9090" stop-color="#172fa0"/><stop offset="0.9388" stop-color="#0d19a0"/><stop offset="0.9679" stop-color="#060da0"/><stop offset="0.9959" stop-color="#0307a0"/></linearGradient><linearGradient id="g200" gradientUnits="userSpaceOnUse" x1="1366.0" x2="2102.0" y1="0" y2="0"><stop offset="0.0000" stop-color="#800080"/><stop offset="0.3859" stop-color="#800080"/><stop offset="0.4538" stop-color="#ffff80"/><stop offset="0.5897" stop-color="#80ff00"/><stop offset="0.6304" stop-color="#80ffa0"/><stop offset="0.6359" stop-color="#6fdda0"/><stop offset="0.6440" stop-color="#60bfa0"/><stop offset="0.6576" stop-color="#55aaa0"/><stop offset="0.6780" stop-color="#4488a0"/><stop offset="0.7459" stop-color="#3366a0"/><stop offset="0.8071" stop-color="#2b55a0"/><stop offset="0.8274" stop-color="#2448a0"/><stop offset="0.8682" stop-color="#2040a0"/><stop offset="0.9090" stop-color="#172fa0"/><stop offset="0.9405" stop-color="#0d19a0"/><stop offset="0.9688" stop-color="#060da0"/><stop offset="0.9959" stop-color="#0307a0"/></linearGradient><linearGradient id="g201" gradientUnits="userSpaceOnUse" x1="1366.0" x2="2102.0" y1="0" y2="0"><stop offset="0.0000" stop-color="#800080"/><stop offset="0.3859" stop-color="#800080"/><stop offset="0.4538" stop-color="#ffff80"/><stop offset="0.5897" stop-color="#80ff00"/><stop offset="0.6304" stop-color="#80ffa0"/><stop offset="0.6359" stop-color="#6fdda0"/><stop offset="0.6440" stop-color="#60bfa0"/><stop offset="0.6576" stop-color="#55aaa0"/><stop offset="0.6780" stop-color="#4488a0"/><stop offset="0.7459" stop-color="#3366a0"/><stop offset="0.8071" stop-color="#2b55a0"/><stop offset="0.8274" stop-color="#2448a0"/><stop offset="0.8682" stop-color="#2040a0"/><stop offset="0.9090" stop-color="#172fa0"/><stop offset="0.9421" stop-color="#0d19a0"/><stop offset="0.9697" stop-color="#060da0"/><stop offset="0.9959" stop-color="#0307a0"/></linearGradient><linearGradient id="g202" gradientUnits="userSpaceOnUse" x1="1366.0" x2="2102.0" y1="0" y2="0"><stop offset="0.0000" stop-color="#800080"/><stop offset="0.3859" stop-color="#800080"/><stop offset="0.4538" stop-color="#ffff80"/><stop offset="0.5897" stop-color="#80ff00"/><stop offset="0.6304" stop-color="#80ffa0"/><stop offset="0.6359" stop-color="#6fdda0"/><stop offset="0.6440" stop-color="#60bfa0"/><stop offset="0.6576" stop-color="#55aaa0"/><stop offset="0.6780" stop-color="#4488a0"/><stop offset="0.7459" stop-color="#3366a0"/><stop offset="0.8071" stop-color="#2b55a0"/><stop offset="0.8274" stop-color="#2448a0"/><stop offset="0.8682" stop-color="#2040a0"/><stop offset="0.9090" stop-color="#172fa0"/><stop offset="0.9429" stop-color="#0d19a0"/><stop offset="0.9701" stop-color="#060da0"/><stop offset="0.9959" stop-color="#0307a0"/></linearGradient><linearGradient id="g203" gradientUnits="userSpaceOnUse" x1="1366.0" x2="2102.0" y1="0" y2="0"><stop offset="0.0000" stop-color="#800080"/><stop offset="0.3859" stop-color="#800080"/><stop offset="0.4538" stop-color="#ffff80"/><stop offset="0.5897" stop-color="#80ff00"/><stop offset="0.6304" stop-color="#80ffa0"/><stop offset="0.6359" stop-color="#6fdda0"/><stop offset="0.6440" stop-color="#60bfa0"/><stop offset="0.6576" stop-color="#55aaa0"/><stop offset="0.6780" stop-color="#4488a0"/><stop offset="0.7459" stop-color="#3366a0"/><stop offset="0.8071" stop-color="#2b55a0"/><stop offset="0.8274" stop-color="#2448a0"/><stop offset="0.8682" stop-color="#2040a0"/><stop offset="0.9090" stop-color="#172fa0"/><stop offset="0.9429" stop-color="#0d19a0"/><stop offset="0.9701" stop-color="#060da0"/><stop offset="0.9959" stop-color="#0307a0"/></linearGradient><linearGradient id="g204" gradientUnits="userSpaceOnUse" x1="1366.0" x2="2102.0" y1="0" y2="0"><stop offset="0.0000" stop-color="#800080"/><stop offset="0.3859" stop-color="#800080"/><stop offset="0.4538" stop-color="#ffff80"/><stop offset="0.5897" stop-color="#80ff00"/><stop offset="0.6304" stop-color="#80ffa0"/><stop offset="0.6359" stop-color="#6fdda0"/><stop offset="0.6440" stop-color="#60bfa0"/><stop offset="0.6576" stop-color="#55aaa0"/><stop offset="0.6780" stop-color="#4488a0"/><stop offset="0.7459" stop-color="#3366a0"/><stop offset="0.8071" stop-color="#2b55a0"/><stop offset="0.8274" stop-color="#2448a0"/><stop offset="0.8682" stop-color="#2040a0"/><stop offset="0.9090" stop-color="#172fa0"/><stop offset="0.9429" stop-color="#0d19a0"/><stop offset="0.9701" stop-color="#060da0"/><stop offset="0.9959" stop-color="#0307a0"/></linearGradient><linearGradient id="g205" gradientUnits="userSpaceOnUse" x1="1366.0" x2="2102.0" y1="0" y2="0"><stop offset="0.0000" stop-color="#800080"/><stop offset="0.3859" stop-color="#800080"/><stop offset="0.4538" stop-color="#ffff80"/><stop offset="0.5897" stop-color="#80ff00"/><stop offset="0.6304" stop-color="#80ffa0"/><stop offset="0.6359" stop-color="#6fdda0"/><stop offset="0.6440" stop-color="#60bfa0"/><stop offset="0.6576" stop-color="#55aaa0"/><stop offset="0.6780" stop-color="#4488a0"/><stop offset="0.7459" stop-color="#3366a0"/><stop offset="0.8071" stop-color="#2b55a0"/><stop offset="0.8274" stop-color="#2448a0"/><stop offset="0.8682" stop-color="#2040a0"/><stop offset="0.9090" stop-color="#172fa0"/><stop offset="0.9429" stop-color="#0d19a0"/><stop offset="0.9701" stop-color="#060da0"/><stop offset="0.9959" stop-color="#0307a0"/></linearGradient></defs>
<g id="plotB" filter="url(#soft)">
<path d="M2080 50H2100V570H2090Z" fill="#c4c4c4"/>
<rect x="1366.0" y="50.0" width="716.0" height="4.6" fill="url(#g0)"/><rect x="1366.0" y="54.0" width="716.1" height="4.6" fill="url(#g1)"/><rect x="1366.0" y="58.0" width="716.2" height="4.6" fill="url(#g2)"/><rect x="1366.0" y="62.0" width="716.2" height="4.6" fill="url(#g3)"/><rect x="1366.0" y="66.0" width="716.3" height="4.6" fill="url(#g4)"/><rect x="1366.0" y="70.0" width="716.4" height="4.6" fill="url(#g5)"/><rect x="1366.0" y="74.0" width="716.4" height="4.6" fill="url(#g6)"/><rect x="1366.0" y="78.0" width="716.5" height="4.6" fill="url(#g7)"/><rect x="1366.0" y="82.0" width="716.6" height="4.6" fill="url(#g8)"/><rect x="1366.0" y="86.0" width="716.6" height="4.6" fill="url(#g9)"/><rect x="1366.0" y="90.0" width="716.7" height="4.6" fill="url(#g10)"/><rect x="1366.0" y="94.0" width="716.7" height="4.6" fill="url(#g11)"/><rect x="1366.0" y="98.0" width="716.8" height="4.6" fill="url(#g12)"/><rect x="1366.0" y="102.0" width="716.9" height="4.6" fill="url(#g13)"/><rect x="1366.0" y="106.0" width="716.9" height="4.6" fill="url(#g14)"/><rect x="1366.0" y="110.0" width="717.0" height="4.6" fill="url(#g15)"/><rect x="1366.0" y="114.0" width="717.1" height="4.6" fill="url(#g16)"/><rect x="1366.0" y="118.0" width="717.1" height="4.6" fill="url(#g17)"/><rect x="1366.0" y="122.0" width="717.2" height="4.6" fill="url(#g18)"/><rect x="1366.0" y="126.0" width="717.3" height="4.6" fill="url(#g19)"/><rect x="1366.0" y="130.0" width="717.3" height="4.6" fill="url(#g20)"/><rect x="1366.0" y="134.0" width="717.4" height="4.6" fill="url(#g21)"/><rect x="1366.0" y="138.0" width="717.5" height="4.6" fill="url(#g22)"/><rect x="1366.0" y="142.0" width="717.5" height="4.6" fill="url(#g23)"/><rect x="1366.0" y="146.0" width="717.6" height="4.6" fill="url(#g24)"/><rect x="1366.0" y="150.0" width="717.7" height="4.6" fill="url(#g25)"/><rect x="1366.0" y="154.0" width="717.7" height="4.6" fill="url(#g26)"/><rect x="1366.0" y="158.0" width="717.8" height="4.6" fill="url(#g27)"/><rect x="1366.0" y="162.0" width="717.8" height="4.6" fill="url(#g28)"/><rect x="1366.0" y="166.0" width="717.9" height="4.6" fill="url(#g29)"/><rect x="1366.0" y="170.0" width="718.0" height="4.6" fill="url(#g30)"/><rect x="1366.0" y="174.0" width="718.0" height="4.6" fill="url(#g31)"/><rect x="1366.0" y="178.0" width="718.1" height="4.6" fill="url(#g32)"/><rect x="1366.0" y="182.0" width="718.2" height="4.6" fill="url(#g33)"/><rect x="1366.0" y="186.0" width="718.2" height="4.6" fill="url(#g34)"/><rect x="1366.0" y="190.0" width="718.3" height="4.6" fill="url(#g35)"/><rect x="1366.0" y="194.0" width="718.4" height="4.6" fill="url(#g36)"/><rect x="1366.0" y="198.0" width="718.4" height="4.6" fill="url(#g37)"/><rect x="1366.0" y="202.0" width="718.5" height="4.6" fill="url(#g38)"/><rect x="1366.0" y="206.0" width="718.6" height="4.6" fill="url(#g39)"/><rect x="1366.0" y="210.0" width="718.6" height="4.6" fill="url(#g40)"/><rect x="1366.0" y="214.0" width="718.7" height="4.6" fill="url(#g41)"/><rect x="1366.0" y="218.0" width="718.8" height="4.6" fill="url(#g42)"/><rect x="1366.0" y="222.0" width="718.8" height="4.6" fill="url(#g43)"/><rect x="1366.0" y="226.0" width="718.9" height="4.6" fill="url(#g44)"/><rect x="1366.0" y="230.0" width="718.9" height="4.6" fill="url(#g45)"/><rect x="1366.0" y="234.0" width="719.0" height="4.6" fill="url(#g46)"/><rect x="1366.0" y="238.0" width="719.1" height="4.6" fill="url(#g47)"/><rect x="1366.0" y="242.0" width="719.1" height="4.6" fill="url(#g48)"/><rect x="1366.0" y="246.0" width="719.2" height="4.6" fill="url(#g49)"/><rect x="1366.0" y="250.0" width="719.3" height="4.6" fill="url(#g50)"/><rect x="1366.0" y="254.0" width="719.3" height="4.6" fill="url(#g51)"/><rect x="1366.0" y="258.0" width="719.4" height="4.6" fill="url(#g52)"/><rect x="1366.0" y="262.0" width="719.5" height="4.6" fill="url(#g53)"/><rect x="1366.0" y="266.0" width="719.5" height="4.6" fill="url(#g54)"/><rect x="1366.0" y="270.0" width="719.6" height="4.6" fill="url(#g55)"/><rect x="1366.0" y="274.0" width="719.7" height="4.6" fill="url(#g56)"/><rect x="1366.0" y="278.0" width="719.7" height="4.6" fill="url(#g57)"/><rect x="1366.0" y="282.0" width="719.8" height="4.6" fill="url(#g58)"/><rect x="1366.0" y="286.0" width="719.9" height="4.6" fill="url(#g59)"/><rect x="1366.0" y="290.0" width="719.9" height="4.6" fill="url(#g60)"/><rect x="1366.0" y="294.0" width="720.0" height="4.6" fill="url(#g61)"/><rect x="1366.0" y="298.0" width="720.1" height="4.6" fill="url(#g62)"/><rect x="1366.0" y="302.0" width="720.1" height="4.6" fill="url(#g63)"/><rect x="1366.0" y="306.0" width="720.2" height="4.6" fill="url(#g64)"/><rect x="1366.0" y="310.0" width="720.2" height="4.6" fill="url(#g65)"/><rect x="1366.0" y="314.0" width="720.3" height="4.6" fill="url(#g66)"/><rect x="1366.0" y="318.0" width="720.4" height="4.6" fill="url(#g67)"/><rect x="1366.0" y="322.0" width="720.4" height="4.6" fill="url(#g68)"/><rect x="1366.0" y="326.0" width="720.5" height="4.6" fill="url(#g69)"/><rect x="1366.0" y="330.0" width="720.6" height="4.6" fill="url(#g70)"/><rect x="1366.0" y="334.0" width="720.6" height="4.6" fill="url(#g71)"/><rect x="1366.0" y="338.0" width="720.7" height="4.6" fill="url(#g72)"/><rect x="1366.0" y="342.0" width="720.9" height="4.6" fill="url(#g73)"/><rect x="1366.0" y="346.0" width="721.0" height="4.6" fill="url(#g74)"/><rect x="1366.0" y="350.0" width="721.2" height="4.6" fill="url(#g75)"/><rect x="1366.0" y="354.0" width="721.4" height="4.6" fill="url(#g76)"/><rect x="1366.0" y="358.0" width="721.6" height="4.6" fill="url(#g77)"/><rect x="1366.0" y="362.0" width="721.7" height="4.6" fill="url(#g78)"/><rect x="1366.0" y="366.0" width="721.9" height="4.6" fill="url(#g79)"/><rect x="1366.0" y="370.0" width="722.1" height="4.6" fill="url(#g80)"/><rect x="1366.0" y="374.0" width="722.2" height="4.6" fill="url(#g81)"/><rect x="1366.0" y="378.0" width="722.4" height="4.6" fill="url(#g82)"/><rect x="1366.0" y="382.0" width="722.6" height="4.6" fill="url(#g83)"/><rect x="1366.0" y="386.0" width="722.8" height="4.6" fill="url(#g84)"/><rect x="1366.0" y="390.0" width="722.9" height="4.6" fill="url(#g85)"/><rect x="1366.0" y="394.0" width="723.1" height="4.6" fill="url(#g86)"/><rect x="1366.0" y="398.0" width="723.3" height="4.6" fill="url(#g87)"/><rect x="1366.0" y="402.0" width="723.4" height="4.6" fill="url(#g88)"/><rect x="1366.0" y="406.0" width="723.6" height="4.6" fill="url(#g89)"/><rect x="1366.0" y="410.0" width="723.8" height="4.6" fill="url(#g90)"/><rect x="1366.0" y="414.0" width="724.0" height="4.6" fill="url(#g91)"/><rect x="1366.0" y="418.0" width="724.2" height="4.6" fill="url(#g92)"/><rect x="1366.0" y="422.0" width="724.4" height="4.6" fill="url(#g93)"/><rect x="1366.0" y="426.0" width="724.6" height="4.6" fill="url(#g94)"/><rect x="1366.0" y="430.0" width="724.8" height="4.6" fill="url(#g95)"/><rect x="1366.0" y="434.0" width="725.0" height="4.6" fill="url(#g96)"/><rect x="1366.0" y="438.0" width="725.2" height="4.6" fill="url(#g97)"/><rect x="1366.0" y="442.0" width="725.4" height="4.6" fill="url(#g98)"/><rect x="1366.0" y="446.0" width="725.6" height="4.6" fill="url(#g99)"/><rect x="1366.0" y="450.0" width="725.8" height="4.6" fill="url(#g100)"/><rect x="1366.0" y="454.0" width="726.0" height="4.6" fill="url(#g101)"/><rect x="1366.0" y="458.0" width="726.2" height="4.6" fill="url(#g102)"/><rect x="1366.0" y="462.0" width="726.4" height="4.6" fill="url(#g103)"/><rect x="1366.0" y="466.0" width="726.6" height="4.6" fill="url(#g104)"/><rect x="1366.0" y="470.0" width="726.8" height="4.6" fill="url(#g105)"/><rect x="1366.0" y="474.0" width="727.1" height="4.6" fill="url(#g106)"/><rect x="1366.0" y="478.0" width="727.4" height="4.6" fill="url(#g107)"/><rect x="1366.0" y="482.0" width="727.7" height="4.6" fill="url(#g108)"/><rect x="1366.0" y="486.0" width="728.0" height="4.6" fill="url(#g109)"/><rect x="1366.0" y="490.0" width="728.3" height="4.6" fill="url(#g110)"/><rect x="1366.0" y="494.0" width="728.5" height="4.6" fill="url(#g111)"/><rect x="1366.0" y="498.0" width="728.8" height="4.6" fill="url(#g112)"/><rect x="1366.0" y="502.0" width="729.1" height="4.6" fill="url(#g113)"/><rect x="1366.0" y="506.0" width="729.4" height="4.6" fill="url(#g114)"/><rect x="1366.0" y="510.0" width="729.7" height="4.6" fill="url(#g115)"/><rect x="1366.0" y="514.0" width="729.9" height="4.6" fill="url(#g116)"/><rect x="1366.0" y="518.0" width="730.2" height="4.6" fill="url(#g117)"/><rect x="1366.0" y="522.0" width="730.5" height="4.6" fill="url(#g118)"/><rect x="1366.0" y="526.0" width="730.8" height="4.6" fill="url(#g119)"/><rect x="1366.0" y="530.0" width="731.1" height="4.6" fill="url(#g120)"/><rect x="1366.0" y="534.0" width="731.6" height="4.6" fill="url(#g121)"/><rect x="1366.0" y="538.0" width="732.0" height="4.6" fill="url(#g122)"/><rect x="1366.0" y="542.0" width="732.4" height="4.6" fill="url(#g123)"/><rect x="1366.0" y="546.0" width="732.9" height="4.6" fill="url(#g124)"/><rect x="1366.0" y="550.0" width="733.3" height="4.6" fill="url(#g125)"/><rect x="1366.0" y="554.0" width="733.8" height="4.6" fill="url(#g126)"/><rect x="1366.0" y="558.0" width="734.2" height="4.6" fill="url(#g127)"/><rect x="1366.0" y="562.0" width="734.7" height="4.6" fill="url(#g128)"/><rect x="1366.0" y="566.0" width="735.0" height="4.6" fill="url(#g129)"/><rect x="1366.0" y="570.0" width="735.0" height="4.6" fill="url(#g130)"/><rect x="1366.0" y="574.0" width="735.0" height="4.6" fill="url(#g131)"/><rect x="1366.0" y="578.0" width="735.0" height="4.6" fill="url(#g132)"/><rect x="1366.0" y="582.0" width="735.0" height="4.6" fill="url(#g133)"/><rect x="1366.0" y="586.0" width="735.0" height="4.6" fill="url(#g134)"/><rect x="1366.0" y="590.0" width="735.0" height="4.6" fill="url(#g135)"/><rect x="1366.0" y="594.0" width="735.0" height="4.6" fill="url(#g136)"/><rect x="1366.0" y="598.0" width="735.0" height="4.6" fill="url(#g137)"/><rect x="1366.0" y="602.0" width="735.0" height="2.6" fill="url(#g138)"/><rect x="1366.0" y="604.0" width="735.0" height="2.6" fill="url(#g139)"/><rect x="1366.0" y="606.0" width="735.0" height="2.6" fill="url(#g140)"/><rect x="1366.0" y="608.0" width="735.0" height="2.6" fill="url(#g141)"/><rect x="1366.0" y="610.0" width="735.0" height="2.6" fill="url(#g142)"/><rect x="1366.0" y="612.0" width="735.0" height="2.6" fill="url(#g143)"/><rect x="1366.0" y="614.0" width="735.0" height="2.6" fill="url(#g144)"/><rect x="1366.0" y="616.0" width="735.0" height="2.6" fill="url(#g145)"/><rect x="1366.0" y="618.0" width="735.0" height="2.6" fill="url(#g146)"/><rect x="1366.0" y="620.0" width="735.0" height="2.6" fill="url(#g147)"/><rect x="1366.0" y="622.0" width="735.0" height="2.6" fill="url(#g148)"/><rect x="1366.0" y="624.0" width="735.0" height="2.6" fill="url(#g149)"/><rect x="1366.0" y="626.0" width="735.0" height="2.6" fill="url(#g150)"/><rect x="1366.0" y="628.0" width="735.0" height="2.6" fill="url(#g151)"/><rect x="1366.0" y="630.0" width="735.0" height="2.6" fill="url(#g152)"/><rect x="1366.0" y="632.0" width="735.0" height="2.6" fill="url(#g153)"/><rect x="1366.0" y="634.0" width="735.0" height="2.6" fill="url(#g154)"/><rect x="1366.0" y="636.0" width="735.0" height="2.6" fill="url(#g155)"/><rect x="1366.0" y="638.0" width="735.0" height="2.6" fill="url(#g156)"/><rect x="1366.0" y="640.0" width="735.0" height="2.6" fill="url(#g157)"/><rect x="1366.0" y="642.0" width="735.0" height="2.6" fill="url(#g158)"/><rect x="1366.0" y="644.0" width="735.0" height="2.6" fill="url(#g159)"/><rect x="1366.0" y="646.0" width="735.0" height="2.6" fill="url(#g160)"/><rect x="1366.0" y="648.0" width="735.0" height="2.6" fill="url(#g161)"/><rect x="1366.0" y="650.0" width="735.0" height="2.6" fill="url(#g162)"/><rect x="1366.0" y="652.0" width="735.0" height="2.6" fill="url(#g163)"/><rect x="1366.0" y="654.0" width="735.0" height="2.6" fill="url(#g164)"/><rect x="1366.0" y="656.0" width="735.0" height="2.6" fill="url(#g165)"/><rect x="1366.0" y="658.0" width="735.0" height="2.6" fill="url(#g166)"/><rect x="1366.0" y="660.0" width="735.0" height="2.6" fill="url(#g167)"/><rect x="1366.0" y="662.0" width="735.0" height="2.6" fill="url(#g168)"/><rect x="1366.0" y="664.0" width="735.0" height="2.6" fill="url(#g169)"/><rect x="1366.0" y="666.0" width="735.0" height="2.6" fill="url(#g170)"/><rect x="1366.0" y="668.0" width="735.0" height="2.6" fill="url(#g171)"/><rect x="1366.0" y="670.0" width="735.0" height="2.6" fill="url(#g172)"/><rect x="1366.0" y="672.0" width="735.0" height="2.6" fill="url(#g173)"/><rect x="1366.0" y="674.0" width="735.0" height="2.6" fill="url(#g174)"/><rect x="1366.0" y="676.0" width="735.0" height="2.6" fill="url(#g175)"/><rect x="1366.0" y="678.0" width="735.0" height="2.6" fill="url(#g176)"/><rect x="1366.0" y="680.0" width="735.0" height="2.6" fill="url(#g177)"/><rect x="1366.0" y="682.0" width="735.0" height="2.6" fill="url(#g178)"/><rect x="1366.0" y="684.0" width="735.0" height="2.6" fill="url(#g179)"/><rect x="1366.0" y="686.0" width="735.0" height="2.6" fill="url(#g180)"/><rect x="1366.0" y="688.0" width="735.0" height="2.6" fill="url(#g181)"/><rect x="1366.0" y="690.0" width="735.0" height="2.6" fill="url(#g182)"/><rect x="1366.0" y="692.0" width="735.0" height="2.6" fill="url(#g183)"/><rect x="1366.0" y="694.0" width="735.0" height="2.6" fill="url(#g184)"/><rect x="1366.0" y="696.0" width="735.0" height="2.6" fill="url(#g185)"/><rect x="1366.0" y="698.0" width="735.0" height="2.6" fill="url(#g186)"/><rect x="1366.0" y="700.0" width="735.0" height="2.6" fill="url(#g187)"/><rect x="1366.0" y="702.0" width="735.0" height="2.6" fill="url(#g188)"/><rect x="1366.0" y="704.0" width="735.0" height="2.6" fill="url(#g189)"/><rect x="1366.0" y="706.0" width="735.0" height="2.6" fill="url(#g190)"/><rect x="1366.0" y="708.0" width="735.0" height="2.6" fill="url(#g191)"/><rect x="1366.0" y="710.0" width="735.0" height="2.6" fill="url(#g192)"/><rect x="1366.0" y="712.0" width="735.0" height="2.6" fill="url(#g193)"/><rect x="1366.0" y="714.0" width="735.0" height="2.6" fill="url(#g194)"/><rect x="1366.0" y="716.0" width="735.0" height="2.6" fill="url(#g195)"/><rect x="1366.0" y="718.0" width="735.0" height="2.6" fill="url(#g196)"/><rect x="1366.0" y="720.0" width="735.0" height="2.6" fill="url(#g197)"/><rect x="1366.0" y="722.0" width="735.0" height="2.6" fill="url(#g198)"/><rect x="1366.0" y="724.0" width="735.0" height="2.6" fill="url(#g199)"/><rect x="1366.0" y="726.0" width="735.0" height="2.6" fill="url(#g200)"/><rect x="1366.0" y="728.0" width="735.0" height="2.6" fill="url(#g201)"/><rect x="1366.0" y="730.0" width="735.0" height="2.6" fill="url(#g202)"/><rect x="1366.0" y="732.0" width="735.0" height="2.6" fill="url(#g203)"/><rect x="1366.0" y="734.0" width="735.0" height="2.6" fill="url(#g204)"/><rect x="1366.0" y="736.0" width="735.0" height="2.6" fill="url(#g205)"/>
<path d="M1493.5,737.5 1500.3,729.7 1507.2,722.9 1514.0,717.0 1520.8,711.7 1527.6,707.0 1534.5,702.5 1541.3,698.4 1548.1,694.7 1554.9,691.3 1561.8,688.1 1568.6,685.1 1575.4,682.3 1582.2,679.7 1589.1,677.4 1595.9,675.5 1602.7,673.8 1609.5,672.3 1616.4,671.0 1623.2,669.8 1630.0,668.7 1636.8,667.6 1643.7,666.6 1650.5,665.8 1657.3,665.0 1664.1,664.4 1671.0,663.8 1677.8,663.2 1684.6,662.7 1691.4,662.1 1698.3,661.6 1705.1,661.0 1711.9,660.4 1718.8,659.7 1725.6,659.0 1732.4,658.2 1739.2,657.4 1746.1,656.6 1752.9,655.9 1759.7,655.2 1766.5,654.7 1773.4,654.2 1780.2,653.7 1787.0,653.3 1793.8,653.0 1800.7,653.0 1807.5,653.1 1814.3,653.3 1821.1,653.6 1828.0,653.9 1834.8,654.3 1841.6,654.8 1848.4,655.5 1855.3,656.2 1862.1,657.0 1868.9,657.9 1875.7,658.8 1882.6,659.7 1889.4,660.5 1896.2,661.3 1903.1,662.1 1909.9,662.8 1916.7,663.5 1923.5,664.4 1930.4,665.3 1937.2,666.3 1944.0,667.5 1950.8,669.1 1957.7,671.1 1964.5,673.3 1971.3,675.5 1978.1,677.5 1985.0,679.4 1991.8,681.4 1998.6,683.6 2005.4,686.0 2012.3,688.6 2019.1,691.5 2025.9,694.3 2032.7,697.1 2039.6,699.8 2046.4,702.5 2053.2,705.3 2060.0,708.5 2066.9,712.1 2073.7,715.9 2080.5,720.1 2087.3,724.6 2094.2,729.5 2101.0,735.0 L2101,738.5 L1493.5,738.5Z" fill="#c2c2c2"/>
<path d="M1750.0,653.6 1754.3,653.1 1758.7,652.7 1763.0,652.3 1767.4,652.0 1771.7,651.7 1776.1,651.4 1780.4,651.1 1784.8,650.8 1789.1,650.6 1793.5,650.5 1797.8,650.4 1802.2,650.4 1806.5,650.5 1810.9,650.6 1815.2,650.8 1819.6,650.9 1823.9,651.1 1828.3,651.3 1832.6,651.5 1837.0,651.8 1841.3,652.2 1845.7,652.6 1850.0,653.1 L1850.0,658.1 1845.7,657.6 1841.3,657.2 1837.0,656.8 1832.6,656.5 1828.3,656.3 1823.9,656.1 1819.6,655.9 1815.2,655.8 1810.9,655.6 1806.5,655.5 1802.2,655.4 1797.8,655.4 1793.5,655.5 1789.1,655.6 1784.8,655.8 1780.4,656.1 1776.1,656.4 1771.7,656.7 1767.4,657.0 1763.0,657.3 1758.7,657.7 1754.3,658.1 1750.0,658.6Z" fill="#980870" opacity="1"/>
<path d="M1836.0,652.8 1838.1,652.9 1840.2,653.1 1842.3,653.3 1844.3,653.5 1846.4,653.7 1848.5,653.9 1850.6,654.1 1852.7,654.4 1854.8,654.6 1856.9,654.8 1859.0,655.0 1861.0,655.3 1863.1,655.5 1865.2,655.8 1867.3,656.0 1869.4,656.3 1871.5,656.6 1873.6,656.9 1875.7,657.2 1877.7,657.4 1879.8,657.7 1881.9,658.0 1884.0,658.3 L1884.0,661.9 1881.9,661.6 1879.8,661.3 1877.7,661.0 1875.7,660.8 1873.6,660.5 1871.5,660.2 1869.4,659.9 1867.3,659.6 1865.2,659.4 1863.1,659.1 1861.0,658.9 1859.0,658.6 1856.9,658.4 1854.8,658.2 1852.7,658.0 1850.6,657.7 1848.5,657.5 1846.4,657.3 1844.3,657.1 1842.3,656.9 1840.2,656.7 1838.1,656.5 1836.0,656.4Z" fill="#a83858" opacity="0.85"/>
<path d="M1884.0,655.7 1886.6,656.0 1889.2,656.3 1891.8,656.6 1894.4,656.9 1897.0,657.2 1899.7,657.5 1902.3,657.8 1904.9,658.1 1907.5,658.3 1910.1,658.6 1912.7,658.9 1915.3,659.2 1917.9,659.5 1920.5,659.8 1923.1,660.1 1925.7,660.4 1928.3,660.8 1931.0,661.2 1933.6,661.5 1936.2,661.9 1938.8,662.4 1941.4,662.8 1944.0,663.3 L1944.0,669.7 1941.4,669.2 1938.8,668.8 1936.2,668.3 1933.6,667.9 1931.0,667.6 1928.3,667.2 1925.7,666.8 1923.1,666.5 1920.5,666.2 1917.9,665.9 1915.3,665.6 1912.7,665.3 1910.1,665.0 1907.5,664.7 1904.9,664.5 1902.3,664.2 1899.7,663.9 1897.0,663.6 1894.4,663.3 1891.8,663.0 1889.2,662.7 1886.6,662.4 1884.0,662.1Z" fill="#a8f070" opacity="1"/>
<path d="M1915.0,659.2 1916.3,659.3 1917.5,659.4 1918.8,659.6 1920.0,659.7 1921.3,659.9 1922.6,660.0 1923.8,660.2 1925.1,660.4 1926.3,660.5 1927.6,660.7 1928.9,660.9 1930.1,661.0 1931.4,661.2 1932.7,661.4 1933.9,661.6 1935.2,661.8 1936.4,662.0 1937.7,662.2 1939.0,662.4 1940.2,662.6 1941.5,662.8 1942.7,663.1 1944.0,663.3 L1944.0,669.7 1942.7,669.5 1941.5,669.2 1940.2,669.0 1939.0,668.8 1937.7,668.6 1936.4,668.4 1935.2,668.2 1933.9,668.0 1932.7,667.8 1931.4,667.6 1930.1,667.4 1928.9,667.3 1927.6,667.1 1926.3,666.9 1925.1,666.8 1923.8,666.6 1922.6,666.4 1921.3,666.3 1920.0,666.1 1918.8,666.0 1917.5,665.8 1916.3,665.7 1915.0,665.6Z" fill="#80ffa0" opacity="0.7"/>
<path d="M1365 737.6H2132" stroke="#3a3a3a" stroke-width="3.6"/>
<path d="M1366 50V738" stroke="#3a3a3a" stroke-width="2" opacity="0.55"/>
<path d="M1383.4 737v7.5M1459.8 737v13M1536.2 737v7.5M1612.6 737v13M1689.0 737v7.5M1765.4 737v13M1841.8 737v7.5M1918.2 737v13M1994.6 737v7.5M2071.0 737v13M1367 690.2h-6M1367 631.0h-11.5M1367 571.8h-6M1367 512.5h-11.5M1367 453.2h-6M1367 394.0h-11.5M1367 334.8h-6M1367 275.5h-11.5M1367 216.2h-6M1367 157.0h-11.5M1367 97.8h-6" stroke="#3a3a3a" stroke-width="4.2" fill="none"/>
<g font-family="'Liberation Sans', sans-serif" fill="#404040" stroke="#404040" stroke-width="1.1" stroke-linejoin="round" font-size="45.5">
<text x="1346" y="647.3" text-anchor="end">50</text>
<text x="1346" y="528.8" text-anchor="end">100</text>
<text x="1346" y="410.3" text-anchor="end">150</text>
<text x="1346" y="291.8" text-anchor="end">200</text>
<text x="1346" y="173.3" text-anchor="end">250</text>
<text x="1458.5" y="790.5" text-anchor="middle">0.05</text>
<text x="1611.3" y="790.5" text-anchor="middle">0.10</text>
<text x="1764.1" y="790.5" text-anchor="middle">0.15</text>
<text x="1916.9" y="790.5" text-anchor="middle">0.20</text>
<text x="2069.7" y="790.5" text-anchor="middle">0.25</text>
<text x="2185" y="486" font-size="43.5">0</text>
<text x="2185" y="406" font-size="43.5">3</text>
<text x="2185" y="326" font-size="43.5">6</text>
<text x="2185" y="246" font-size="43.5">9</text>
<text x="2185" y="166" font-size="43.5">12</text>
</g>
<rect x="2120" y="125.5" width="52" height="341.5" fill="url(#cb)"/>
<text transform="translate(1253 389.5) rotate(-90)" text-anchor="middle" font-family="'Liberation Sans', sans-serif" fill="#404040" stroke="#404040" stroke-width="1.1" stroke-linejoin="round" font-size="44"><tspan font-style="italic">T</tspan> (K)</text>
<text transform="translate(2253 306) rotate(90)" text-anchor="middle" font-family="'Liberation Sans', sans-serif" fill="#404040" stroke="#404040" stroke-width="1.1" stroke-linejoin="round" font-size="45"><tspan font-style="italic">N</tspan> (%)</text>
<text x="1781" y="851" text-anchor="middle" font-family="'Liberation Serif', serif" font-style="italic" font-size="76" fill="#222" stroke="#222" stroke-width="0.5">x</text>
</g>
</svg></body></html>
